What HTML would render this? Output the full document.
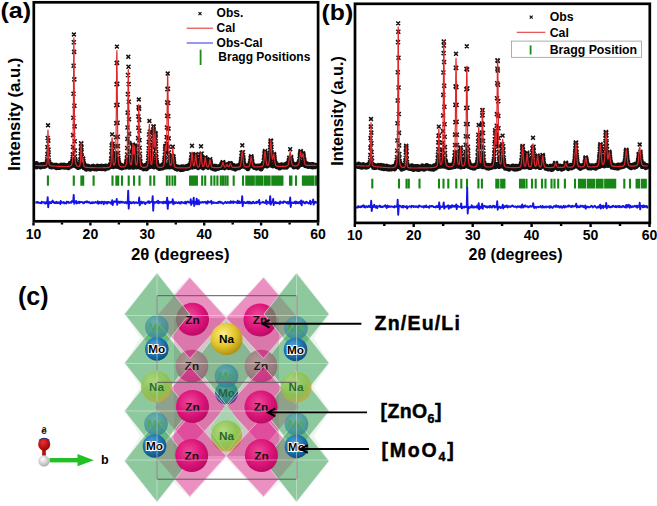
<!DOCTYPE html>
<html><head><meta charset="utf-8">
<style>
html,body{margin:0;padding:0;background:#fff;}
body{width:657px;height:506px;overflow:hidden;position:relative;}
svg{position:absolute;left:0;top:0;}
text{font-family:"Liberation Sans",sans-serif;font-weight:bold;}
.tl{font-size:14px;text-anchor:middle;fill:#000;}
.lg{font-size:12px;fill:#000;}
.lg2{font-size:12.3px;fill:#000;}
.ax{font-size:16px;fill:#000;}
.pl{font-size:22.5px;fill:#000;}
.sl{font-size:11.5px;fill:#111;text-anchor:middle;}
.rl{font-size:19.5px;fill:#000;}
</style></head>
<body>
<svg width="657" height="506" viewBox="0 0 657 506">
<defs>
 <radialGradient id="gZn" cx="0.42" cy="0.38" r="0.65">
  <stop offset="0" stop-color="#ec4a9a"/><stop offset="0.6" stop-color="#dc1479"/><stop offset="1" stop-color="#b80a62"/>
 </radialGradient>
 <radialGradient id="gZnG" cx="0.4" cy="0.35" r="0.7">
  <stop offset="0" stop-color="#b09898"/><stop offset="1" stop-color="#8a7272"/>
 </radialGradient>
 <radialGradient id="gNaY" cx="0.4" cy="0.35" r="0.7">
  <stop offset="0" stop-color="#fbf08a"/><stop offset="0.55" stop-color="#e2c42a"/><stop offset="1" stop-color="#a88a10"/>
 </radialGradient>
 <radialGradient id="gNaG" cx="0.4" cy="0.35" r="0.7">
  <stop offset="0" stop-color="#b9dc80"/><stop offset="0.6" stop-color="#8cc34e"/><stop offset="1" stop-color="#c6a53a"/>
 </radialGradient>
 <radialGradient id="gMo" cx="0.4" cy="0.35" r="0.7">
  <stop offset="0" stop-color="#4fa6d8"/><stop offset="0.6" stop-color="#1a6fa8"/><stop offset="1" stop-color="#0d4a7a"/>
 </radialGradient>
 <radialGradient id="gMoG" cx="0.4" cy="0.35" r="0.7">
  <stop offset="0" stop-color="#5aaab4"/><stop offset="1" stop-color="#2e8090"/>
 </radialGradient>
 <radialGradient id="gWh" cx="0.4" cy="0.35" r="0.7">
  <stop offset="0" stop-color="#ffffff"/><stop offset="1" stop-color="#a8a8a8"/>
 </radialGradient>
 <radialGradient id="gRd" cx="0.4" cy="0.35" r="0.7">
  <stop offset="0" stop-color="#e83030"/><stop offset="1" stop-color="#9a0000"/>
 </radialGradient>
</defs>

<!-- ================= PANEL A ================= -->
<text x="0" y="18.3" class="pl" transform="translate(0.4,0) scale(1.12,1)">(a)</text>
<polyline points="35.2,165.6 35.5,165 35.8,164.9 36.1,164.9 36.4,163.6 36.7,166.9 37,165.1 37.3,165.4 37.6,165.9 37.9,166.1 38.2,165.6 38.5,165.7 38.8,165 39.1,165.5 39.4,166.2 39.7,166.2 40,165.5 40.3,165.5 40.6,166.8 40.9,165.6 41.2,166.7 41.5,164.7 41.8,165.3 42.1,165.6 42.4,166 42.7,166.2 43,164.8 43.3,165.2 43.6,165.2 43.9,164.4 44.2,165.9 44.5,165 44.8,166.2 45.1,165.9 45.4,164.9 45.7,165.6 46,164.8 46.3,164.6 46.6,163.6 46.9,163.7 47.2,163.5 47.5,162.4 47.8,163.7 48.1,163.8 48.4,163.5 48.7,163.1 49,164.1 49.3,164.1 49.6,163.9 49.9,165.3 50.2,165 50.5,166.6 50.8,165.2 51.1,164.6 51.4,165.7 51.7,166.7 52,166.3 52.3,165 52.6,165.6 52.9,166.6 53.2,166.5 53.5,166.6 53.8,165.7 54.1,165.6 54.4,165.5 54.7,166.6 55,166.3 55.3,165.9 55.6,167 55.9,165.4 56.2,166.1 56.5,166.9 56.8,167.5 57.1,165.5 57.4,166.9 57.7,166.9 58,166.4 58.3,167.4 58.6,166.2 58.9,166.5 59.2,166.2 59.5,167.1 59.8,167.2 60.1,166.6 60.4,165.6 60.7,165.5 61,167 61.3,165.3 61.6,165.4 61.9,166.6 62.2,166.5 62.5,166.8 62.8,165.9 63.1,166.4 63.4,166.1 63.7,166.8 64,165.2 64.3,167.2 64.6,165.8 64.9,165.5 65.2,165.9 65.5,166.5 65.8,166.5 66.1,167 66.4,165.9 66.7,166.3 67,166.1 67.3,166.5 67.6,166.1 67.9,166.1 68.2,166.2 68.5,167.6 68.8,166 69.1,165.7 69.4,166.4 69.7,165.4 70,165.5 70.3,163.4 70.6,164.1 70.9,165.1 71.2,165.9 71.5,164.3 71.8,164.7 72.1,164.9 72.4,165.2 72.7,163.7 73,164.7 73.3,164.7 73.6,163.9 73.9,164.5 74.2,164.4 74.5,163.5 74.8,164.6 75.1,165.5 75.4,165.3 75.7,163.7 76,164 76.3,164.4 76.6,165.5 76.9,166 77.2,165 77.5,166.8 77.8,166.7 78.1,167.3 78.4,166.8 78.7,167.2 79,166.4 79.3,166.3 79.6,165.3 79.9,166.8 80.2,164 80.5,164.7 80.8,164.6 81.1,163.9 81.4,164.6 81.7,164.7 82,165 82.3,163.9 82.6,165.5 82.9,165.4 83.2,164.6 83.5,165 83.8,164.1 84.1,167.7 84.4,167.4 84.7,167.5 85,165.3 85.3,167.1 85.6,166.9 85.9,166.3 86.2,169 86.5,167.3 86.8,168.7 87.1,167 87.4,167.6 87.7,166.5 88,167.1 88.3,166.4 88.6,167.1 88.9,167.6 89.2,167.3 89.5,168.8 89.8,167.5 90.1,168.1 90.4,168.6 90.7,169 91,167.9 91.3,167.8 91.6,167.4 91.9,168.2 92.2,167.5 92.5,167.8 92.8,166.4 93.1,167.1 93.4,167.8 93.7,166.5 94,167 94.3,168.3 94.6,167.1 94.9,168.7 95.2,167.4 95.5,167.4 95.8,168.1 96.1,166.9 96.4,168 96.7,168.8 97,168 97.3,167.8 97.6,166.3 97.9,167.4 98.2,168.2 98.5,167.5 98.8,167.7 99.1,168.2 99.4,166.6 99.7,167.8 100,168.2 100.3,168.1 100.6,167.6 100.9,166.7 101.2,168 101.5,168 101.8,166.3 102.1,168.5 102.4,167.5 102.7,166.6 103,168 103.3,168.2 103.6,167.2 103.9,168.2 104.2,168.5 104.5,168.5 104.8,166.7 105.1,168.9 105.4,168.3 105.7,166.2 106,167.4 106.3,166.8 106.6,167.6 106.9,168 107.2,167.3 107.5,167 107.8,167.5 108.1,167.7 108.4,166.8 108.7,167.3 109,166.4 109.3,166.9 109.6,166.4 109.9,165.2 110.2,166.6 110.5,165.5 110.8,165.8 111.1,166.1 111.4,165.5 111.7,165.7 112,165.9 112.3,164.9 112.6,165.6 112.9,166.4 113.2,166.5 113.5,164.6 113.8,165.7 114.1,164.6 114.4,166 114.7,165.3 115,166.1 115.3,165 115.6,165.7 115.9,163.9 116.2,165 116.5,165.9 116.8,165.3 117.1,164.3 117.4,166.4 117.7,165.7 118,164.8 118.3,165 118.6,164.2 118.9,166.5 119.2,166.3 119.5,165.6 119.8,165 120.1,165.3 120.4,167.4 120.7,166.4 121,165.3 121.3,166.2 121.6,166.9 121.9,167.7 122.2,166.7 122.5,166.5 122.8,166.6 123.1,166.8 123.4,167.2 123.7,166.5 124,166.4 124.3,166.5 124.6,166.8 124.9,166.2 125.2,166 125.5,165.5 125.8,167 126.1,164.5 126.4,165.4 126.7,166.1 127,165.1 127.3,165.6 127.6,166.3 127.9,166 128.2,166 128.5,165.8 128.8,165.1 129.1,167 129.4,165 129.7,164.6 130,167 130.3,166.7 130.6,165.9 130.9,163.7 131.2,165.9 131.5,165.5 131.8,166.5 132.1,165 132.4,166 132.7,165.9 133,167.1 133.3,165.6 133.6,167.1 133.9,166.6 134.2,166 134.5,165.4 134.8,165.3 135.1,166.1 135.4,166.3 135.7,164.6 136,166.2 136.3,166 136.6,166.7 136.9,165.5 137.2,165.5 137.5,165.7 137.8,166 138.1,165.1 138.4,165.4 138.7,165.3 139,165.6 139.3,165.7 139.6,165.3 139.9,166.9 140.2,166.5 140.5,165.5 140.8,167.2 141.1,165.9 141.4,165.7 141.7,165.5 142,165.8 142.3,167 142.6,167.1 142.9,168 143.2,166.8 143.5,167.4 143.8,168.7 144.1,168 144.4,167.4 144.7,166.2 145,168.3 145.3,168.1 145.6,165.3 145.9,165.8 146.2,167.3 146.5,168.7 146.8,165.3 147.1,167.3 147.4,165.5 147.7,165.7 148,165.7 148.3,165.8 148.6,166.9 148.9,163.9 149.2,164.2 149.5,166.6 149.8,165.3 150.1,166.3 150.4,164.6 150.7,165.2 151,165.4 151.3,164.8 151.6,164.8 151.9,166 152.2,165.7 152.5,165.8 152.8,166 153.1,164.6 153.4,166.5 153.7,165 154,165.8 154.3,166.7 154.6,166.6 154.9,165.3 155.2,165.7 155.5,165.5 155.8,166.1 156.1,166.1 156.4,165.4 156.7,165.6 157,166.2 157.3,165.2 157.6,166.6 157.9,167.2 158.2,166.2 158.5,167.2 158.8,166.7 159.1,168.2 159.4,167.1 159.7,168.1 160,167.6 160.3,168.1 160.6,166.3 160.9,167.4 161.2,167.2 161.5,167.1 161.8,165.8 162.1,167.5 162.4,165.9 162.7,167.8 163,166.1 163.3,166.7 163.6,164.6 163.9,165.5 164.2,165.9 164.5,165.1 164.8,166.2 165.1,165.9 165.4,166.1 165.7,166.3 166,165.9 166.3,166.9 166.6,166.2 166.9,165.3 167.2,166 167.5,165.6 167.8,164.9 168.1,166.5 168.4,166.1 168.7,166.1 169,166 169.3,166.7 169.6,166.1 169.9,165.9 170.2,166 170.5,166 170.8,164.8 171.1,164.8 171.4,166.6 171.7,166.2 172,165.4 172.3,165.6 172.6,165.2 172.9,166.7 173.2,164.5 173.5,165.9 173.8,165.4 174.1,166.4 174.4,165.7 174.7,166.4 175,166.2 175.3,167.8 175.6,168.3 175.9,166.5 176.2,166.8 176.5,167.9 176.8,168.7 177.1,169 177.4,167 177.7,168.2 178,167.9 178.3,168.2 178.6,167.2 178.9,168.6 179.2,167.9 179.5,168.3 179.8,168.3 180.1,167.7 180.4,168.9 180.7,167.5 181,169.5 181.3,168.4 181.6,167.6 181.9,167 182.2,168.2 182.5,169.4 182.8,168.9 183.1,166.9 183.4,167.2 183.7,167.5 184,169 184.3,167.7 184.6,168.3 184.9,168.3 185.2,168.2 185.5,168.4 185.8,168.2 186.1,167.5 186.4,166.7 186.7,168.1 187,168.1 187.3,168.2 187.6,166.6 187.9,167.1 188.2,167.9 188.5,167.4 188.8,165.8 189.1,167.5 189.4,167 189.7,167.3 190,167.3 190.3,165.9 190.6,165 190.9,165.4 191.2,164.9 191.5,166.1 191.8,166.5 192.1,167 192.4,166.8 192.7,166 193,166.1 193.3,165.6 193.6,166.5 193.9,164.5 194.2,164.7 194.5,164.6 194.8,165.9 195.1,166.5 195.4,164.8 195.7,166.2 196,164.7 196.3,165.4 196.6,165.1 196.9,165.3 197.2,166.3 197.5,166.1 197.8,166.4 198.1,165.8 198.4,167.5 198.7,165.1 199,167 199.3,166 199.6,165.2 199.9,166.6 200.2,166.6 200.5,166.2 200.8,164.9 201.1,165.2 201.4,166 201.7,165.2 202,164.8 202.3,166.3 202.6,165.9 202.9,166.9 203.2,167.7 203.5,165.3 203.8,164.4 204.1,164.9 204.4,164.1 204.7,164.8 205,164.8 205.3,165.7 205.6,164.6 205.9,164.6 206.2,166 206.5,165.7 206.8,166.3 207.1,164.9 207.4,166.6 207.7,166.5 208,167.2 208.3,165.9 208.6,166.2 208.9,164.3 209.2,166.4 209.5,166 209.8,165.4 210.1,165.7 210.4,164.8 210.7,166.6 211,165.3 211.3,165.9 211.6,167.2 211.9,167.8 212.2,166.2 212.5,167.3 212.8,167.6 213.1,168.4 213.4,167.2 213.7,167.3 214,167.6 214.3,166.4 214.6,168 214.9,167.1 215.2,167.1 215.5,169.2 215.8,166.4 216.1,167.6 216.4,168.5 216.7,168.4 217,167.7 217.3,167.3 217.6,168.4 217.9,167.2 218.2,168.2 218.5,167.1 218.8,166.9 219.1,166.9 219.4,167 219.7,166.5 220,167.2 220.3,167.1 220.6,166.9 220.9,166.6 221.2,166.9 221.5,167.3 221.8,163.9 222.1,165.1 222.4,165.8 222.7,165.2 223,165.1 223.3,164.5 223.6,164.7 223.9,166.2 224.2,166.1 224.5,166.2 224.8,167.7 225.1,166.5 225.4,166.7 225.7,165.5 226,166.3 226.3,165.6 226.6,165.6 226.9,164.9 227.2,165.5 227.5,164.7 227.8,165.9 228.1,165.9 228.4,166 228.7,166.4 229,167.5 229.3,166.8 229.6,165.9 229.9,163.9 230.2,165.3 230.5,165.9 230.8,165.6 231.1,164.2 231.4,166 231.7,167.1 232,167.8 232.3,166.5 232.6,166.3 232.9,168 233.2,166.7 233.5,167.1 233.8,165.6 234.1,167.2 234.4,168.2 234.7,168.5 235,166.9 235.3,169 235.6,167.4 235.9,167.4 236.2,167.1 236.5,167.4 236.8,166.7 237.1,166.3 237.4,166 237.7,167.2 238,166.8 238.3,167.5 238.6,166.8 238.9,167 239.2,167.5 239.5,166.9 239.8,165.6 240.1,165.6 240.4,164.4 240.7,165 241,164.7 241.3,166.4 241.6,166.2 241.9,163.9 242.2,164.4 242.5,165.5 242.8,164.7 243.1,164.5 243.4,165.1 243.7,165 244,166.1 244.3,165.8 244.6,165.8 244.9,166.6 245.2,166.3 245.5,165.6 245.8,166.9 246.1,167.2 246.4,166.6 246.7,167 247,166.2 247.3,167.3 247.6,166.6 247.9,168.7 248.2,166.3 248.5,166.6 248.8,166.5 249.1,166.3 249.4,164.7 249.7,165.3 250,165.1 250.3,164.8 250.6,165.4 250.9,165.4 251.2,164.5 251.5,164.3 251.8,165.3 252.1,165.5 252.4,164.8 252.7,165.2 253,165.2 253.3,166.5 253.6,166.3 253.9,166.5 254.2,167.3 254.5,166.5 254.8,167 255.1,166.4 255.4,167.4 255.7,166.9 256,166.3 256.3,167.1 256.6,168 256.9,166.9 257.2,166.5 257.5,166.9 257.8,166.3 258.1,167.3 258.4,166.7 258.7,167.5 259,167.6 259.3,166.2 259.6,166.9 259.9,166.8 260.2,167.1 260.5,166.8 260.8,167 261.1,168.8 261.4,166.5 261.7,165.4 262,165.9 262.3,166.1 262.6,166.6 262.9,166.1 263.2,163.9 263.5,165.5 263.8,165.1 264.1,164.3 264.4,164 264.7,163.5 265,163.6 265.3,165.2 265.6,164.3 265.9,164.1 266.2,164.1 266.5,164.7 266.8,165.2 267.1,165.8 267.4,164.6 267.7,165.3 268,164.7 268.3,164.9 268.6,164.3 268.9,163.8 269.2,163.9 269.5,164.3 269.8,164.1 270.1,163.7 270.4,164.9 270.7,164.2 271,164.4 271.3,164.9 271.6,164.7 271.9,164.8 272.2,164.3 272.5,164.5 272.8,165.7 273.1,164.4 273.4,165.6 273.7,163.8 274,163.5 274.3,165.4 274.6,164.5 274.9,164.3 275.2,162.7 275.5,165.1 275.8,165.4 276.1,165.6 276.4,165.5 276.7,166.5 277,166.2 277.3,165.6 277.6,166.3 277.9,165 278.2,165.9 278.5,165.8 278.8,167 279.1,166.3 279.4,166.1 279.7,167.8 280,165.8 280.3,165.5 280.6,165.8 280.9,166 281.2,166.4 281.5,164.9 281.8,165.1 282.1,165.9 282.4,166.9 282.7,166.4 283,166.1 283.3,166.5 283.6,165.9 283.9,166.2 284.2,165.2 284.5,167 284.8,165.3 285.1,166.3 285.4,165.8 285.7,165.7 286,165.3 286.3,164.2 286.6,167 286.9,165.6 287.2,164.1 287.5,165.4 287.8,165.4 288.1,163.5 288.4,163.8 288.7,163.2 289,163.4 289.3,164.1 289.6,163.1 289.9,163.8 290.2,164.1 290.5,164.7 290.8,164.3 291.1,163 291.4,163.2 291.7,163.4 292,162.7 292.3,164.8 292.6,164.6 292.9,164.1 293.2,164.5 293.5,166 293.8,166.7 294.1,165.5 294.4,165.4 294.7,165.6 295,164.7 295.3,166.5 295.6,165.4 295.9,166.1 296.2,165.3 296.5,165.4 296.8,164.6 297.1,164.9 297.4,166.5 297.7,167 298,166.1 298.3,165.3 298.6,164.9 298.9,162.7 299.2,164.1 299.5,164.2 299.8,164.8 300.1,164.3 300.4,164 300.7,162.9 301,163.8 301.3,162.8 301.6,162.9 301.9,164.2 302.2,164.1 302.5,162.7 302.8,164 303.1,163 303.4,163.7 303.7,164.1 304,163.6 304.3,164.5 304.6,163.3 304.9,164.5 305.2,163.7 305.5,165.6 305.8,165.3 306.1,164.7 306.4,165.2 306.7,163.8 307,165.4 307.3,165.1 307.6,165.4 307.9,165.3 308.2,166.4 308.5,165.9 308.8,164.5 309.1,164.9 309.4,165.9 309.7,165.6 310,166 310.3,164.9 310.6,165.8 310.9,165.3 311.2,166.6 311.5,166.6 311.8,166 312.1,164.6 312.4,166.2 312.7,166.8 313,165.2 313.3,164.8 313.6,165.4 313.9,166.5 314.2,166.4 314.5,166 314.8,166 315.1,166.5 315.4,165.4 315.7,165.3 316,165.5" fill="none" stroke="#111" stroke-width="5.3" stroke-linejoin="round"/>
<path d="M45.1 159.4l4 4m0 -4l-4 4M45.2 157.3l4 4m0 -4l-4 4M45.4 152.1l4 4m0 -4l-4 4M45.5 145.1l4 4m0 -4l-4 4M45.7 136l4 4m0 -4l-4 4M46.3 138.6l4 4m0 -4l-4 4M46.5 147.6l4 4m0 -4l-4 4M46.7 152.8l4 4m0 -4l-4 4M46.8 158.2l4 4m0 -4l-4 4M47 160.2l4 4m0 -4l-4 4M70.2 161.4l4 4m0 -4l-4 4M70.3 159.7l4 4m0 -4l-4 4M70.5 158.9l4 4m0 -4l-4 4M70.7 157l4 4m0 -4l-4 4M70.8 152.4l4 4m0 -4l-4 4M71 145l4 4m0 -4l-4 4M71.1 133.1l4 4m0 -4l-4 4M71.3 115.7l4 4m0 -4l-4 4M71.5 91.7l4 4m0 -4l-4 4M71.6 63.7l4 4m0 -4l-4 4M71.8 40.3l4 4m0 -4l-4 4M72.1 49.9l4 4m0 -4l-4 4M72.3 77.4l4 4m0 -4l-4 4M72.4 103.8l4 4m0 -4l-4 4M72.6 124.4l4 4m0 -4l-4 4M72.7 139.2l4 4m0 -4l-4 4M72.9 148.5l4 4m0 -4l-4 4M73.1 154.5l4 4m0 -4l-4 4M73.2 157.8l4 4m0 -4l-4 4M73.4 159l4 4m0 -4l-4 4M73.5 160.4l4 4m0 -4l-4 4M73.7 161.7l4 4m0 -4l-4 4M78.3 159.9l4 4m0 -4l-4 4M78.5 157.9l4 4m0 -4l-4 4M78.7 154.1l4 4m0 -4l-4 4M78.8 149.2l4 4m0 -4l-4 4M79 144.8l4 4m0 -4l-4 4M79.1 141.4l4 4m0 -4l-4 4M79.3 141.5l4 4m0 -4l-4 4M79.5 145.4l4 4m0 -4l-4 4M79.6 150.3l4 4m0 -4l-4 4M79.8 154.6l4 4m0 -4l-4 4M79.9 157.7l4 4m0 -4l-4 4M80.1 159.7l4 4m0 -4l-4 4M80.3 159.9l4 4m0 -4l-4 4M80.4 160.4l4 4m0 -4l-4 4M80.6 158.8l4 4m0 -4l-4 4M80.7 157.4l4 4m0 -4l-4 4M80.9 156.8l4 4m0 -4l-4 4M81.1 156.6l4 4m0 -4l-4 4M81.2 156.7l4 4m0 -4l-4 4M81.4 159.2l4 4m0 -4l-4 4M81.5 161.2l4 4m0 -4l-4 4M108.9 162l4 4m0 -4l-4 4M109.1 159.3l4 4m0 -4l-4 4M109.2 157l4 4m0 -4l-4 4M109.4 153.3l4 4m0 -4l-4 4M109.5 149l4 4m0 -4l-4 4M109.7 143.4l4 4m0 -4l-4 4M110.5 141.7l4 4m0 -4l-4 4M110.7 148.4l4 4m0 -4l-4 4M110.8 153.2l4 4m0 -4l-4 4M111 156.8l4 4m0 -4l-4 4M111.1 159.2l4 4m0 -4l-4 4M111.3 160.9l4 4m0 -4l-4 4M111.5 162.2l4 4m0 -4l-4 4M111.6 162.2l4 4m0 -4l-4 4M112.6 162.6l4 4m0 -4l-4 4M112.7 161.9l4 4m0 -4l-4 4M112.9 161.5l4 4m0 -4l-4 4M113.1 159.7l4 4m0 -4l-4 4M113.2 159.2l4 4m0 -4l-4 4M113.4 158l4 4m0 -4l-4 4M113.5 155.2l4 4m0 -4l-4 4M113.7 151.6l4 4m0 -4l-4 4M113.9 144l4 4m0 -4l-4 4M114 135.2l4 4m0 -4l-4 4M114.2 121.2l4 4m0 -4l-4 4M114.3 103.3l4 4m0 -4l-4 4M114.5 82.2l4 4m0 -4l-4 4M114.7 61l4 4m0 -4l-4 4M115.1 60.7l4 4m0 -4l-4 4M115.3 81.8l4 4m0 -4l-4 4M115.5 102.7l4 4m0 -4l-4 4M115.6 120.7l4 4m0 -4l-4 4M115.8 134.7l4 4m0 -4l-4 4M115.9 144.1l4 4m0 -4l-4 4M116.1 151l4 4m0 -4l-4 4M116.3 156l4 4m0 -4l-4 4M116.4 157.9l4 4m0 -4l-4 4M116.6 160.3l4 4m0 -4l-4 4M116.7 161l4 4m0 -4l-4 4M116.9 161.2l4 4m0 -4l-4 4M117.1 162.5l4 4m0 -4l-4 4M124.1 162.5l4 4m0 -4l-4 4M124.3 161.6l4 4m0 -4l-4 4M124.4 160.3l4 4m0 -4l-4 4M124.6 160.3l4 4m0 -4l-4 4M124.7 158.8l4 4m0 -4l-4 4M124.9 156.5l4 4m0 -4l-4 4M125.1 152.5l4 4m0 -4l-4 4M125.2 146l4 4m0 -4l-4 4M125.4 136.9l4 4m0 -4l-4 4M125.5 125.5l4 4m0 -4l-4 4M125.7 110.6l4 4m0 -4l-4 4M125.9 92.1l4 4m0 -4l-4 4M126 73l4 4m0 -4l-4 4M126.5 64.7l4 4m0 -4l-4 4M126.7 82l4 4m0 -4l-4 4M126.8 99.7l4 4m0 -4l-4 4M127 117.3l4 4m0 -4l-4 4M127.1 131.9l4 4m0 -4l-4 4M127.3 141l4 4m0 -4l-4 4M127.5 149.8l4 4m0 -4l-4 4M127.6 154.5l4 4m0 -4l-4 4M127.8 157.5l4 4m0 -4l-4 4M127.9 159.3l4 4m0 -4l-4 4M128.1 160.5l4 4m0 -4l-4 4M128.3 161.4l4 4m0 -4l-4 4M128.4 162.3l4 4m0 -4l-4 4M128.6 161.6l4 4m0 -4l-4 4M128.7 161.6l4 4m0 -4l-4 4M128.9 161.7l4 4m0 -4l-4 4M129.1 162.6l4 4m0 -4l-4 4M129.2 162.9l4 4m0 -4l-4 4M129.4 162l4 4m0 -4l-4 4M129.5 162l4 4m0 -4l-4 4M129.7 161.1l4 4m0 -4l-4 4M129.9 160.2l4 4m0 -4l-4 4M130 158.2l4 4m0 -4l-4 4M130.2 155.5l4 4m0 -4l-4 4M130.3 152l4 4m0 -4l-4 4M130.5 148.4l4 4m0 -4l-4 4M130.7 145.4l4 4m0 -4l-4 4M130.8 142.6l4 4m0 -4l-4 4M131 142.8l4 4m0 -4l-4 4M131.1 143.9l4 4m0 -4l-4 4M131.3 147.4l4 4m0 -4l-4 4M131.5 149.7l4 4m0 -4l-4 4M131.6 151.7l4 4m0 -4l-4 4M131.8 151.5l4 4m0 -4l-4 4M131.9 151.8l4 4m0 -4l-4 4M132.1 149.5l4 4m0 -4l-4 4M132.3 147.9l4 4m0 -4l-4 4M132.4 145.5l4 4m0 -4l-4 4M132.6 143.8l4 4m0 -4l-4 4M132.7 145.7l4 4m0 -4l-4 4M132.9 148.4l4 4m0 -4l-4 4M133.1 151.9l4 4m0 -4l-4 4M133.2 154.8l4 4m0 -4l-4 4M133.4 156.9l4 4m0 -4l-4 4M133.5 159.7l4 4m0 -4l-4 4M133.7 160.2l4 4m0 -4l-4 4M133.9 161.6l4 4m0 -4l-4 4M134 162.5l4 4m0 -4l-4 4M134.2 162l4 4m0 -4l-4 4M134.7 163.1l4 4m0 -4l-4 4M134.8 162.6l4 4m0 -4l-4 4M135 161.9l4 4m0 -4l-4 4M135.1 160.3l4 4m0 -4l-4 4M135.3 159.7l4 4m0 -4l-4 4M135.5 158.3l4 4m0 -4l-4 4M135.6 155.2l4 4m0 -4l-4 4M135.8 150.2l4 4m0 -4l-4 4M135.9 143.8l4 4m0 -4l-4 4M136.1 136.1l4 4m0 -4l-4 4M136.3 125.7l4 4m0 -4l-4 4M136.4 114.4l4 4m0 -4l-4 4M136.6 105.2l4 4m0 -4l-4 4M137.1 106.6l4 4m0 -4l-4 4M137.2 117.9l4 4m0 -4l-4 4M137.4 128.8l4 4m0 -4l-4 4M137.5 138.1l4 4m0 -4l-4 4M137.7 145.8l4 4m0 -4l-4 4M137.9 151.7l4 4m0 -4l-4 4M138 156.4l4 4m0 -4l-4 4M138.2 159l4 4m0 -4l-4 4M138.3 160.3l4 4m0 -4l-4 4M138.5 162.5l4 4m0 -4l-4 4M138.7 162.7l4 4m0 -4l-4 4M145.9 162.2l4 4m0 -4l-4 4M146 161.2l4 4m0 -4l-4 4M146.2 158.7l4 4m0 -4l-4 4M146.3 155.9l4 4m0 -4l-4 4M146.5 151.4l4 4m0 -4l-4 4M146.7 146.3l4 4m0 -4l-4 4M146.8 139.9l4 4m0 -4l-4 4M147 132.5l4 4m0 -4l-4 4M147.8 129.8l4 4m0 -4l-4 4M147.9 137.5l4 4m0 -4l-4 4M148.1 143.8l4 4m0 -4l-4 4M148.3 150l4 4m0 -4l-4 4M148.4 154l4 4m0 -4l-4 4M148.6 156.9l4 4m0 -4l-4 4M148.7 159.5l4 4m0 -4l-4 4M148.9 160.4l4 4m0 -4l-4 4M149.1 162.8l4 4m0 -4l-4 4M149.2 161.8l4 4m0 -4l-4 4M149.4 162.3l4 4m0 -4l-4 4M149.5 162.9l4 4m0 -4l-4 4M149.7 161.9l4 4m0 -4l-4 4M149.9 161.3l4 4m0 -4l-4 4M150 160.4l4 4m0 -4l-4 4M150.2 160l4 4m0 -4l-4 4M150.3 157l4 4m0 -4l-4 4M150.5 155.3l4 4m0 -4l-4 4M150.7 151l4 4m0 -4l-4 4M150.8 145.7l4 4m0 -4l-4 4M151 140.4l4 4m0 -4l-4 4M151.1 133.7l4 4m0 -4l-4 4M151.3 128l4 4m0 -4l-4 4M151.5 124.4l4 4m0 -4l-4 4M151.6 124.9l4 4m0 -4l-4 4M151.8 129.5l4 4m0 -4l-4 4M151.9 133.7l4 4m0 -4l-4 4M152.1 138.8l4 4m0 -4l-4 4M152.3 142.4l4 4m0 -4l-4 4M152.4 144.9l4 4m0 -4l-4 4M152.6 144.4l4 4m0 -4l-4 4M152.7 143.2l4 4m0 -4l-4 4M152.9 141.2l4 4m0 -4l-4 4M153.1 136.2l4 4m0 -4l-4 4M153.2 133.3l4 4m0 -4l-4 4M153.4 131.1l4 4m0 -4l-4 4M153.5 132.1l4 4m0 -4l-4 4M153.7 136.4l4 4m0 -4l-4 4M153.9 141.6l4 4m0 -4l-4 4M154 147.2l4 4m0 -4l-4 4M154.2 151.8l4 4m0 -4l-4 4M154.3 155.4l4 4m0 -4l-4 4M154.5 158l4 4m0 -4l-4 4M154.7 160l4 4m0 -4l-4 4M154.8 161.6l4 4m0 -4l-4 4M155 162.4l4 4m0 -4l-4 4M162 162.1l4 4m0 -4l-4 4M162.2 162.3l4 4m0 -4l-4 4M162.3 160.3l4 4m0 -4l-4 4M162.5 157.6l4 4m0 -4l-4 4M162.7 155.7l4 4m0 -4l-4 4M162.8 153l4 4m0 -4l-4 4M163 149.8l4 4m0 -4l-4 4M163.1 146.6l4 4m0 -4l-4 4M163.3 144.8l4 4m0 -4l-4 4M163.5 144l4 4m0 -4l-4 4M163.6 145l4 4m0 -4l-4 4M163.8 146.9l4 4m0 -4l-4 4M163.9 147.8l4 4m0 -4l-4 4M164.1 148.9l4 4m0 -4l-4 4M164.3 148.2l4 4m0 -4l-4 4M164.4 145.8l4 4m0 -4l-4 4M164.6 141.6l4 4m0 -4l-4 4M164.7 135.1l4 4m0 -4l-4 4M164.9 125.5l4 4m0 -4l-4 4M165.1 113.7l4 4m0 -4l-4 4M165.2 100.4l4 4m0 -4l-4 4M165.4 87.1l4 4m0 -4l-4 4M166 86.8l4 4m0 -4l-4 4M166.2 101l4 4m0 -4l-4 4M166.3 114.3l4 4m0 -4l-4 4M166.5 126.6l4 4m0 -4l-4 4M166.7 136.4l4 4m0 -4l-4 4M166.8 144.8l4 4m0 -4l-4 4M167 150.5l4 4m0 -4l-4 4M167.1 154.4l4 4m0 -4l-4 4M167.3 157.7l4 4m0 -4l-4 4M167.5 159.8l4 4m0 -4l-4 4M167.6 160.8l4 4m0 -4l-4 4M167.8 161l4 4m0 -4l-4 4M167.9 162.2l4 4m0 -4l-4 4M168.1 162.8l4 4m0 -4l-4 4M169.2 163.2l4 4m0 -4l-4 4M169.4 162.7l4 4m0 -4l-4 4M169.5 161.7l4 4m0 -4l-4 4M169.7 160l4 4m0 -4l-4 4M169.9 158.6l4 4m0 -4l-4 4M170 156.5l4 4m0 -4l-4 4M170.2 153.6l4 4m0 -4l-4 4M171.5 154.6l4 4m0 -4l-4 4M171.6 156.9l4 4m0 -4l-4 4M171.8 158.7l4 4m0 -4l-4 4M171.9 160.6l4 4m0 -4l-4 4M172.1 162.2l4 4m0 -4l-4 4M188.7 161.4l4 4m0 -4l-4 4M188.9 159.2l4 4m0 -4l-4 4M189.1 157.7l4 4m0 -4l-4 4M189.2 155.5l4 4m0 -4l-4 4M189.4 152.4l4 4m0 -4l-4 4M190.7 153.1l4 4m0 -4l-4 4M190.8 156.2l4 4m0 -4l-4 4M191 158.9l4 4m0 -4l-4 4M191.1 160.3l4 4m0 -4l-4 4M191.3 161.5l4 4m0 -4l-4 4M191.5 162.9l4 4m0 -4l-4 4M192.4 162.3l4 4m0 -4l-4 4M192.6 162.1l4 4m0 -4l-4 4M192.7 160.7l4 4m0 -4l-4 4M192.9 159.4l4 4m0 -4l-4 4M193.1 157.4l4 4m0 -4l-4 4M193.2 156l4 4m0 -4l-4 4M193.4 154.3l4 4m0 -4l-4 4M193.5 152.8l4 4m0 -4l-4 4M193.7 152.4l4 4m0 -4l-4 4M193.9 152.3l4 4m0 -4l-4 4M194 154.5l4 4m0 -4l-4 4M194.2 155.8l4 4m0 -4l-4 4M194.3 157.8l4 4m0 -4l-4 4M194.5 159.1l4 4m0 -4l-4 4M194.7 160.6l4 4m0 -4l-4 4M194.8 161.7l4 4m0 -4l-4 4M197.5 162.9l4 4m0 -4l-4 4M197.7 161.1l4 4m0 -4l-4 4M197.9 159.7l4 4m0 -4l-4 4M198 158.1l4 4m0 -4l-4 4M198.2 155.4l4 4m0 -4l-4 4M198.3 152.9l4 4m0 -4l-4 4M199.6 151.6l4 4m0 -4l-4 4M199.8 155.2l4 4m0 -4l-4 4M199.9 157.8l4 4m0 -4l-4 4M200.1 159.9l4 4m0 -4l-4 4M200.3 161.5l4 4m0 -4l-4 4M200.4 162.5l4 4m0 -4l-4 4M202.3 162.4l4 4m0 -4l-4 4M202.5 159.9l4 4m0 -4l-4 4M202.7 159.3l4 4m0 -4l-4 4M202.8 158.2l4 4m0 -4l-4 4M203 156l4 4m0 -4l-4 4M203.1 155.6l4 4m0 -4l-4 4M203.3 156l4 4m0 -4l-4 4M203.5 155.6l4 4m0 -4l-4 4M203.6 157.2l4 4m0 -4l-4 4M203.8 158.4l4 4m0 -4l-4 4M203.9 159.9l4 4m0 -4l-4 4M204.1 161l4 4m0 -4l-4 4M204.3 162l4 4m0 -4l-4 4M207.1 162.3l4 4m0 -4l-4 4M207.3 160.7l4 4m0 -4l-4 4M207.5 160.7l4 4m0 -4l-4 4M207.6 158.9l4 4m0 -4l-4 4M207.8 157.8l4 4m0 -4l-4 4M207.9 157.8l4 4m0 -4l-4 4M208.1 157.2l4 4m0 -4l-4 4M208.3 159.2l4 4m0 -4l-4 4M208.4 160.2l4 4m0 -4l-4 4M208.6 160.8l4 4m0 -4l-4 4M208.7 161l4 4m0 -4l-4 4M208.9 162.5l4 4m0 -4l-4 4M220.4 161.7l4 4m0 -4l-4 4M220.6 160.8l4 4m0 -4l-4 4M220.7 160.4l4 4m0 -4l-4 4M220.9 160.5l4 4m0 -4l-4 4M221.1 160.3l4 4m0 -4l-4 4M221.2 160.9l4 4m0 -4l-4 4M221.4 161.6l4 4m0 -4l-4 4M228.1 161.4l4 4m0 -4l-4 4M228.3 161.5l4 4m0 -4l-4 4M228.4 161.4l4 4m0 -4l-4 4M228.6 162.3l4 4m0 -4l-4 4M228.7 162.1l4 4m0 -4l-4 4M238.8 161.4l4 4m0 -4l-4 4M239 160.1l4 4m0 -4l-4 4M239.1 158.5l4 4m0 -4l-4 4M239.3 156.6l4 4m0 -4l-4 4M239.5 154.2l4 4m0 -4l-4 4M239.6 150.9l4 4m0 -4l-4 4M240.9 150.3l4 4m0 -4l-4 4M241.1 153l4 4m0 -4l-4 4M241.2 155.3l4 4m0 -4l-4 4M241.4 157.4l4 4m0 -4l-4 4M241.5 158.9l4 4m0 -4l-4 4M241.7 160.5l4 4m0 -4l-4 4M241.9 161.9l4 4m0 -4l-4 4M248.1 161.3l4 4m0 -4l-4 4M248.3 160.6l4 4m0 -4l-4 4M248.4 159.3l4 4m0 -4l-4 4M248.6 158.5l4 4m0 -4l-4 4M248.7 156.4l4 4m0 -4l-4 4M248.9 155.8l4 4m0 -4l-4 4M249.1 155.2l4 4m0 -4l-4 4M249.2 154.3l4 4m0 -4l-4 4M249.4 155.1l4 4m0 -4l-4 4M249.5 156l4 4m0 -4l-4 4M249.7 157l4 4m0 -4l-4 4M249.9 158.7l4 4m0 -4l-4 4M250 159.7l4 4m0 -4l-4 4M250.2 160.5l4 4m0 -4l-4 4M250.3 161.9l4 4m0 -4l-4 4M261.5 161.6l4 4m0 -4l-4 4M261.7 161.6l4 4m0 -4l-4 4M261.9 158.7l4 4m0 -4l-4 4M262 158l4 4m0 -4l-4 4M262.2 156.3l4 4m0 -4l-4 4M262.3 154.6l4 4m0 -4l-4 4M262.5 152l4 4m0 -4l-4 4M262.7 151.1l4 4m0 -4l-4 4M262.8 149.6l4 4m0 -4l-4 4M263 149.5l4 4m0 -4l-4 4M263.1 149.1l4 4m0 -4l-4 4M263.3 151.3l4 4m0 -4l-4 4M263.5 152.1l4 4m0 -4l-4 4M263.6 153.7l4 4m0 -4l-4 4M263.8 155.7l4 4m0 -4l-4 4M263.9 156.6l4 4m0 -4l-4 4M264.1 158.2l4 4m0 -4l-4 4M264.3 160l4 4m0 -4l-4 4M264.4 160.7l4 4m0 -4l-4 4M267 161.1l4 4m0 -4l-4 4M267.1 159.3l4 4m0 -4l-4 4M267.3 158.4l4 4m0 -4l-4 4M267.5 156.8l4 4m0 -4l-4 4M267.6 156.2l4 4m0 -4l-4 4M267.8 153.2l4 4m0 -4l-4 4M267.9 151.3l4 4m0 -4l-4 4M268.1 147.8l4 4m0 -4l-4 4M268.3 145.4l4 4m0 -4l-4 4M268.4 142l4 4m0 -4l-4 4M268.6 139.7l4 4m0 -4l-4 4M268.7 138.6l4 4m0 -4l-4 4M268.9 138.7l4 4m0 -4l-4 4M269.1 139.3l4 4m0 -4l-4 4M269.2 142.5l4 4m0 -4l-4 4M269.4 144.8l4 4m0 -4l-4 4M269.5 147.7l4 4m0 -4l-4 4M269.7 150.5l4 4m0 -4l-4 4M269.9 152.6l4 4m0 -4l-4 4M270 154.5l4 4m0 -4l-4 4M270.2 156.3l4 4m0 -4l-4 4M270.3 157.2l4 4m0 -4l-4 4M270.5 157.9l4 4m0 -4l-4 4M270.7 156.9l4 4m0 -4l-4 4M270.8 156.7l4 4m0 -4l-4 4M271 156l4 4m0 -4l-4 4M271.1 155l4 4m0 -4l-4 4M271.3 154.3l4 4m0 -4l-4 4M271.5 153.3l4 4m0 -4l-4 4M271.6 152.2l4 4m0 -4l-4 4M271.8 152l4 4m0 -4l-4 4M271.9 152.8l4 4m0 -4l-4 4M272.1 153.1l4 4m0 -4l-4 4M272.3 154.9l4 4m0 -4l-4 4M272.4 155.8l4 4m0 -4l-4 4M272.6 157.4l4 4m0 -4l-4 4M272.7 159.2l4 4m0 -4l-4 4M272.9 159.4l4 4m0 -4l-4 4M273.1 160.7l4 4m0 -4l-4 4M286.7 161l4 4m0 -4l-4 4M286.8 159.6l4 4m0 -4l-4 4M287 158.9l4 4m0 -4l-4 4M287.1 157.9l4 4m0 -4l-4 4M287.3 155.9l4 4m0 -4l-4 4M289.1 155l4 4m0 -4l-4 4M289.2 156.5l4 4m0 -4l-4 4M289.4 158.2l4 4m0 -4l-4 4M289.5 159.1l4 4m0 -4l-4 4M289.7 160.4l4 4m0 -4l-4 4M297.1 160.9l4 4m0 -4l-4 4M297.2 159.8l4 4m0 -4l-4 4M297.4 159.2l4 4m0 -4l-4 4M297.5 156.9l4 4m0 -4l-4 4M297.7 156.8l4 4m0 -4l-4 4M297.9 154.4l4 4m0 -4l-4 4M298 153.3l4 4m0 -4l-4 4M298.2 152.1l4 4m0 -4l-4 4M298.3 150.8l4 4m0 -4l-4 4M298.5 149.4l4 4m0 -4l-4 4M298.7 149.7l4 4m0 -4l-4 4M298.8 149.2l4 4m0 -4l-4 4M299 150.8l4 4m0 -4l-4 4M299.1 151.8l4 4m0 -4l-4 4M299.3 153.6l4 4m0 -4l-4 4M299.5 153.8l4 4m0 -4l-4 4M299.6 154.3l4 4m0 -4l-4 4M299.8 154.8l4 4m0 -4l-4 4M299.9 154.9l4 4m0 -4l-4 4M300.1 155l4 4m0 -4l-4 4M300.3 154.7l4 4m0 -4l-4 4M300.4 154.7l4 4m0 -4l-4 4M300.6 152.8l4 4m0 -4l-4 4M300.7 152.7l4 4m0 -4l-4 4M300.9 151.4l4 4m0 -4l-4 4M301.1 151.6l4 4m0 -4l-4 4M301.2 152.4l4 4m0 -4l-4 4M301.4 153.2l4 4m0 -4l-4 4M301.5 154.1l4 4m0 -4l-4 4M301.7 154.7l4 4m0 -4l-4 4M301.9 156.6l4 4m0 -4l-4 4M302 158l4 4m0 -4l-4 4M302.2 157.9l4 4m0 -4l-4 4M302.3 159.2l4 4m0 -4l-4 4M302.5 160.3l4 4m0 -4l-4 4M46.1 123.4l3.8 3.8m0 -3.8l-3.8 3.8M72 32.6l3.8 3.8m0 -3.8l-3.8 3.8M110.2 132.5l3.8 3.8m0 -3.8l-3.8 3.8M115 44.7l3.8 3.8m0 -3.8l-3.8 3.8M126.4 54.9l3.8 3.8m0 -3.8l-3.8 3.8M136.9 97.6l3.8 3.8m0 -3.8l-3.8 3.8M147.5 119.1l3.8 3.8m0 -3.8l-3.8 3.8M165.8 71.6l3.8 3.8m0 -3.8l-3.8 3.8M170.9 144.9l3.8 3.8m0 -3.8l-3.8 3.8M190.1 143.9l3.8 3.8m0 -3.8l-3.8 3.8M199.1 144.4l3.8 3.8m0 -3.8l-3.8 3.8M240.4 143.4l3.8 3.8m0 -3.8l-3.8 3.8M288.3 147.3l3.8 3.8m0 -3.8l-3.8 3.8" stroke="#1a1010" stroke-width="1.5" fill="none"/>
<polyline points="35.2,165.4 35.2,165.4 35.3,165.4 35.3,165.4 35.4,165.4 35.4,165.4 35.5,165.4 35.5,165.4 35.6,165.4 35.6,165.4 35.7,165.4 35.7,165.4 35.8,165.4 35.8,165.4 35.9,165.4 35.9,165.4 36,165.4 36,165.4 36.1,165.4 36.1,165.4 36.2,165.4 36.2,165.4 36.3,165.5 36.3,165.5 36.4,165.5 36.4,165.5 36.5,165.5 36.5,165.5 36.6,165.5 36.6,165.5 36.7,165.5 36.7,165.5 36.8,165.5 36.8,165.5 36.9,165.5 36.9,165.5 37,165.5 37,165.5 37.1,165.5 37.1,165.5 37.2,165.5 37.2,165.5 37.3,165.5 37.3,165.5 37.4,165.5 37.4,165.5 37.5,165.5 37.5,165.5 37.6,165.5 37.6,165.5 37.7,165.5 37.7,165.5 37.8,165.5 37.8,165.5 37.9,165.5 37.9,165.5 38,165.5 38,165.5 38.1,165.5 38.1,165.5 38.2,165.5 38.2,165.5 38.3,165.5 38.3,165.5 38.4,165.5 38.4,165.5 38.5,165.5 38.5,165.5 38.6,165.5 38.6,165.5 38.7,165.5 38.7,165.5 38.8,165.5 38.8,165.5 38.9,165.5 38.9,165.5 39,165.6 39,165.6 39.1,165.6 39.1,165.6 39.2,165.6 39.2,165.6 39.3,165.6 39.3,165.6 39.4,165.6 39.4,165.6 39.5,165.6 39.5,165.6 39.6,165.6 39.6,165.6 39.7,165.6 39.7,165.6 39.8,165.6 39.8,165.6 39.9,165.6 39.9,165.6 40,165.6 40,165.6 40.1,165.6 40.1,165.6 40.2,165.6 40.2,165.6 40.3,165.6 40.3,165.6 40.4,165.6 40.4,165.6 40.5,165.6 40.5,165.6 40.6,165.6 40.6,165.6 40.7,165.6 40.7,165.6 40.8,165.6 40.8,165.6 40.9,165.6 40.9,165.6 41,165.6 41,165.6 41.1,165.6 41.1,165.6 41.2,165.6 41.2,165.6 41.3,165.6 41.3,165.6 41.4,165.6 41.4,165.6 41.5,165.6 41.5,165.6 41.6,165.6 41.6,165.6 41.7,165.6 41.7,165.6 41.8,165.6 41.8,165.6 41.9,165.6 41.9,165.6 42,165.6 42,165.6 42.1,165.6 42.1,165.6 42.2,165.6 42.2,165.6 42.3,165.6 42.3,165.6 42.4,165.6 42.4,165.6 42.5,165.6 42.5,165.6 42.6,165.6 42.6,165.6 42.7,165.6 42.7,165.6 42.8,165.6 42.8,165.6 42.9,165.6 42.9,165.6 43,165.6 43,165.6 43.1,165.6 43.1,165.6 43.2,165.6 43.2,165.6 43.3,165.6 43.3,165.6 43.4,165.6 43.4,165.6 43.5,165.6 43.5,165.6 43.6,165.6 43.6,165.6 43.7,165.6 43.7,165.6 43.8,165.6 43.8,165.6 43.9,165.6 43.9,165.6 44,165.6 44,165.6 44.1,165.6 44.1,165.6 44.2,165.6 44.2,165.6 44.3,165.6 44.3,165.6 44.4,165.6 44.4,165.6 44.5,165.6 44.5,165.6 44.6,165.6 44.6,165.6 44.7,165.6 44.7,165.6 44.8,165.6 44.8,165.6 44.9,165.6 44.9,165.5 45,165.5 45,165.5 45.1,165.5 45.1,165.5 45.2,165.5 45.2,165.5 45.3,165.5 45.3,165.5 45.4,165.5 45.4,165.4 45.5,165.4 45.5,165.4 45.6,165.4 45.6,165.4 45.7,165.4 45.7,165.3 45.8,165.3 45.8,165.3 45.9,165.3 45.9,165.2 46,165.2 46,165.2 46.1,165.2 46.1,165.1 46.2,165.1 46.2,165 46.3,165 46.3,164.9 46.4,164.9 46.4,164.8 46.5,164.8 46.5,164.7 46.6,164.6 46.6,164.5 46.7,164.3 46.7,164.2 46.8,164 46.8,163.8 46.9,163.5 46.9,163.2 47,162.8 47,162.3 47.1,161.7 47.1,161 47.2,160.2 47.2,159.1 47.3,157.9 47.3,156.5 47.4,154.9 47.4,153.1 47.5,151.1 47.5,148.9 47.6,146.4 47.6,143.9 47.7,141.2 47.7,138.5 47.8,135.9 47.8,133.6 47.9,131.7 47.9,130.4 48,130 48,130.4 48.1,131.7 48.1,133.6 48.2,135.9 48.2,138.5 48.3,141.2 48.3,143.9 48.4,146.5 48.4,148.9 48.5,151.1 48.5,153.2 48.6,155 48.6,156.6 48.7,158 48.7,159.2 48.8,160.2 48.8,161.1 48.9,161.8 48.9,162.4 49,162.9 49,163.3 49.1,163.6 49.1,163.9 49.2,164.1 49.2,164.3 49.3,164.5 49.3,164.6 49.4,164.7 49.4,164.8 49.5,164.9 49.5,164.9 49.6,165 49.6,165.1 49.7,165.1 49.7,165.2 49.8,165.2 49.8,165.3 49.9,165.3 49.9,165.3 50,165.4 50,165.4 50.1,165.4 50.1,165.5 50.2,165.5 50.2,165.5 50.3,165.5 50.3,165.6 50.4,165.6 50.4,165.6 50.5,165.6 50.5,165.6 50.6,165.7 50.6,165.7 50.7,165.7 50.7,165.7 50.8,165.7 50.8,165.7 50.9,165.8 50.9,165.8 51,165.8 51,165.8 51.1,165.8 51.1,165.8 51.2,165.8 51.2,165.8 51.3,165.8 51.3,165.9 51.4,165.9 51.4,165.9 51.5,165.9 51.5,165.9 51.6,165.9 51.6,165.9 51.7,165.9 51.7,165.9 51.8,165.9 51.8,165.9 51.9,165.9 51.9,165.9 52,165.9 52,166 52.1,166 52.1,166 52.2,166 52.2,166 52.3,166 52.3,166 52.4,166 52.4,166 52.5,166 52.5,166 52.6,166 52.6,166 52.7,166 52.7,166 52.8,166 52.8,166 52.9,166 52.9,166 53,166 53,166.1 53.1,166.1 53.1,166.1 53.2,166.1 53.2,166.1 53.3,166.1 53.3,166.1 53.4,166.1 53.4,166.1 53.5,166.1 53.5,166.1 53.6,166.1 53.6,166.1 53.7,166.1 53.7,166.1 53.8,166.1 53.8,166.1 53.9,166.1 53.9,166.1 54,166.1 54,166.1 54.1,166.1 54.1,166.1 54.2,166.1 54.2,166.1 54.3,166.1 54.3,166.1 54.4,166.1 54.4,166.1 54.5,166.1 54.5,166.2 54.6,166.2 54.6,166.2 54.7,166.2 54.7,166.2 54.8,166.2 54.8,166.2 54.9,166.2 54.9,166.2 55,166.2 55,166.2 55.1,166.2 55.1,166.2 55.2,166.2 55.2,166.2 55.3,166.2 55.3,166.2 55.4,166.2 55.4,166.2 55.5,166.2 55.5,166.2 55.6,166.2 55.6,166.2 55.7,166.2 55.7,166.2 55.8,166.2 55.8,166.2 55.9,166.2 55.9,166.2 56,166.2 56,166.2 56.1,166.2 56.1,166.2 56.2,166.2 56.2,166.2 56.3,166.2 56.3,166.2 56.4,166.2 56.4,166.2 56.5,166.2 56.5,166.3 56.6,166.3 56.6,166.3 56.7,166.3 56.7,166.3 56.8,166.3 56.8,166.3 56.9,166.3 56.9,166.3 57,166.3 57,166.3 57.1,166.3 57.1,166.3 57.2,166.3 57.2,166.3 57.3,166.3 57.3,166.3 57.4,166.3 57.4,166.3 57.5,166.3 57.5,166.3 57.6,166.3 57.6,166.3 57.7,166.3 57.7,166.3 57.8,166.3 57.8,166.3 57.9,166.3 57.9,166.3 58,166.3 58,166.3 58.1,166.3 58.1,166.3 58.2,166.3 58.2,166.3 58.3,166.3 58.3,166.3 58.4,166.3 58.4,166.3 58.5,166.3 58.5,166.3 58.6,166.3 58.6,166.3 58.7,166.3 58.7,166.3 58.8,166.3 58.8,166.3 58.9,166.4 58.9,166.4 59,166.4 59,166.4 59.1,166.4 59.1,166.4 59.2,166.4 59.2,166.4 59.3,166.4 59.3,166.4 59.4,166.4 59.4,166.4 59.5,166.4 59.5,166.4 59.6,166.4 59.6,166.4 59.7,166.4 59.7,166.4 59.8,166.4 59.8,166.4 59.9,166.4 59.9,166.4 60,166.4 60,166.4 60.1,166.4 60.1,166.4 60.2,166.4 60.2,166.4 60.3,166.4 60.3,166.4 60.4,166.4 60.4,166.4 60.5,166.4 60.5,166.4 60.6,166.4 60.6,166.4 60.7,166.4 60.7,166.4 60.8,166.4 60.8,166.4 60.9,166.4 60.9,166.4 61,166.4 61,166.4 61.1,166.4 61.1,166.4 61.2,166.4 61.2,166.4 61.3,166.4 61.3,166.4 61.4,166.4 61.4,166.4 61.5,166.4 61.5,166.4 61.6,166.4 61.6,166.4 61.7,166.4 61.7,166.4 61.8,166.4 61.8,166.4 61.9,166.4 61.9,166.5 62,166.5 62,166.5 62.1,166.5 62.1,166.5 62.2,166.5 62.2,166.5 62.3,166.5 62.3,166.5 62.4,166.5 62.4,166.5 62.5,166.5 62.5,166.5 62.6,166.5 62.6,166.5 62.7,166.5 62.7,166.5 62.8,166.5 62.8,166.5 62.9,166.5 62.9,166.5 63,166.5 63,166.5 63.1,166.5 63.1,166.5 63.2,166.5 63.2,166.5 63.3,166.5 63.3,166.5 63.4,166.5 63.4,166.5 63.5,166.5 63.5,166.5 63.6,166.5 63.6,166.5 63.7,166.5 63.7,166.5 63.8,166.5 63.8,166.5 63.9,166.5 63.9,166.5 64,166.5 64,166.5 64.1,166.5 64.1,166.5 64.2,166.5 64.2,166.5 64.3,166.5 64.3,166.5 64.4,166.5 64.4,166.5 64.5,166.5 64.5,166.5 64.6,166.5 64.6,166.5 64.7,166.5 64.7,166.5 64.8,166.5 64.8,166.5 64.9,166.5 64.9,166.5 65,166.5 65,166.5 65.1,166.5 65.1,166.5 65.2,166.5 65.2,166.5 65.3,166.5 65.3,166.5 65.4,166.5 65.4,166.5 65.5,166.5 65.5,166.5 65.6,166.5 65.6,166.5 65.7,166.5 65.7,166.5 65.8,166.5 65.8,166.5 65.9,166.5 65.9,166.5 66,166.5 66,166.5 66.1,166.5 66.1,166.5 66.2,166.5 66.2,166.5 66.3,166.5 66.3,166.5 66.4,166.5 66.4,166.5 66.5,166.5 66.5,166.5 66.6,166.5 66.6,166.5 66.7,166.5 66.7,166.5 66.8,166.5 66.8,166.5 66.9,166.5 66.9,166.5 67,166.5 67,166.5 67.1,166.5 67.1,166.5 67.2,166.5 67.2,166.5 67.3,166.5 67.3,166.5 67.4,166.5 67.4,166.5 67.5,166.5 67.5,166.5 67.6,166.5 67.6,166.5 67.7,166.4 67.7,166.4 67.8,166.4 67.8,166.4 67.9,166.4 67.9,166.4 68,166.4 68,166.4 68.1,166.4 68.1,166.4 68.2,166.4 68.2,166.4 68.3,166.4 68.3,166.4 68.4,166.4 68.4,166.4 68.5,166.4 68.5,166.4 68.6,166.4 68.6,166.4 68.7,166.4 68.7,166.3 68.8,166.3 68.8,166.3 68.9,166.3 68.9,166.3 69,166.3 69,166.3 69.1,166.3 69.1,166.3 69.2,166.3 69.2,166.3 69.3,166.2 69.3,166.2 69.4,166.2 69.4,166.2 69.5,166.2 69.5,166.2 69.6,166.2 69.6,166.2 69.7,166.1 69.7,166.1 69.8,166.1 69.8,166.1 69.9,166.1 69.9,166.1 70,166 70,166 70.1,166 70.1,166 70.2,166 70.2,165.9 70.3,165.9 70.3,165.9 70.4,165.9 70.4,165.8 70.5,165.8 70.5,165.8 70.6,165.8 70.6,165.7 70.7,165.7 70.7,165.7 70.8,165.6 70.8,165.6 70.9,165.5 70.9,165.5 71,165.4 71,165.4 71.1,165.4 71.1,165.3 71.2,165.2 71.2,165.2 71.3,165.1 71.3,165.1 71.4,165 71.4,164.9 71.5,164.8 71.5,164.7 71.6,164.6 71.6,164.6 71.7,164.5 71.7,164.3 71.8,164.2 71.8,164.1 71.9,164 71.9,163.8 72,163.7 72,163.5 72.1,163.3 72.1,163.1 72.2,162.9 72.2,162.6 72.3,162.3 72.3,162 72.4,161.6 72.4,161.2 72.5,160.7 72.5,160.1 72.6,159.4 72.6,158.6 72.7,157.6 72.7,156.4 72.8,155 72.8,153.3 72.9,151.3 72.9,148.9 73,146.1 73,142.8 73.1,139.1 73.1,134.8 73.2,129.9 73.2,124.4 73.3,118.3 73.3,111.6 73.4,104.4 73.4,96.7 73.5,88.5 73.5,80 73.6,71.5 73.6,63 73.7,55.1 73.7,48.1 73.8,42.6 73.8,39 73.9,37.8 73.9,39 74,42.6 74,48.1 74.1,55.1 74.1,63 74.2,71.5 74.2,80.1 74.3,88.5 74.3,96.7 74.4,104.4 74.4,111.7 74.5,118.3 74.5,124.4 74.6,129.9 74.6,134.8 74.7,139.1 74.7,142.9 74.8,146.2 74.8,149 74.9,151.3 74.9,153.4 75,155.1 75,156.5 75.1,157.7 75.1,158.7 75.2,159.5 75.2,160.2 75.3,160.8 75.3,161.3 75.4,161.7 75.4,162.1 75.5,162.4 75.5,162.7 75.6,162.9 75.6,163.2 75.7,163.4 75.7,163.6 75.8,163.7 75.8,163.9 75.9,164.1 75.9,164.2 76,164.3 76,164.4 76.1,164.5 76.1,164.7 76.2,164.8 76.2,164.8 76.3,164.9 76.3,165 76.4,165.1 76.4,165.2 76.5,165.2 76.5,165.3 76.6,165.4 76.6,165.4 76.7,165.5 76.7,165.5 76.8,165.6 76.8,165.6 76.9,165.7 76.9,165.7 77,165.7 77,165.8 77.1,165.8 77.1,165.8 77.2,165.9 77.2,165.9 77.3,165.9 77.3,166 77.4,166 77.4,166 77.5,166 77.5,166.1 77.6,166.1 77.6,166.1 77.7,166.1 77.7,166.1 77.8,166.1 77.8,166.2 77.9,166.2 77.9,166.2 78,166.2 78,166.2 78.1,166.2 78.1,166.2 78.2,166.2 78.2,166.2 78.3,166.3 78.3,166.3 78.4,166.3 78.4,166.3 78.5,166.3 78.5,166.3 78.6,166.3 78.6,166.3 78.7,166.3 78.7,166.3 78.8,166.3 78.8,166.3 78.9,166.2 78.9,166.2 79,166.2 79,166.2 79.1,166.2 79.1,166.2 79.2,166.2 79.2,166.1 79.3,166.1 79.3,166.1 79.4,166.1 79.4,166 79.5,166 79.5,165.9 79.6,165.9 79.6,165.8 79.7,165.8 79.7,165.7 79.8,165.6 79.8,165.5 79.9,165.3 79.9,165.1 80,164.9 80,164.7 80.1,164.4 80.1,164.1 80.2,163.7 80.2,163.2 80.3,162.6 80.3,162 80.4,161.3 80.4,160.4 80.5,159.5 80.5,158.5 80.6,157.3 80.6,156.1 80.7,154.7 80.7,153.3 80.8,151.8 80.8,150.3 80.9,148.7 80.9,147.2 81,145.8 81,144.5 81.1,143.6 81.1,142.9 81.2,142.7 81.2,142.9 81.3,143.5 81.3,144.5 81.4,145.7 81.4,147.1 81.5,148.6 81.5,150.1 81.6,151.6 81.6,153.1 81.7,154.5 81.7,155.7 81.8,156.9 81.8,158 81.9,158.9 81.9,159.7 82,160.4 82,161 82.1,161.4 82.1,161.8 82.2,162 82.2,162.1 82.3,162.1 82.3,162 82.4,161.9 82.4,161.7 82.5,161.4 82.5,161 82.6,160.6 82.6,160.2 82.7,159.7 82.7,159.3 82.8,158.9 82.8,158.5 82.9,158.2 82.9,158 83,158 83,158.1 83.1,158.4 83.1,158.7 83.2,159.2 83.2,159.7 83.3,160.3 83.3,160.9 83.4,161.4 83.4,162 83.5,162.5 83.5,163 83.6,163.5 83.6,163.9 83.7,164.3 83.7,164.6 83.8,164.9 83.8,165.2 83.9,165.5 83.9,165.7 84,165.9 84,166 84.1,166.2 84.1,166.3 84.2,166.4 84.2,166.5 84.3,166.5 84.3,166.6 84.4,166.7 84.4,166.7 84.5,166.7 84.5,166.8 84.6,166.8 84.6,166.8 84.7,166.9 84.7,166.9 84.8,166.9 84.8,166.9 84.9,167 84.9,167 85,167 85,167 85.1,167 85.1,167 85.2,167.1 85.2,167.1 85.3,167.1 85.3,167.1 85.4,167.1 85.4,167.1 85.5,167.1 85.5,167.1 85.6,167.2 85.6,167.2 85.7,167.2 85.7,167.2 85.8,167.2 85.8,167.2 85.9,167.2 85.9,167.2 86,167.2 86,167.2 86.1,167.2 86.1,167.3 86.2,167.3 86.2,167.3 86.3,167.3 86.3,167.3 86.4,167.3 86.4,167.3 86.5,167.3 86.5,167.3 86.6,167.3 86.6,167.3 86.7,167.3 86.7,167.3 86.8,167.3 86.8,167.3 86.9,167.3 86.9,167.4 87,167.4 87,167.4 87.1,167.4 87.1,167.4 87.2,167.4 87.2,167.4 87.3,167.4 87.3,167.4 87.4,167.4 87.4,167.4 87.5,167.4 87.5,167.4 87.6,167.4 87.6,167.4 87.7,167.4 87.7,167.4 87.8,167.4 87.8,167.4 87.9,167.4 87.9,167.4 88,167.4 88,167.4 88.1,167.5 88.1,167.5 88.2,167.5 88.2,167.5 88.3,167.5 88.3,167.5 88.4,167.5 88.4,167.5 88.5,167.5 88.5,167.5 88.6,167.5 88.6,167.5 88.7,167.5 88.7,167.5 88.8,167.5 88.8,167.5 88.9,167.5 88.9,167.5 89,167.5 89,167.5 89.1,167.5 89.1,167.5 89.2,167.5 89.2,167.5 89.3,167.5 89.3,167.5 89.4,167.5 89.4,167.5 89.5,167.5 89.5,167.5 89.6,167.5 89.6,167.6 89.7,167.6 89.7,167.6 89.8,167.6 89.8,167.6 89.9,167.6 89.9,167.6 90,167.6 90,167.6 90.1,167.6 90.1,167.6 90.2,167.6 90.2,167.6 90.3,167.6 90.3,167.6 90.4,167.6 90.4,167.6 90.5,167.6 90.5,167.6 90.6,167.6 90.6,167.6 90.7,167.6 90.7,167.6 90.8,167.6 90.8,167.6 90.9,167.6 90.9,167.6 91,167.6 91,167.6 91.1,167.6 91.1,167.6 91.2,167.6 91.2,167.6 91.3,167.6 91.3,167.6 91.4,167.6 91.4,167.6 91.5,167.6 91.5,167.6 91.6,167.6 91.6,167.6 91.7,167.6 91.7,167.6 91.8,167.6 91.8,167.6 91.9,167.6 91.9,167.6 92,167.6 92,167.6 92.1,167.6 92.1,167.6 92.2,167.6 92.2,167.6 92.3,167.6 92.3,167.6 92.4,167.6 92.4,167.6 92.5,167.6 92.5,167.6 92.6,167.6 92.6,167.6 92.7,167.6 92.7,167.6 92.8,167.6 92.8,167.6 92.9,167.6 92.9,167.6 93,167.6 93,167.6 93.1,167.6 93.1,167.6 93.2,167.6 93.2,167.6 93.3,167.6 93.3,167.6 93.4,167.6 93.4,167.6 93.5,167.6 93.5,167.6 93.6,167.6 93.6,167.6 93.7,167.6 93.7,167.6 93.8,167.6 93.8,167.6 93.9,167.6 93.9,167.6 94,167.6 94,167.6 94.1,167.6 94.1,167.6 94.2,167.6 94.2,167.6 94.3,167.6 94.3,167.6 94.4,167.6 94.4,167.6 94.5,167.6 94.5,167.6 94.6,167.6 94.6,167.6 94.7,167.6 94.7,167.6 94.8,167.6 94.8,167.6 94.9,167.6 94.9,167.6 95,167.6 95,167.6 95.1,167.6 95.1,167.6 95.2,167.7 95.2,167.7 95.3,167.7 95.3,167.7 95.4,167.7 95.4,167.7 95.5,167.7 95.5,167.7 95.6,167.7 95.6,167.7 95.7,167.7 95.7,167.7 95.8,167.7 95.8,167.7 95.9,167.7 95.9,167.7 96,167.7 96,167.7 96.1,167.7 96.1,167.7 96.2,167.7 96.2,167.7 96.3,167.7 96.3,167.7 96.4,167.7 96.4,167.7 96.5,167.7 96.5,167.7 96.6,167.7 96.6,167.7 96.7,167.7 96.7,167.7 96.8,167.7 96.8,167.7 96.9,167.7 96.9,167.7 97,167.7 97,167.7 97.1,167.7 97.1,167.7 97.2,167.7 97.2,167.7 97.3,167.7 97.3,167.7 97.4,167.7 97.4,167.7 97.5,167.7 97.5,167.7 97.6,167.7 97.6,167.7 97.7,167.7 97.7,167.7 97.8,167.7 97.8,167.7 97.9,167.7 97.9,167.7 98,167.7 98,167.7 98.1,167.7 98.1,167.7 98.2,167.7 98.2,167.7 98.3,167.7 98.3,167.7 98.4,167.7 98.4,167.7 98.5,167.7 98.5,167.7 98.6,167.7 98.6,167.7 98.7,167.7 98.7,167.7 98.8,167.7 98.8,167.7 98.9,167.7 98.9,167.7 99,167.7 99,167.7 99.1,167.7 99.1,167.7 99.2,167.7 99.2,167.7 99.3,167.7 99.3,167.7 99.4,167.7 99.4,167.7 99.5,167.7 99.5,167.7 99.6,167.7 99.6,167.7 99.7,167.7 99.7,167.7 99.8,167.7 99.8,167.7 99.9,167.7 99.9,167.7 100,167.7 100,167.7 100.1,167.7 100.1,167.7 100.2,167.7 100.2,167.7 100.3,167.7 100.3,167.7 100.4,167.7 100.4,167.7 100.5,167.7 100.5,167.7 100.6,167.7 100.6,167.7 100.7,167.7 100.7,167.7 100.8,167.7 100.8,167.7 100.9,167.7 100.9,167.7 101,167.7 101,167.7 101.1,167.7 101.1,167.7 101.2,167.7 101.2,167.7 101.3,167.7 101.3,167.7 101.4,167.7 101.4,167.7 101.5,167.7 101.5,167.7 101.6,167.7 101.6,167.7 101.7,167.7 101.7,167.7 101.8,167.7 101.8,167.7 101.9,167.7 101.9,167.7 102,167.7 102,167.7 102.1,167.7 102.1,167.7 102.2,167.7 102.2,167.7 102.3,167.7 102.3,167.7 102.4,167.7 102.4,167.7 102.5,167.7 102.5,167.7 102.6,167.7 102.6,167.7 102.7,167.7 102.7,167.7 102.8,167.7 102.8,167.7 102.9,167.7 102.9,167.7 103,167.6 103,167.6 103.1,167.6 103.1,167.6 103.2,167.6 103.2,167.6 103.3,167.6 103.3,167.6 103.4,167.6 103.4,167.6 103.5,167.6 103.5,167.6 103.6,167.6 103.6,167.6 103.7,167.6 103.7,167.6 103.8,167.6 103.8,167.6 103.9,167.6 103.9,167.6 104,167.6 104,167.6 104.1,167.6 104.1,167.6 104.2,167.6 104.2,167.6 104.3,167.6 104.3,167.6 104.4,167.6 104.4,167.6 104.5,167.6 104.5,167.6 104.6,167.6 104.6,167.6 104.7,167.6 104.7,167.6 104.8,167.6 104.8,167.6 104.9,167.6 104.9,167.6 105,167.6 105,167.6 105.1,167.6 105.1,167.6 105.2,167.6 105.2,167.6 105.3,167.6 105.3,167.6 105.4,167.6 105.4,167.6 105.5,167.6 105.5,167.6 105.6,167.6 105.6,167.6 105.7,167.6 105.7,167.6 105.8,167.6 105.8,167.6 105.9,167.6 105.9,167.6 106,167.6 106,167.6 106.1,167.6 106.1,167.6 106.2,167.6 106.2,167.6 106.3,167.5 106.3,167.5 106.4,167.5 106.4,167.5 106.5,167.5 106.5,167.5 106.6,167.5 106.6,167.5 106.7,167.5 106.7,167.5 106.8,167.5 106.8,167.5 106.9,167.5 106.9,167.5 107,167.5 107,167.5 107.1,167.5 107.1,167.5 107.2,167.5 107.2,167.5 107.3,167.5 107.3,167.5 107.4,167.5 107.4,167.5 107.5,167.4 107.5,167.4 107.6,167.4 107.6,167.4 107.7,167.4 107.7,167.4 107.8,167.4 107.8,167.4 107.9,167.4 107.9,167.4 108,167.4 108,167.4 108.1,167.4 108.1,167.4 108.2,167.4 108.2,167.3 108.3,167.3 108.3,167.3 108.4,167.3 108.4,167.3 108.5,167.3 108.5,167.3 108.6,167.3 108.6,167.3 108.7,167.3 108.7,167.2 108.8,167.2 108.8,167.2 108.9,167.2 108.9,167.2 109,167.2 109,167.2 109.1,167.1 109.1,167.1 109.2,167.1 109.2,167.1 109.3,167.1 109.3,167 109.4,167 109.4,167 109.5,167 109.5,167 109.6,166.9 109.6,166.9 109.7,166.9 109.7,166.8 109.8,166.8 109.8,166.8 109.9,166.7 109.9,166.7 110,166.7 110,166.6 110.1,166.6 110.1,166.5 110.2,166.5 110.2,166.4 110.3,166.3 110.3,166.2 110.4,166.2 110.4,166.1 110.5,165.9 110.5,165.8 110.6,165.7 110.6,165.5 110.7,165.3 110.7,165 110.8,164.8 110.8,164.5 110.9,164.1 110.9,163.7 111,163.2 111,162.6 111.1,162 111.1,161.2 111.2,160.4 111.2,159.5 111.3,158.5 111.3,157.4 111.4,156.2 111.4,154.9 111.5,153.5 111.5,152 111.6,150.5 111.6,148.9 111.7,147.2 111.7,145.5 111.8,143.9 111.8,142.3 111.9,140.8 111.9,139.6 112,138.6 112,138 112.1,137.8 112.1,138 112.2,138.6 112.2,139.5 112.3,140.7 112.3,142.1 112.4,143.7 112.4,145.3 112.5,147 112.5,148.6 112.6,150.2 112.6,151.7 112.7,153.2 112.7,154.5 112.8,155.8 112.8,157 112.9,158.1 112.9,159 113,159.9 113,160.7 113.1,161.4 113.1,162 113.2,162.5 113.2,162.9 113.3,163.3 113.3,163.6 113.4,163.9 113.4,164.2 113.5,164.3 113.5,164.5 113.6,164.6 113.6,164.7 113.7,164.8 113.7,164.9 113.8,164.9 113.8,164.9 113.9,165 113.9,165 114,165 114,165 114.1,164.9 114.1,164.9 114.2,164.9 114.2,164.8 114.3,164.8 114.3,164.7 114.4,164.7 114.4,164.6 114.5,164.5 114.5,164.5 114.6,164.4 114.6,164.3 114.7,164.1 114.7,164 114.8,163.9 114.8,163.7 114.9,163.6 114.9,163.4 115,163.2 115,162.9 115.1,162.7 115.1,162.4 115.2,162 115.2,161.7 115.3,161.2 115.3,160.7 115.4,160.1 115.4,159.4 115.5,158.5 115.5,157.6 115.6,156.5 115.6,155.2 115.7,153.7 115.7,151.9 115.8,149.9 115.8,147.7 115.9,145.1 115.9,142.2 116,138.9 116,135.3 116.1,131.3 116.1,126.9 116.2,122.1 116.2,117 116.3,111.4 116.3,105.6 116.4,99.5 116.4,93.1 116.5,86.6 116.5,80.1 116.6,73.7 116.6,67.6 116.7,62 116.7,57.3 116.8,53.6 116.8,51.3 116.9,50.5 116.9,51.3 117,53.6 117,57.3 117.1,62 117.1,67.6 117.2,73.7 117.2,80.1 117.3,86.7 117.3,93.2 117.4,99.5 117.4,105.7 117.5,111.5 117.5,117 117.6,122.2 117.6,127 117.7,131.4 117.7,135.4 117.8,139 117.8,142.3 117.9,145.2 117.9,147.8 118,150.1 118,152.1 118.1,153.8 118.1,155.3 118.2,156.6 118.2,157.7 118.3,158.7 118.3,159.6 118.4,160.3 118.4,160.9 118.5,161.4 118.5,161.9 118.6,162.3 118.6,162.6 118.7,162.9 118.7,163.2 118.8,163.5 118.8,163.7 118.9,163.9 118.9,164.1 119,164.2 119,164.4 119.1,164.5 119.1,164.7 119.2,164.8 119.2,164.9 119.3,165 119.3,165.1 119.4,165.2 119.4,165.3 119.5,165.4 119.5,165.5 119.6,165.5 119.6,165.6 119.7,165.7 119.7,165.8 119.8,165.8 119.8,165.9 119.9,165.9 119.9,166 120,166 120,166.1 120.1,166.1 120.1,166.2 120.2,166.2 120.2,166.2 120.3,166.3 120.3,166.3 120.4,166.4 120.4,166.4 120.5,166.4 120.5,166.4 120.6,166.5 120.6,166.5 120.7,166.5 120.7,166.6 120.8,166.6 120.8,166.6 120.9,166.6 120.9,166.6 121,166.7 121,166.7 121.1,166.7 121.1,166.7 121.2,166.7 121.2,166.7 121.3,166.8 121.3,166.8 121.4,166.8 121.4,166.8 121.5,166.8 121.5,166.8 121.6,166.8 121.6,166.8 121.7,166.9 121.7,166.9 121.8,166.9 121.8,166.9 121.9,166.9 121.9,166.9 122,166.9 122,166.9 122.1,166.9 122.1,166.9 122.2,166.9 122.2,166.9 122.3,166.9 122.3,166.9 122.4,166.9 122.4,166.9 122.5,166.9 122.5,166.9 122.6,166.9 122.6,166.9 122.7,166.9 122.7,166.9 122.8,166.9 122.8,166.9 122.9,166.9 122.9,166.9 123,166.9 123,166.9 123.1,166.9 123.1,166.9 123.2,166.9 123.2,166.9 123.3,166.9 123.3,166.9 123.4,166.9 123.4,166.9 123.5,166.9 123.5,166.9 123.6,166.9 123.6,166.9 123.7,166.9 123.7,166.8 123.8,166.8 123.8,166.8 123.9,166.8 123.9,166.8 124,166.8 124,166.8 124.1,166.8 124.1,166.7 124.2,166.7 124.2,166.7 124.3,166.7 124.3,166.7 124.4,166.6 124.4,166.6 124.5,166.6 124.5,166.6 124.6,166.6 124.6,166.5 124.7,166.5 124.7,166.5 124.8,166.4 124.8,166.4 124.9,166.4 124.9,166.4 125,166.3 125,166.3 125.1,166.2 125.1,166.2 125.2,166.2 125.2,166.1 125.3,166.1 125.3,166 125.4,166 125.4,165.9 125.5,165.8 125.5,165.8 125.6,165.7 125.6,165.7 125.7,165.6 125.7,165.5 125.8,165.4 125.8,165.3 125.9,165.2 125.9,165.1 126,165 126,164.9 126.1,164.8 126.1,164.7 126.2,164.5 126.2,164.4 126.3,164.2 126.3,164 126.4,163.8 126.4,163.6 126.5,163.3 126.5,163 126.6,162.7 126.6,162.3 126.7,161.8 126.7,161.3 126.8,160.7 126.8,160 126.9,159.2 126.9,158.3 127,157.2 127,156 127.1,154.6 127.1,153 127.2,151.2 127.2,149.1 127.3,146.9 127.3,144.3 127.4,141.4 127.4,138.3 127.5,134.9 127.5,131.1 127.6,127.1 127.6,122.8 127.7,118.3 127.7,113.4 127.8,108.4 127.8,103.3 127.9,98 127.9,92.8 128,87.7 128,82.8 128.1,78.5 128.1,74.8 128.2,71.9 128.2,70.1 128.3,69.5 128.3,70.1 128.4,71.9 128.4,74.7 128.5,78.4 128.5,82.8 128.6,87.6 128.6,92.7 128.7,98 128.7,103.2 128.8,108.4 128.8,113.4 128.9,118.2 128.9,122.7 129,127 129,131 129.1,134.7 129.1,138.2 129.2,141.3 129.2,144.1 129.3,146.7 129.3,149 129.4,151 129.4,152.8 129.5,154.4 129.5,155.8 129.6,157 129.6,158 129.7,158.9 129.7,159.7 129.8,160.4 129.8,161 129.9,161.5 129.9,161.9 130,162.3 130,162.6 130.1,162.9 130.1,163.2 130.2,163.4 130.2,163.6 130.3,163.7 130.3,163.9 130.4,164 130.4,164.1 130.5,164.2 130.5,164.3 130.6,164.4 130.6,164.5 130.7,164.6 130.7,164.6 130.8,164.7 130.8,164.7 130.9,164.7 130.9,164.8 131,164.8 131,164.8 131.1,164.8 131.1,164.7 131.2,164.7 131.2,164.7 131.3,164.6 131.3,164.5 131.4,164.4 131.4,164.3 131.5,164.1 131.5,163.9 131.6,163.7 131.6,163.5 131.7,163.2 131.7,162.8 131.8,162.4 131.8,161.9 131.9,161.4 131.9,160.9 132,160.2 132,159.5 132.1,158.8 132.1,157.9 132.2,157 132.2,156.1 132.3,155.1 132.3,154 132.4,152.9 132.4,151.7 132.5,150.5 132.5,149.4 132.6,148.2 132.6,147.1 132.7,146.1 132.7,145.3 132.8,144.6 132.8,144.2 132.9,144 132.9,144.1 133,144.4 133,144.9 133.1,145.6 133.1,146.4 133.2,147.3 133.2,148.2 133.3,149.1 133.3,150 133.4,150.9 133.4,151.6 133.5,152.3 133.5,152.9 133.6,153.4 133.6,153.8 133.7,154 133.7,154.1 133.8,154.2 133.8,154 133.9,153.8 133.9,153.5 134,153 134,152.5 134.1,151.8 134.1,151.1 134.2,150.4 134.2,149.6 134.3,148.8 134.3,148 134.4,147.3 134.4,146.7 134.5,146.3 134.5,146 134.6,146 134.6,146.2 134.7,146.6 134.7,147.2 134.8,148 134.8,148.9 134.9,149.9 134.9,150.9 135,152 135,153 135.1,154.1 135.1,155.1 135.2,156.1 135.2,157 135.3,157.9 135.3,158.7 135.4,159.5 135.4,160.2 135.5,160.8 135.5,161.4 135.6,161.9 135.6,162.4 135.7,162.8 135.7,163.2 135.8,163.5 135.8,163.8 135.9,164 135.9,164.2 136,164.4 136,164.5 136.1,164.6 136.1,164.7 136.2,164.8 136.2,164.9 136.3,164.9 136.3,164.9 136.4,164.9 136.4,164.9 136.5,164.9 136.5,164.9 136.6,164.9 136.6,164.8 136.7,164.8 136.7,164.7 136.8,164.6 136.8,164.5 136.9,164.4 136.9,164.2 137,164.1 137,163.9 137.1,163.6 137.1,163.4 137.2,163.1 137.2,162.7 137.3,162.3 137.3,161.8 137.4,161.3 137.4,160.6 137.5,159.9 137.5,159.1 137.6,158.1 137.6,157 137.7,155.8 137.7,154.4 137.8,152.9 137.8,151.2 137.9,149.3 137.9,147.3 138,145 138,142.6 138.1,140.1 138.1,137.3 138.2,134.4 138.2,131.4 138.3,128.3 138.3,125.1 138.4,121.8 138.4,118.6 138.5,115.4 138.5,112.5 138.6,109.9 138.6,107.6 138.7,105.9 138.7,104.9 138.8,104.5 138.8,104.9 138.9,106 138.9,107.7 139,109.9 139,112.6 139.1,115.5 139.1,118.7 139.2,121.9 139.2,125.2 139.3,128.4 139.3,131.6 139.4,134.6 139.4,137.5 139.5,140.3 139.5,142.8 139.6,145.3 139.6,147.5 139.7,149.6 139.7,151.4 139.8,153.2 139.8,154.7 139.9,156.1 139.9,157.3 140,158.5 140,159.4 140.1,160.3 140.1,161 140.2,161.7 140.2,162.3 140.3,162.8 140.3,163.2 140.4,163.6 140.4,163.9 140.5,164.2 140.5,164.5 140.6,164.7 140.6,164.9 140.7,165.1 140.7,165.2 140.8,165.4 140.8,165.5 140.9,165.6 140.9,165.7 141,165.8 141,165.9 141.1,166 141.1,166 141.2,166.1 141.2,166.2 141.3,166.2 141.3,166.3 141.4,166.3 141.4,166.4 141.5,166.4 141.5,166.5 141.6,166.5 141.6,166.6 141.7,166.6 141.7,166.7 141.8,166.7 141.8,166.7 141.9,166.8 141.9,166.8 142,166.8 142,166.8 142.1,166.9 142.1,166.9 142.2,166.9 142.2,166.9 142.3,167 142.3,167 142.4,167 142.4,167 142.5,167 142.5,167.1 142.6,167.1 142.6,167.1 142.7,167.1 142.7,167.1 142.8,167.1 142.8,167.1 142.9,167.2 142.9,167.2 143,167.2 143,167.2 143.1,167.2 143.1,167.2 143.2,167.2 143.2,167.2 143.3,167.2 143.3,167.2 143.4,167.3 143.4,167.3 143.5,167.3 143.5,167.3 143.6,167.3 143.6,167.3 143.7,167.3 143.7,167.3 143.8,167.3 143.8,167.3 143.9,167.3 143.9,167.3 144,167.3 144,167.3 144.1,167.3 144.1,167.3 144.2,167.3 144.2,167.3 144.3,167.3 144.3,167.3 144.4,167.3 144.4,167.3 144.5,167.3 144.5,167.3 144.6,167.3 144.6,167.3 144.7,167.3 144.7,167.3 144.8,167.3 144.8,167.3 144.9,167.3 144.9,167.3 145,167.3 145,167.3 145.1,167.3 145.1,167.3 145.2,167.3 145.2,167.3 145.3,167.3 145.3,167.2 145.4,167.2 145.4,167.2 145.5,167.2 145.5,167.2 145.6,167.2 145.6,167.2 145.7,167.2 145.7,167.2 145.8,167.2 145.8,167.1 145.9,167.1 145.9,167.1 146,167.1 146,167.1 146.1,167.1 146.1,167 146.2,167 146.2,167 146.3,167 146.3,167 146.4,166.9 146.4,166.9 146.5,166.9 146.5,166.9 146.6,166.8 146.6,166.8 146.7,166.8 146.7,166.7 146.8,166.7 146.8,166.6 146.9,166.6 146.9,166.6 147,166.5 147,166.5 147.1,166.4 147.1,166.3 147.2,166.3 147.2,166.2 147.3,166.1 147.3,166 147.4,165.9 147.4,165.8 147.5,165.7 147.5,165.6 147.6,165.4 147.6,165.2 147.7,165.1 147.7,164.8 147.8,164.6 147.8,164.3 147.9,163.9 147.9,163.6 148,163.1 148,162.6 148.1,162.1 148.1,161.4 148.2,160.7 148.2,159.9 148.3,159 148.3,158 148.4,156.9 148.4,155.7 148.5,154.4 148.5,152.9 148.6,151.4 148.6,149.7 148.7,148 148.7,146.1 148.8,144.1 148.8,142.1 148.9,140 148.9,137.9 149,135.7 149,133.6 149.1,131.5 149.1,129.6 149.2,127.9 149.2,126.4 149.3,125.3 149.3,124.6 149.4,124.4 149.4,124.6 149.5,125.3 149.5,126.4 149.6,127.8 149.6,129.5 149.7,131.4 149.7,133.4 149.8,135.5 149.8,137.7 149.9,139.8 149.9,141.9 150,143.9 150,145.8 150.1,147.6 150.1,149.4 150.2,151 150.2,152.5 150.3,153.9 150.3,155.2 150.4,156.4 150.4,157.5 150.5,158.4 150.5,159.3 150.6,160.1 150.6,160.8 150.7,161.4 150.7,161.9 150.8,162.4 150.8,162.7 150.9,163.1 150.9,163.4 151,163.6 151,163.8 151.1,164 151.1,164.1 151.2,164.2 151.2,164.3 151.3,164.4 151.3,164.4 151.4,164.5 151.4,164.5 151.5,164.5 151.5,164.4 151.6,164.4 151.6,164.3 151.7,164.2 151.7,164.1 151.8,163.9 151.8,163.8 151.9,163.5 151.9,163.3 152,163 152,162.7 152.1,162.3 152.1,161.8 152.2,161.3 152.2,160.7 152.3,160.1 152.3,159.3 152.4,158.5 152.4,157.6 152.5,156.6 152.5,155.5 152.6,154.2 152.6,152.9 152.7,151.5 152.7,150 152.8,148.4 152.8,146.6 152.9,144.9 152.9,143 153,141.1 153,139.1 153.1,137.1 153.1,135.2 153.2,133.3 153.2,131.5 153.3,130 153.3,128.6 153.4,127.6 153.4,126.9 153.5,126.6 153.5,126.7 153.6,127.2 153.6,128 153.7,129.2 153.7,130.5 153.8,132.1 153.8,133.7 153.9,135.3 153.9,137 154,138.6 154,140.1 154.1,141.5 154.1,142.7 154.2,143.9 154.2,144.9 154.3,145.7 154.3,146.3 154.4,146.8 154.4,147.1 154.5,147.2 154.5,147.1 154.6,146.8 154.6,146.4 154.7,145.8 154.7,145.1 154.8,144.2 154.8,143.2 154.9,142.1 154.9,140.9 155,139.7 155,138.4 155.1,137.1 155.1,136 155.2,134.9 155.2,134 155.3,133.4 155.3,133 155.4,133 155.4,133.3 155.5,133.9 155.5,134.8 155.6,135.9 155.6,137.3 155.7,138.8 155.7,140.4 155.8,142 155.8,143.7 155.9,145.3 155.9,147 156,148.5 156,150.1 156.1,151.5 156.1,152.9 156.2,154.2 156.2,155.4 156.3,156.6 156.3,157.6 156.4,158.6 156.4,159.5 156.5,160.3 156.5,161 156.6,161.6 156.6,162.2 156.7,162.8 156.7,163.2 156.8,163.6 156.8,164 156.9,164.3 156.9,164.6 157,164.9 157,165.1 157.1,165.3 157.1,165.5 157.2,165.6 157.2,165.8 157.3,165.9 157.3,166 157.4,166.1 157.4,166.2 157.5,166.2 157.5,166.3 157.6,166.4 157.6,166.4 157.7,166.5 157.7,166.6 157.8,166.6 157.8,166.7 157.9,166.7 157.9,166.7 158,166.8 158,166.8 158.1,166.8 158.1,166.9 158.2,166.9 158.2,166.9 158.3,167 158.3,167 158.4,167 158.4,167 158.5,167.1 158.5,167.1 158.6,167.1 158.6,167.1 158.7,167.1 158.7,167.2 158.8,167.2 158.8,167.2 158.9,167.2 158.9,167.2 159,167.2 159,167.2 159.1,167.3 159.1,167.3 159.2,167.3 159.2,167.3 159.3,167.3 159.3,167.3 159.4,167.3 159.4,167.3 159.5,167.3 159.5,167.3 159.6,167.3 159.6,167.4 159.7,167.4 159.7,167.4 159.8,167.4 159.8,167.4 159.9,167.4 159.9,167.4 160,167.4 160,167.4 160.1,167.4 160.1,167.4 160.2,167.4 160.2,167.4 160.3,167.4 160.3,167.4 160.4,167.4 160.4,167.4 160.5,167.4 160.5,167.4 160.6,167.4 160.6,167.4 160.7,167.4 160.7,167.4 160.8,167.4 160.8,167.4 160.9,167.4 160.9,167.4 161,167.4 161,167.4 161.1,167.4 161.1,167.3 161.2,167.3 161.2,167.3 161.3,167.3 161.3,167.3 161.4,167.3 161.4,167.3 161.5,167.3 161.5,167.3 161.6,167.3 161.6,167.3 161.7,167.2 161.7,167.2 161.8,167.2 161.8,167.2 161.9,167.2 161.9,167.2 162,167.2 162,167.2 162.1,167.1 162.1,167.1 162.2,167.1 162.2,167.1 162.3,167.1 162.3,167 162.4,167 162.4,167 162.5,167 162.5,167 162.6,166.9 162.6,166.9 162.7,166.9 162.7,166.8 162.8,166.8 162.8,166.8 162.9,166.7 162.9,166.7 163,166.7 163,166.6 163.1,166.6 163.1,166.5 163.2,166.5 163.2,166.4 163.3,166.4 163.3,166.3 163.4,166.2 163.4,166.2 163.5,166.1 163.5,166 163.6,165.9 163.6,165.8 163.7,165.7 163.7,165.5 163.8,165.4 163.8,165.2 163.9,165 163.9,164.8 164,164.5 164,164.2 164.1,163.9 164.1,163.6 164.2,163.2 164.2,162.8 164.3,162.3 164.3,161.8 164.4,161.3 164.4,160.7 164.5,160 164.5,159.3 164.6,158.6 164.6,157.8 164.7,157 164.7,156.1 164.8,155.2 164.8,154.3 164.9,153.4 164.9,152.4 165,151.4 165,150.5 165.1,149.5 165.1,148.7 165.2,147.9 165.2,147.2 165.3,146.6 165.3,146.2 165.4,146 165.4,145.9 165.5,146 165.5,146.3 165.6,146.7 165.6,147.1 165.7,147.7 165.7,148.2 165.8,148.8 165.8,149.3 165.9,149.8 165.9,150.3 166,150.6 166,150.9 166.1,151 166.1,151 166.2,150.9 166.2,150.6 166.3,150.2 166.3,149.6 166.4,148.7 166.4,147.7 166.5,146.5 166.5,145 166.6,143.3 166.6,141.4 166.7,139.2 166.7,136.8 166.8,134.2 166.8,131.3 166.9,128.1 166.9,124.8 167,121.2 167,117.4 167.1,113.5 167.1,109.4 167.2,105.2 167.2,100.9 167.3,96.7 167.3,92.5 167.4,88.5 167.4,84.8 167.5,81.5 167.5,78.8 167.6,76.7 167.6,75.4 167.7,75 167.7,75.5 167.8,76.8 167.8,78.9 167.9,81.7 167.9,85.1 168,88.8 168,92.9 168.1,97.1 168.1,101.5 168.2,105.8 168.2,110.1 168.3,114.3 168.3,118.4 168.4,122.3 168.4,126.1 168.5,129.6 168.5,132.9 168.6,136 168.6,139 168.7,141.6 168.7,144.1 168.8,146.4 168.8,148.5 168.9,150.3 168.9,152 169,153.5 169,154.9 169.1,156.1 169.1,157.2 169.2,158.2 169.2,159 169.3,159.8 169.3,160.4 169.4,161 169.4,161.5 169.5,161.9 169.5,162.3 169.6,162.7 169.6,163 169.7,163.2 169.7,163.5 169.8,163.7 169.8,163.9 169.9,164.1 169.9,164.2 170,164.3 170,164.5 170.1,164.6 170.1,164.7 170.2,164.8 170.2,164.9 170.3,164.9 170.3,165 170.4,165.1 170.4,165.1 170.5,165.2 170.5,165.2 170.6,165.3 170.6,165.3 170.7,165.3 170.7,165.3 170.8,165.3 170.8,165.3 170.9,165.3 170.9,165.3 171,165.2 171,165.2 171.1,165.1 171.1,165 171.2,164.9 171.2,164.8 171.3,164.6 171.3,164.5 171.4,164.3 171.4,164 171.5,163.8 171.5,163.5 171.6,163.2 171.6,162.8 171.7,162.4 171.7,161.9 171.8,161.4 171.8,160.9 171.9,160.3 171.9,159.6 172,159 172,158.2 172.1,157.5 172.1,156.7 172.2,155.9 172.2,155 172.3,154.1 172.3,153.3 172.4,152.4 172.4,151.5 172.5,150.7 172.5,150 172.6,149.3 172.6,148.7 172.7,148.3 172.7,148.1 172.8,148 172.8,148.1 172.9,148.4 172.9,148.8 173,149.4 173,150.1 173.1,150.9 173.1,151.7 173.2,152.6 173.2,153.5 173.3,154.4 173.3,155.3 173.4,156.2 173.4,157.1 173.5,157.9 173.5,158.7 173.6,159.4 173.6,160.1 173.7,160.8 173.7,161.4 173.8,162 173.8,162.5 173.9,163 173.9,163.5 174,163.9 174,164.2 174.1,164.6 174.1,164.9 174.2,165.2 174.2,165.4 174.3,165.6 174.3,165.8 174.4,166 174.4,166.1 174.5,166.3 174.5,166.4 174.6,166.5 174.6,166.6 174.7,166.7 174.7,166.7 174.8,166.8 174.8,166.9 174.9,166.9 174.9,167 175,167 175,167 175.1,167.1 175.1,167.1 175.2,167.2 175.2,167.2 175.3,167.2 175.3,167.2 175.4,167.3 175.4,167.3 175.5,167.3 175.5,167.3 175.6,167.3 175.6,167.4 175.7,167.4 175.7,167.4 175.8,167.4 175.8,167.4 175.9,167.4 175.9,167.5 176,167.5 176,167.5 176.1,167.5 176.1,167.5 176.2,167.5 176.2,167.5 176.3,167.6 176.3,167.6 176.4,167.6 176.4,167.6 176.5,167.6 176.5,167.6 176.6,167.6 176.6,167.6 176.7,167.6 176.7,167.6 176.8,167.6 176.8,167.7 176.9,167.7 176.9,167.7 177,167.7 177,167.7 177.1,167.7 177.1,167.7 177.2,167.7 177.2,167.7 177.3,167.7 177.3,167.7 177.4,167.7 177.4,167.7 177.5,167.7 177.5,167.7 177.6,167.7 177.6,167.7 177.7,167.8 177.7,167.8 177.8,167.8 177.8,167.8 177.9,167.8 177.9,167.8 178,167.8 178,167.8 178.1,167.8 178.1,167.8 178.2,167.8 178.2,167.8 178.3,167.8 178.3,167.8 178.4,167.8 178.4,167.8 178.5,167.8 178.5,167.8 178.6,167.8 178.6,167.8 178.7,167.8 178.7,167.8 178.8,167.8 178.8,167.8 178.9,167.8 178.9,167.8 179,167.8 179,167.8 179.1,167.8 179.1,167.8 179.2,167.8 179.2,167.8 179.3,167.8 179.3,167.8 179.4,167.9 179.4,167.9 179.5,167.9 179.5,167.9 179.6,167.9 179.6,167.9 179.7,167.9 179.7,167.9 179.8,167.9 179.8,167.9 179.9,167.9 179.9,167.9 180,167.9 180,167.9 180.1,167.9 180.1,167.9 180.2,167.9 180.2,167.9 180.3,167.9 180.3,167.9 180.4,167.9 180.4,167.9 180.5,167.9 180.5,167.9 180.6,167.9 180.6,167.9 180.7,167.9 180.7,167.9 180.8,167.9 180.8,167.9 180.9,167.9 180.9,167.9 181,167.9 181,167.9 181.1,167.9 181.1,167.9 181.2,167.9 181.2,167.9 181.3,167.9 181.3,167.9 181.4,167.9 181.4,167.9 181.5,167.9 181.5,167.9 181.6,167.9 181.6,167.9 181.7,167.9 181.7,167.9 181.8,167.9 181.8,167.9 181.9,167.9 181.9,167.9 182,167.9 182,167.9 182.1,167.9 182.1,167.9 182.2,167.9 182.2,167.9 182.3,167.9 182.3,167.9 182.4,167.9 182.4,167.9 182.5,167.9 182.5,167.9 182.6,167.9 182.6,167.9 182.7,167.9 182.7,167.9 182.8,167.9 182.8,167.9 182.9,167.9 182.9,167.9 183,167.9 183,167.9 183.1,167.9 183.1,167.9 183.2,167.9 183.2,167.9 183.3,167.9 183.3,167.9 183.4,167.9 183.4,167.9 183.5,167.9 183.5,167.9 183.6,167.9 183.6,167.9 183.7,167.9 183.7,167.9 183.8,167.9 183.8,167.9 183.9,167.9 183.9,167.9 184,167.9 184,167.9 184.1,167.9 184.1,167.9 184.2,167.9 184.2,167.9 184.3,167.9 184.3,167.9 184.4,167.9 184.4,167.9 184.5,167.9 184.5,167.9 184.6,167.9 184.6,167.9 184.7,167.9 184.7,167.9 184.8,167.9 184.8,167.9 184.9,167.9 184.9,167.9 185,167.9 185,167.9 185.1,167.9 185.1,167.9 185.2,167.9 185.2,167.9 185.3,167.9 185.3,167.9 185.4,167.9 185.4,167.9 185.5,167.9 185.5,167.9 185.6,167.9 185.6,167.9 185.7,167.8 185.7,167.8 185.8,167.8 185.8,167.8 185.9,167.8 185.9,167.8 186,167.8 186,167.8 186.1,167.8 186.1,167.8 186.2,167.8 186.2,167.8 186.3,167.8 186.3,167.8 186.4,167.8 186.4,167.8 186.5,167.8 186.5,167.8 186.6,167.8 186.6,167.8 186.7,167.8 186.7,167.8 186.8,167.8 186.8,167.8 186.9,167.8 186.9,167.8 187,167.8 187,167.8 187.1,167.8 187.1,167.8 187.2,167.8 187.2,167.8 187.3,167.8 187.3,167.8 187.4,167.8 187.4,167.8 187.5,167.7 187.5,167.7 187.6,167.7 187.6,167.7 187.7,167.7 187.7,167.7 187.8,167.7 187.8,167.7 187.9,167.7 187.9,167.7 188,167.7 188,167.7 188.1,167.7 188.1,167.7 188.2,167.7 188.2,167.7 188.3,167.7 188.3,167.6 188.4,167.6 188.4,167.6 188.5,167.6 188.5,167.6 188.6,167.6 188.6,167.6 188.7,167.6 188.7,167.6 188.8,167.6 188.8,167.6 188.9,167.5 188.9,167.5 189,167.5 189,167.5 189.1,167.5 189.1,167.5 189.2,167.5 189.2,167.4 189.3,167.4 189.3,167.4 189.4,167.4 189.4,167.4 189.5,167.3 189.5,167.3 189.6,167.3 189.6,167.3 189.7,167.2 189.7,167.2 189.8,167.2 189.8,167.1 189.9,167.1 189.9,167 190,167 190,166.9 190.1,166.8 190.1,166.8 190.2,166.7 190.2,166.6 190.3,166.5 190.3,166.3 190.4,166.2 190.4,166 190.5,165.9 190.5,165.7 190.6,165.5 190.6,165.2 190.7,165 190.7,164.7 190.8,164.3 190.8,164 190.9,163.6 190.9,163.2 191,162.8 191,162.3 191.1,161.8 191.1,161.3 191.2,160.7 191.2,160.1 191.3,159.5 191.3,158.9 191.4,158.2 191.4,157.6 191.5,156.9 191.5,156.2 191.6,155.5 191.6,154.9 191.7,154.3 191.7,153.7 191.8,153.2 191.8,152.8 191.9,152.5 191.9,152.3 192,152.2 192,152.3 192.1,152.4 192.1,152.7 192.2,153.1 192.2,153.6 192.3,154.2 192.3,154.8 192.4,155.4 192.4,156.1 192.5,156.8 192.5,157.4 192.6,158.1 192.6,158.7 192.7,159.3 192.7,159.9 192.8,160.5 192.8,161 192.9,161.6 192.9,162 193,162.5 193,162.9 193.1,163.3 193.1,163.6 193.2,164 193.2,164.3 193.3,164.5 193.3,164.8 193.4,165 193.4,165.2 193.5,165.3 193.5,165.4 193.6,165.6 193.6,165.7 193.7,165.7 193.7,165.8 193.8,165.8 193.8,165.8 193.9,165.8 193.9,165.8 194,165.8 194,165.7 194.1,165.6 194.1,165.6 194.2,165.4 194.2,165.3 194.3,165.2 194.3,165 194.4,164.8 194.4,164.5 194.5,164.3 194.5,164 194.6,163.7 194.6,163.4 194.7,163 194.7,162.6 194.8,162.2 194.8,161.8 194.9,161.3 194.9,160.8 195,160.3 195,159.8 195.1,159.3 195.1,158.7 195.2,158.1 195.2,157.6 195.3,157 195.3,156.5 195.4,156 195.4,155.5 195.5,155.1 195.5,154.8 195.6,154.5 195.6,154.4 195.7,154.3 195.7,154.4 195.8,154.5 195.8,154.8 195.9,155.1 195.9,155.5 196,156 196,156.5 196.1,157.1 196.1,157.6 196.2,158.2 196.2,158.8 196.3,159.4 196.3,159.9 196.4,160.4 196.4,161 196.5,161.5 196.5,161.9 196.6,162.4 196.6,162.8 196.7,163.2 196.7,163.6 196.8,163.9 196.8,164.2 196.9,164.5 196.9,164.8 197,165 197,165.3 197.1,165.5 197.1,165.6 197.2,165.8 197.2,165.9 197.3,166.1 197.3,166.2 197.4,166.3 197.4,166.4 197.5,166.5 197.5,166.5 197.6,166.6 197.6,166.6 197.7,166.7 197.7,166.7 197.8,166.8 197.8,166.8 197.9,166.8 197.9,166.8 198,166.9 198,166.9 198.1,166.9 198.1,166.9 198.2,166.9 198.2,166.9 198.3,166.9 198.3,166.9 198.4,166.9 198.4,166.9 198.5,166.9 198.5,166.9 198.6,166.9 198.6,166.8 198.7,166.8 198.7,166.8 198.8,166.8 198.8,166.7 198.9,166.7 198.9,166.7 199,166.6 199,166.5 199.1,166.5 199.1,166.4 199.2,166.3 199.2,166.2 199.3,166.1 199.3,166 199.4,165.9 199.4,165.7 199.5,165.5 199.5,165.4 199.6,165.1 199.6,164.9 199.7,164.6 199.7,164.4 199.8,164.1 199.8,163.7 199.9,163.4 199.9,163 200,162.6 200,162.1 200.1,161.6 200.1,161.1 200.2,160.6 200.2,160 200.3,159.5 200.3,158.9 200.4,158.2 200.4,157.6 200.5,157 200.5,156.4 200.6,155.7 200.6,155.1 200.7,154.6 200.7,154 200.8,153.6 200.8,153.2 200.9,152.9 200.9,152.8 201,152.7 201,152.8 201.1,152.9 201.1,153.2 201.2,153.6 201.2,154 201.3,154.6 201.3,155.1 201.4,155.7 201.4,156.3 201.5,157 201.5,157.6 201.6,158.2 201.6,158.8 201.7,159.4 201.7,160 201.8,160.6 201.8,161.1 201.9,161.6 201.9,162.1 202,162.5 202,162.9 202.1,163.3 202.1,163.7 202.2,164 202.2,164.3 202.3,164.6 202.3,164.8 202.4,165.1 202.4,165.3 202.5,165.4 202.5,165.6 202.6,165.8 202.6,165.9 202.7,166 202.7,166.1 202.8,166.2 202.8,166.3 202.9,166.3 202.9,166.4 203,166.4 203,166.4 203.1,166.5 203.1,166.5 203.2,166.5 203.2,166.5 203.3,166.5 203.3,166.5 203.4,166.4 203.4,166.4 203.5,166.4 203.5,166.3 203.6,166.3 203.6,166.2 203.7,166.1 203.7,166 203.8,165.9 203.8,165.8 203.9,165.7 203.9,165.5 204,165.3 204,165.2 204.1,165 204.1,164.7 204.2,164.5 204.2,164.2 204.3,164 204.3,163.7 204.4,163.4 204.4,163 204.5,162.7 204.5,162.3 204.6,161.9 204.6,161.5 204.7,161.1 204.7,160.7 204.8,160.3 204.8,159.9 204.9,159.5 204.9,159.1 205,158.7 205,158.4 205.1,158.1 205.1,157.8 205.2,157.6 205.2,157.5 205.3,157.5 205.3,157.5 205.4,157.7 205.4,157.8 205.5,158.1 205.5,158.4 205.6,158.7 205.6,159.1 205.7,159.5 205.7,159.9 205.8,160.3 205.8,160.8 205.9,161.2 205.9,161.6 206,162 206,162.4 206.1,162.8 206.1,163.1 206.2,163.5 206.2,163.8 206.3,164.1 206.3,164.4 206.4,164.6 206.4,164.9 206.5,165.1 206.5,165.3 206.6,165.5 206.6,165.7 206.7,165.8 206.7,166 206.8,166.1 206.8,166.2 206.9,166.3 206.9,166.4 207,166.5 207,166.6 207.1,166.6 207.1,166.7 207.2,166.7 207.2,166.8 207.3,166.8 207.3,166.9 207.4,166.9 207.4,166.9 207.5,166.9 207.5,166.9 207.6,166.9 207.6,166.9 207.7,166.9 207.7,166.9 207.8,166.9 207.8,166.9 207.9,166.9 207.9,166.9 208,166.9 208,166.9 208.1,166.8 208.1,166.8 208.2,166.8 208.2,166.7 208.3,166.6 208.3,166.6 208.4,166.5 208.4,166.4 208.5,166.3 208.5,166.2 208.6,166.1 208.6,166 208.7,165.9 208.7,165.7 208.8,165.5 208.8,165.4 208.9,165.2 208.9,165 209,164.7 209,164.5 209.1,164.2 209.1,164 209.2,163.7 209.2,163.4 209.3,163.1 209.3,162.8 209.4,162.5 209.4,162.1 209.5,161.8 209.5,161.5 209.6,161.1 209.6,160.8 209.7,160.5 209.7,160.3 209.8,160 209.8,159.9 209.9,159.7 209.9,159.6 210,159.6 210,159.6 210.1,159.7 210.1,159.9 210.2,160.1 210.2,160.3 210.3,160.6 210.3,160.9 210.4,161.2 210.4,161.5 210.5,161.8 210.5,162.2 210.6,162.5 210.6,162.8 210.7,163.2 210.7,163.5 210.8,163.8 210.8,164 210.9,164.3 210.9,164.6 211,164.8 211,165.1 211.1,165.3 211.1,165.5 211.2,165.7 211.2,165.8 211.3,166 211.3,166.1 211.4,166.3 211.4,166.4 211.5,166.5 211.5,166.6 211.6,166.7 211.6,166.8 211.7,166.8 211.7,166.9 211.8,167 211.8,167 211.9,167.1 211.9,167.1 212,167.1 212,167.2 212.1,167.2 212.1,167.2 212.2,167.3 212.2,167.3 212.3,167.3 212.3,167.3 212.4,167.3 212.4,167.4 212.5,167.4 212.5,167.4 212.6,167.4 212.6,167.4 212.7,167.4 212.7,167.4 212.8,167.4 212.8,167.4 212.9,167.5 212.9,167.5 213,167.5 213,167.5 213.1,167.5 213.1,167.5 213.2,167.5 213.2,167.5 213.3,167.5 213.3,167.5 213.4,167.5 213.4,167.5 213.5,167.5 213.5,167.5 213.6,167.5 213.6,167.5 213.7,167.5 213.7,167.5 213.8,167.5 213.8,167.5 213.9,167.5 213.9,167.6 214,167.6 214,167.6 214.1,167.6 214.1,167.6 214.2,167.6 214.2,167.6 214.3,167.6 214.3,167.6 214.4,167.6 214.4,167.6 214.5,167.6 214.5,167.6 214.6,167.6 214.6,167.6 214.7,167.6 214.7,167.6 214.8,167.6 214.8,167.6 214.9,167.6 214.9,167.6 215,167.6 215,167.6 215.1,167.6 215.1,167.6 215.2,167.6 215.2,167.6 215.3,167.6 215.3,167.6 215.4,167.6 215.4,167.6 215.5,167.6 215.5,167.6 215.6,167.6 215.6,167.6 215.7,167.6 215.7,167.6 215.8,167.6 215.8,167.6 215.9,167.6 215.9,167.6 216,167.6 216,167.6 216.1,167.6 216.1,167.6 216.2,167.6 216.2,167.6 216.3,167.6 216.3,167.6 216.4,167.6 216.4,167.6 216.5,167.6 216.5,167.6 216.6,167.6 216.6,167.6 216.7,167.6 216.7,167.6 216.8,167.6 216.8,167.6 216.9,167.6 216.9,167.6 217,167.6 217,167.6 217.1,167.6 217.1,167.6 217.2,167.6 217.2,167.6 217.3,167.6 217.3,167.6 217.4,167.6 217.4,167.6 217.5,167.6 217.5,167.6 217.6,167.6 217.6,167.6 217.7,167.6 217.7,167.6 217.8,167.6 217.8,167.6 217.9,167.6 217.9,167.6 218,167.6 218,167.6 218.1,167.6 218.1,167.6 218.2,167.6 218.2,167.6 218.3,167.6 218.3,167.6 218.4,167.6 218.4,167.6 218.5,167.6 218.5,167.6 218.6,167.6 218.6,167.6 218.7,167.6 218.7,167.6 218.8,167.6 218.8,167.6 218.9,167.5 218.9,167.5 219,167.5 219,167.5 219.1,167.5 219.1,167.5 219.2,167.5 219.2,167.5 219.3,167.5 219.3,167.5 219.4,167.5 219.4,167.5 219.5,167.5 219.5,167.5 219.6,167.5 219.6,167.5 219.7,167.5 219.7,167.5 219.8,167.5 219.8,167.5 219.9,167.5 219.9,167.5 220,167.5 220,167.5 220.1,167.5 220.1,167.4 220.2,167.4 220.2,167.4 220.3,167.4 220.3,167.4 220.4,167.4 220.4,167.4 220.5,167.4 220.5,167.4 220.6,167.4 220.6,167.3 220.7,167.3 220.7,167.3 220.8,167.3 220.8,167.3 220.9,167.2 220.9,167.2 221,167.2 221,167.1 221.1,167.1 221.1,167.1 221.2,167 221.2,167 221.3,166.9 221.3,166.8 221.4,166.8 221.4,166.7 221.5,166.6 221.5,166.5 221.6,166.4 221.6,166.3 221.7,166.2 221.7,166.1 221.8,165.9 221.8,165.8 221.9,165.6 221.9,165.5 222,165.3 222,165.1 222.1,164.9 222.1,164.7 222.2,164.5 222.2,164.3 222.3,164.1 222.3,163.9 222.4,163.7 222.4,163.5 222.5,163.3 222.5,163.1 222.6,162.9 222.6,162.7 222.7,162.6 222.7,162.5 222.8,162.4 222.8,162.3 222.9,162.3 222.9,162.3 223,162.4 223,162.5 223.1,162.6 223.1,162.7 223.2,162.9 223.2,163.1 223.3,163.3 223.3,163.5 223.4,163.7 223.4,163.9 223.5,164.1 223.5,164.3 223.6,164.5 223.6,164.7 223.7,164.9 223.7,165.1 223.8,165.2 223.8,165.4 223.9,165.5 223.9,165.7 224,165.8 224,166 224.1,166.1 224.1,166.2 224.2,166.3 224.2,166.4 224.3,166.5 224.3,166.6 224.4,166.6 224.4,166.7 224.5,166.8 224.5,166.8 224.6,166.8 224.6,166.9 224.7,166.9 224.7,166.9 224.8,167 224.8,167 224.9,167 224.9,167 225,167 225,167 225.1,167 225.1,167 225.2,167 225.2,167 225.3,167 225.3,167 225.4,166.9 225.4,166.9 225.5,166.9 225.5,166.8 225.6,166.8 225.6,166.7 225.7,166.7 225.7,166.6 225.8,166.6 225.8,166.5 225.9,166.4 225.9,166.3 226,166.3 226,166.2 226.1,166.1 226.1,166 226.2,165.9 226.2,165.8 226.3,165.7 226.3,165.5 226.4,165.4 226.4,165.3 226.5,165.2 226.5,165.1 226.6,165 226.6,164.8 226.7,164.7 226.7,164.6 226.8,164.6 226.8,164.5 226.9,164.4 226.9,164.4 227,164.4 227,164.4 227.1,164.4 227.1,164.5 227.2,164.6 227.2,164.6 227.3,164.7 227.3,164.8 227.4,164.9 227.4,165 227.5,165.2 227.5,165.3 227.6,165.4 227.6,165.5 227.7,165.6 227.7,165.7 227.8,165.8 227.8,165.9 227.9,166 227.9,166.1 228,166.2 228,166.3 228.1,166.3 228.1,166.4 228.2,166.5 228.2,166.5 228.3,166.6 228.3,166.6 228.4,166.6 228.4,166.7 228.5,166.7 228.5,166.7 228.6,166.7 228.6,166.7 228.7,166.7 228.7,166.7 228.8,166.7 228.8,166.6 228.9,166.6 228.9,166.6 229,166.5 229,166.5 229.1,166.4 229.1,166.3 229.2,166.3 229.2,166.2 229.3,166.1 229.3,166 229.4,165.9 229.4,165.8 229.5,165.6 229.5,165.5 229.6,165.4 229.6,165.2 229.7,165.1 229.7,164.9 229.8,164.8 229.8,164.6 229.9,164.5 229.9,164.3 230,164.2 230,164.1 230.1,163.9 230.1,163.8 230.2,163.7 230.2,163.6 230.3,163.6 230.3,163.5 230.4,163.5 230.4,163.5 230.5,163.6 230.5,163.6 230.6,163.7 230.6,163.8 230.7,163.9 230.7,164.1 230.8,164.2 230.8,164.4 230.9,164.5 230.9,164.7 231,164.8 231,165 231.1,165.1 231.1,165.3 231.2,165.4 231.2,165.6 231.3,165.7 231.3,165.8 231.4,165.9 231.4,166 231.5,166.2 231.5,166.3 231.6,166.4 231.6,166.4 231.7,166.5 231.7,166.6 231.8,166.7 231.8,166.7 231.9,166.8 231.9,166.8 232,166.9 232,166.9 232.1,167 232.1,167 232.2,167 232.2,167.1 232.3,167.1 232.3,167.1 232.4,167.1 232.4,167.2 232.5,167.2 232.5,167.2 232.6,167.2 232.6,167.2 232.7,167.2 232.7,167.2 232.8,167.3 232.8,167.3 232.9,167.3 232.9,167.3 233,167.3 233,167.3 233.1,167.3 233.1,167.3 233.2,167.3 233.2,167.3 233.3,167.3 233.3,167.3 233.4,167.3 233.4,167.3 233.5,167.3 233.5,167.3 233.6,167.3 233.6,167.3 233.7,167.3 233.7,167.3 233.8,167.3 233.8,167.3 233.9,167.3 233.9,167.3 234,167.3 234,167.3 234.1,167.3 234.1,167.3 234.2,167.3 234.2,167.3 234.3,167.3 234.3,167.3 234.4,167.3 234.4,167.3 234.5,167.3 234.5,167.3 234.6,167.3 234.6,167.3 234.7,167.3 234.7,167.3 234.8,167.3 234.8,167.3 234.9,167.3 234.9,167.3 235,167.3 235,167.3 235.1,167.3 235.1,167.3 235.2,167.3 235.2,167.3 235.3,167.3 235.3,167.3 235.4,167.3 235.4,167.3 235.5,167.3 235.5,167.3 235.6,167.3 235.6,167.3 235.7,167.3 235.7,167.3 235.8,167.3 235.8,167.3 235.9,167.3 235.9,167.3 236,167.3 236,167.3 236.1,167.3 236.1,167.3 236.2,167.3 236.2,167.3 236.3,167.3 236.3,167.3 236.4,167.3 236.4,167.3 236.5,167.3 236.5,167.3 236.6,167.3 236.6,167.3 236.7,167.3 236.7,167.3 236.8,167.3 236.8,167.3 236.9,167.3 236.9,167.3 237,167.2 237,167.2 237.1,167.2 237.1,167.2 237.2,167.2 237.2,167.2 237.3,167.2 237.3,167.2 237.4,167.2 237.4,167.2 237.5,167.2 237.5,167.2 237.6,167.2 237.6,167.2 237.7,167.2 237.7,167.2 237.8,167.2 237.8,167.2 237.9,167.2 237.9,167.2 238,167.2 238,167.1 238.1,167.1 238.1,167.1 238.2,167.1 238.2,167.1 238.3,167.1 238.3,167.1 238.4,167.1 238.4,167.1 238.5,167.1 238.5,167.1 238.6,167.1 238.6,167.1 238.7,167 238.7,167 238.8,167 238.8,167 238.9,167 238.9,167 239,167 239,167 239.1,166.9 239.1,166.9 239.2,166.9 239.2,166.9 239.3,166.9 239.3,166.9 239.4,166.9 239.4,166.8 239.5,166.8 239.5,166.8 239.6,166.8 239.6,166.7 239.7,166.7 239.7,166.7 239.8,166.6 239.8,166.6 239.9,166.6 239.9,166.5 240,166.5 240,166.4 240.1,166.4 240.1,166.3 240.2,166.2 240.2,166.1 240.3,166 240.3,165.9 240.4,165.8 240.4,165.7 240.5,165.6 240.5,165.4 240.6,165.3 240.6,165.1 240.7,164.9 240.7,164.7 240.8,164.4 240.8,164.2 240.9,163.9 240.9,163.6 241,163.3 241,162.9 241.1,162.6 241.1,162.2 241.2,161.8 241.2,161.3 241.3,160.8 241.3,160.4 241.4,159.8 241.4,159.3 241.5,158.7 241.5,158.2 241.6,157.6 241.6,157 241.7,156.4 241.7,155.7 241.8,155.1 241.8,154.5 241.9,153.9 241.9,153.4 242,152.9 242,152.4 242.1,152 242.1,151.7 242.2,151.4 242.2,151.3 242.3,151.2 242.3,151.2 242.4,151.4 242.4,151.6 242.5,152 242.5,152.4 242.6,152.8 242.6,153.4 242.7,153.9 242.7,154.5 242.8,155.1 242.8,155.7 242.9,156.3 242.9,156.9 243,157.5 243,158.1 243.1,158.7 243.1,159.3 243.2,159.8 243.2,160.3 243.3,160.8 243.3,161.3 243.4,161.7 243.4,162.1 243.5,162.5 243.5,162.9 243.6,163.2 243.6,163.5 243.7,163.8 243.7,164.1 243.8,164.4 243.8,164.6 243.9,164.8 243.9,165 244,165.2 244,165.3 244.1,165.5 244.1,165.6 244.2,165.7 244.2,165.8 244.3,165.9 244.3,166 244.4,166.1 244.4,166.2 244.5,166.2 244.5,166.3 244.6,166.3 244.6,166.4 244.7,166.4 244.7,166.5 244.8,166.5 244.8,166.5 244.9,166.6 244.9,166.6 245,166.6 245,166.6 245.1,166.7 245.1,166.7 245.2,166.7 245.2,166.7 245.3,166.7 245.3,166.7 245.4,166.8 245.4,166.8 245.5,166.8 245.5,166.8 245.6,166.8 245.6,166.8 245.7,166.8 245.7,166.8 245.8,166.8 245.8,166.8 245.9,166.8 245.9,166.8 246,166.9 246,166.9 246.1,166.9 246.1,166.9 246.2,166.9 246.2,166.9 246.3,166.9 246.3,166.9 246.4,166.9 246.4,166.9 246.5,166.9 246.5,166.9 246.6,166.9 246.6,166.9 246.7,166.9 246.7,166.9 246.8,166.9 246.8,166.9 246.9,166.9 246.9,166.9 247,166.9 247,166.9 247.1,166.9 247.1,166.9 247.2,166.9 247.2,166.9 247.3,166.9 247.3,166.9 247.4,166.9 247.4,166.9 247.5,166.9 247.5,166.9 247.6,166.9 247.6,166.9 247.7,166.9 247.7,166.9 247.8,166.8 247.8,166.8 247.9,166.8 247.9,166.8 248,166.8 248,166.8 248.1,166.8 248.1,166.8 248.2,166.8 248.2,166.8 248.3,166.8 248.3,166.7 248.4,166.7 248.4,166.7 248.5,166.7 248.5,166.7 248.6,166.7 248.6,166.6 248.7,166.6 248.7,166.6 248.8,166.6 248.8,166.5 248.9,166.5 248.9,166.5 249,166.4 249,166.4 249.1,166.3 249.1,166.3 249.2,166.2 249.2,166.1 249.3,166.1 249.3,166 249.4,165.9 249.4,165.8 249.5,165.7 249.5,165.6 249.6,165.4 249.6,165.3 249.7,165.1 249.7,165 249.8,164.8 249.8,164.6 249.9,164.4 249.9,164.1 250,163.9 250,163.6 250.1,163.3 250.1,163.1 250.2,162.8 250.2,162.4 250.3,162.1 250.3,161.8 250.4,161.4 250.4,161 250.5,160.6 250.5,160.3 250.6,159.9 250.6,159.5 250.7,159.1 250.7,158.7 250.8,158.3 250.8,158 250.9,157.6 250.9,157.3 251,157.1 251,156.9 251.1,156.7 251.1,156.6 251.2,156.6 251.2,156.6 251.3,156.7 251.3,156.9 251.4,157.1 251.4,157.3 251.5,157.6 251.5,158 251.6,158.3 251.6,158.7 251.7,159.1 251.7,159.5 251.8,159.9 251.8,160.2 251.9,160.6 251.9,161 252,161.4 252,161.7 252.1,162.1 252.1,162.4 252.2,162.7 252.2,163 252.3,163.3 252.3,163.6 252.4,163.9 252.4,164.1 252.5,164.3 252.5,164.5 252.6,164.7 252.6,164.9 252.7,165.1 252.7,165.3 252.8,165.4 252.8,165.5 252.9,165.7 252.9,165.8 253,165.9 253,166 253.1,166 253.1,166.1 253.2,166.2 253.2,166.2 253.3,166.3 253.3,166.3 253.4,166.4 253.4,166.4 253.5,166.5 253.5,166.5 253.6,166.5 253.6,166.6 253.7,166.6 253.7,166.6 253.8,166.6 253.8,166.6 253.9,166.7 253.9,166.7 254,166.7 254,166.7 254.1,166.7 254.1,166.7 254.2,166.7 254.2,166.8 254.3,166.8 254.3,166.8 254.4,166.8 254.4,166.8 254.5,166.8 254.5,166.8 254.6,166.8 254.6,166.8 254.7,166.8 254.7,166.8 254.8,166.8 254.8,166.8 254.9,166.8 254.9,166.8 255,166.8 255,166.9 255.1,166.9 255.1,166.9 255.2,166.9 255.2,166.9 255.3,166.9 255.3,166.9 255.4,166.9 255.4,166.9 255.5,166.9 255.5,166.9 255.6,166.9 255.6,166.9 255.7,166.9 255.7,166.9 255.8,166.9 255.8,166.9 255.9,166.9 255.9,166.9 256,166.9 256,166.9 256.1,166.9 256.1,166.9 256.2,166.9 256.2,166.9 256.3,166.9 256.3,166.9 256.4,166.9 256.4,166.9 256.5,166.9 256.5,166.9 256.6,166.9 256.6,166.9 256.7,166.9 256.7,166.9 256.8,166.9 256.8,166.9 256.9,166.9 256.9,166.9 257,166.9 257,166.9 257.1,166.9 257.1,166.9 257.2,166.9 257.2,166.9 257.3,166.9 257.3,166.9 257.4,166.9 257.4,166.9 257.5,166.9 257.5,166.9 257.6,166.9 257.6,166.9 257.7,166.9 257.7,166.9 257.8,166.9 257.8,166.9 257.9,166.9 257.9,166.9 258,166.9 258,166.9 258.1,166.9 258.1,166.9 258.2,166.9 258.2,166.9 258.3,166.9 258.3,166.9 258.4,166.9 258.4,166.9 258.5,166.9 258.5,166.9 258.6,166.9 258.6,166.9 258.7,166.8 258.7,166.8 258.8,166.8 258.8,166.8 258.9,166.8 258.9,166.8 259,166.8 259,166.8 259.1,166.8 259.1,166.8 259.2,166.8 259.2,166.8 259.3,166.8 259.3,166.8 259.4,166.8 259.4,166.8 259.5,166.8 259.5,166.8 259.6,166.8 259.6,166.8 259.7,166.8 259.7,166.8 259.8,166.8 259.8,166.8 259.9,166.8 259.9,166.8 260,166.8 260,166.7 260.1,166.7 260.1,166.7 260.2,166.7 260.2,166.7 260.3,166.7 260.3,166.7 260.4,166.7 260.4,166.7 260.5,166.7 260.5,166.7 260.6,166.7 260.6,166.7 260.7,166.7 260.7,166.7 260.8,166.7 260.8,166.6 260.9,166.6 260.9,166.6 261,166.6 261,166.6 261.1,166.6 261.1,166.6 261.2,166.6 261.2,166.6 261.3,166.6 261.3,166.6 261.4,166.5 261.4,166.5 261.5,166.5 261.5,166.5 261.6,166.5 261.6,166.5 261.7,166.5 261.7,166.4 261.8,166.4 261.8,166.4 261.9,166.4 261.9,166.4 262,166.4 262,166.3 262.1,166.3 262.1,166.3 262.2,166.3 262.2,166.2 262.3,166.2 262.3,166.2 262.4,166.1 262.4,166.1 262.5,166.1 262.5,166 262.6,166 262.6,165.9 262.7,165.9 262.7,165.8 262.8,165.7 262.8,165.6 262.9,165.6 262.9,165.5 263,165.4 263,165.2 263.1,165.1 263.1,165 263.2,164.8 263.2,164.7 263.3,164.5 263.3,164.3 263.4,164.1 263.4,163.8 263.5,163.6 263.5,163.3 263.6,163 263.6,162.7 263.7,162.4 263.7,162.1 263.8,161.7 263.8,161.3 263.9,160.9 263.9,160.5 264,160 264,159.5 264.1,159.1 264.1,158.5 264.2,158 264.2,157.5 264.3,156.9 264.3,156.4 264.4,155.8 264.4,155.3 264.5,154.7 264.5,154.2 264.6,153.6 264.6,153.1 264.7,152.7 264.7,152.3 264.8,151.9 264.8,151.6 264.9,151.4 264.9,151.2 265,151.2 265,151.2 265.1,151.4 265.1,151.6 265.2,151.8 265.2,152.2 265.3,152.6 265.3,153.1 265.4,153.5 265.4,154.1 265.5,154.6 265.5,155.1 265.6,155.7 265.6,156.2 265.7,156.8 265.7,157.3 265.8,157.8 265.8,158.4 265.9,158.8 265.9,159.3 266,159.8 266,160.2 266.1,160.6 266.1,161 266.2,161.4 266.2,161.8 266.3,162.1 266.3,162.4 266.4,162.7 266.4,163 266.5,163.2 266.5,163.5 266.6,163.7 266.6,163.9 266.7,164 266.7,164.2 266.8,164.4 266.8,164.5 266.9,164.6 266.9,164.7 267,164.8 267,164.9 267.1,165 267.1,165 267.2,165.1 267.2,165.1 267.3,165.2 267.3,165.2 267.4,165.2 267.4,165.3 267.5,165.3 267.5,165.3 267.6,165.3 267.6,165.3 267.7,165.3 267.7,165.3 267.8,165.3 267.8,165.3 267.9,165.3 267.9,165.3 268,165.2 268,165.2 268.1,165.2 268.1,165.1 268.2,165.1 268.2,165 268.3,165 268.3,164.9 268.4,164.8 268.4,164.8 268.5,164.7 268.5,164.6 268.6,164.4 268.6,164.3 268.7,164.2 268.7,164 268.8,163.9 268.8,163.7 268.9,163.5 268.9,163.2 269,163 269,162.7 269.1,162.4 269.1,162.1 269.2,161.7 269.2,161.3 269.3,160.9 269.3,160.5 269.4,160 269.4,159.5 269.5,159 269.5,158.4 269.6,157.8 269.6,157.1 269.7,156.4 269.7,155.7 269.8,155 269.8,154.2 269.9,153.4 269.9,152.6 270,151.7 270,150.8 270.1,149.9 270.1,149 270.2,148.1 270.2,147.1 270.3,146.2 270.3,145.3 270.4,144.5 270.4,143.7 270.5,142.9 270.5,142.2 270.6,141.6 270.6,141.2 270.7,140.8 270.7,140.6 270.8,140.5 270.8,140.6 270.9,140.8 270.9,141.1 271,141.5 271,142.1 271.1,142.7 271.1,143.5 271.2,144.2 271.2,145.1 271.3,145.9 271.3,146.8 271.4,147.7 271.4,148.5 271.5,149.4 271.5,150.3 271.6,151.1 271.6,151.9 271.7,152.7 271.7,153.4 271.8,154.1 271.8,154.7 271.9,155.4 271.9,155.9 272,156.5 272,156.9 272.1,157.4 272.1,157.8 272.2,158.1 272.2,158.4 272.3,158.7 272.3,158.9 272.4,159 272.4,159.2 272.5,159.2 272.5,159.3 272.6,159.3 272.6,159.2 272.7,159.1 272.7,159 272.8,158.9 272.8,158.7 272.9,158.5 272.9,158.2 273,158 273,157.7 273.1,157.4 273.1,157.1 273.2,156.8 273.2,156.4 273.3,156.1 273.3,155.7 273.4,155.4 273.4,155.1 273.5,154.8 273.5,154.6 273.6,154.3 273.6,154.2 273.7,154.1 273.7,154 273.8,154 273.8,154.1 273.9,154.2 273.9,154.4 274,154.6 274,154.9 274.1,155.2 274.1,155.6 274.2,156 274.2,156.4 274.3,156.8 274.3,157.2 274.4,157.7 274.4,158.1 274.5,158.5 274.5,159 274.6,159.4 274.6,159.8 274.7,160.2 274.7,160.6 274.8,160.9 274.8,161.3 274.9,161.6 274.9,161.9 275,162.3 275,162.5 275.1,162.8 275.1,163.1 275.2,163.3 275.2,163.6 275.3,163.8 275.3,164 275.4,164.2 275.4,164.3 275.5,164.5 275.5,164.6 275.6,164.8 275.6,164.9 275.7,165 275.7,165.1 275.8,165.2 275.8,165.3 275.9,165.4 275.9,165.4 276,165.5 276,165.6 276.1,165.6 276.1,165.7 276.2,165.7 276.2,165.8 276.3,165.8 276.3,165.8 276.4,165.9 276.4,165.9 276.5,165.9 276.5,166 276.6,166 276.6,166 276.7,166 276.7,166 276.8,166.1 276.8,166.1 276.9,166.1 276.9,166.1 277,166.1 277,166.1 277.1,166.1 277.1,166.2 277.2,166.2 277.2,166.2 277.3,166.2 277.3,166.2 277.4,166.2 277.4,166.2 277.5,166.2 277.5,166.2 277.6,166.2 277.6,166.3 277.7,166.3 277.7,166.3 277.8,166.3 277.8,166.3 277.9,166.3 277.9,166.3 278,166.3 278,166.3 278.1,166.3 278.1,166.3 278.2,166.3 278.2,166.3 278.3,166.3 278.3,166.3 278.4,166.3 278.4,166.3 278.5,166.3 278.5,166.4 278.6,166.4 278.6,166.4 278.7,166.4 278.7,166.4 278.8,166.4 278.8,166.4 278.9,166.4 278.9,166.4 279,166.4 279,166.4 279.1,166.4 279.1,166.4 279.2,166.4 279.2,166.4 279.3,166.4 279.3,166.4 279.4,166.4 279.4,166.4 279.5,166.4 279.5,166.4 279.6,166.4 279.6,166.4 279.7,166.4 279.7,166.4 279.8,166.4 279.8,166.4 279.9,166.4 279.9,166.4 280,166.4 280,166.4 280.1,166.4 280.1,166.4 280.2,166.4 280.2,166.4 280.3,166.4 280.3,166.4 280.4,166.4 280.4,166.4 280.5,166.4 280.5,166.4 280.6,166.4 280.6,166.4 280.7,166.4 280.7,166.4 280.8,166.4 280.8,166.4 280.9,166.4 280.9,166.4 281,166.4 281,166.4 281.1,166.4 281.1,166.4 281.2,166.4 281.2,166.4 281.3,166.4 281.3,166.4 281.4,166.4 281.4,166.4 281.5,166.4 281.5,166.4 281.6,166.4 281.6,166.4 281.7,166.4 281.7,166.4 281.8,166.4 281.8,166.4 281.9,166.4 281.9,166.4 282,166.4 282,166.4 282.1,166.4 282.1,166.4 282.2,166.4 282.2,166.4 282.3,166.4 282.3,166.4 282.4,166.4 282.4,166.4 282.5,166.4 282.5,166.4 282.6,166.4 282.6,166.4 282.7,166.4 282.7,166.4 282.8,166.4 282.8,166.4 282.9,166.4 282.9,166.4 283,166.4 283,166.4 283.1,166.4 283.1,166.4 283.2,166.4 283.2,166.4 283.3,166.4 283.3,166.4 283.4,166.4 283.4,166.4 283.5,166.3 283.5,166.3 283.6,166.3 283.6,166.3 283.7,166.3 283.7,166.3 283.8,166.3 283.8,166.3 283.9,166.3 283.9,166.3 284,166.3 284,166.3 284.1,166.3 284.1,166.3 284.2,166.3 284.2,166.3 284.3,166.3 284.3,166.3 284.4,166.3 284.4,166.3 284.5,166.3 284.5,166.3 284.6,166.3 284.6,166.3 284.7,166.3 284.7,166.3 284.8,166.3 284.8,166.3 284.9,166.3 284.9,166.3 285,166.2 285,166.2 285.1,166.2 285.1,166.2 285.2,166.2 285.2,166.2 285.3,166.2 285.3,166.2 285.4,166.2 285.4,166.2 285.5,166.2 285.5,166.2 285.6,166.2 285.6,166.2 285.7,166.2 285.7,166.2 285.8,166.2 285.8,166.1 285.9,166.1 285.9,166.1 286,166.1 286,166.1 286.1,166.1 286.1,166.1 286.2,166.1 286.2,166.1 286.3,166.1 286.3,166.1 286.4,166.1 286.4,166 286.5,166 286.5,166 286.6,166 286.6,166 286.7,166 286.7,166 286.8,166 286.8,165.9 286.9,165.9 286.9,165.9 287,165.9 287,165.9 287.1,165.9 287.1,165.8 287.2,165.8 287.2,165.8 287.3,165.8 287.3,165.7 287.4,165.7 287.4,165.7 287.5,165.6 287.5,165.6 287.6,165.6 287.6,165.5 287.7,165.5 287.7,165.4 287.8,165.4 287.8,165.3 287.9,165.2 287.9,165.2 288,165.1 288,165 288.1,164.9 288.1,164.8 288.2,164.7 288.2,164.6 288.3,164.4 288.3,164.3 288.4,164.1 288.4,164 288.5,163.8 288.5,163.6 288.6,163.4 288.6,163.1 288.7,162.9 288.7,162.6 288.8,162.3 288.8,162 288.9,161.7 288.9,161.4 289,161 289,160.7 289.1,160.3 289.1,159.9 289.2,159.5 289.2,159 289.3,158.6 289.3,158.1 289.4,157.6 289.4,157.1 289.5,156.7 289.5,156.2 289.6,155.7 289.6,155.2 289.7,154.7 289.7,154.2 289.8,153.7 289.8,153.3 289.9,152.9 289.9,152.6 290,152.3 290,152 290.1,151.8 290.1,151.7 290.2,151.7 290.2,151.7 290.3,151.8 290.3,152 290.4,152.3 290.4,152.6 290.5,152.9 290.5,153.3 290.6,153.7 290.6,154.2 290.7,154.6 290.7,155.1 290.8,155.6 290.8,156.1 290.9,156.6 290.9,157.1 291,157.6 291,158 291.1,158.5 291.1,158.9 291.2,159.4 291.2,159.8 291.3,160.2 291.3,160.6 291.4,160.9 291.4,161.3 291.5,161.6 291.5,161.9 291.6,162.2 291.6,162.5 291.7,162.8 291.7,163 291.8,163.2 291.8,163.4 291.9,163.6 291.9,163.8 292,164 292,164.1 292.1,164.3 292.1,164.4 292.2,164.5 292.2,164.6 292.3,164.7 292.3,164.8 292.4,164.9 292.4,165 292.5,165.1 292.5,165.1 292.6,165.2 292.6,165.2 292.7,165.3 292.7,165.3 292.8,165.4 292.8,165.4 292.9,165.4 292.9,165.5 293,165.5 293,165.5 293.1,165.5 293.1,165.6 293.2,165.6 293.2,165.6 293.3,165.6 293.3,165.6 293.4,165.6 293.4,165.6 293.5,165.7 293.5,165.7 293.6,165.7 293.6,165.7 293.7,165.7 293.7,165.7 293.8,165.7 293.8,165.7 293.9,165.7 293.9,165.7 294,165.7 294,165.7 294.1,165.7 294.1,165.7 294.2,165.8 294.2,165.8 294.3,165.8 294.3,165.8 294.4,165.8 294.4,165.8 294.5,165.8 294.5,165.8 294.6,165.8 294.6,165.8 294.7,165.8 294.7,165.8 294.8,165.8 294.8,165.8 294.9,165.8 294.9,165.8 295,165.8 295,165.8 295.1,165.8 295.1,165.8 295.2,165.8 295.2,165.8 295.3,165.8 295.3,165.8 295.4,165.8 295.4,165.8 295.5,165.8 295.5,165.8 295.6,165.8 295.6,165.8 295.7,165.8 295.7,165.7 295.8,165.7 295.8,165.7 295.9,165.7 295.9,165.7 296,165.7 296,165.7 296.1,165.7 296.1,165.7 296.2,165.7 296.2,165.7 296.3,165.7 296.3,165.7 296.4,165.7 296.4,165.7 296.5,165.7 296.5,165.7 296.6,165.6 296.6,165.6 296.7,165.6 296.7,165.6 296.8,165.6 296.8,165.6 296.9,165.6 296.9,165.6 297,165.6 297,165.6 297.1,165.5 297.1,165.5 297.2,165.5 297.2,165.5 297.3,165.5 297.3,165.5 297.4,165.4 297.4,165.4 297.5,165.4 297.5,165.4 297.6,165.4 297.6,165.3 297.7,165.3 297.7,165.3 297.8,165.3 297.8,165.2 297.9,165.2 297.9,165.1 298,165.1 298,165.1 298.1,165 298.1,165 298.2,164.9 298.2,164.8 298.3,164.8 298.3,164.7 298.4,164.6 298.4,164.5 298.5,164.4 298.5,164.3 298.6,164.2 298.6,164.1 298.7,163.9 298.7,163.8 298.8,163.6 298.8,163.5 298.9,163.3 298.9,163.1 299,162.9 299,162.6 299.1,162.4 299.1,162.1 299.2,161.9 299.2,161.6 299.3,161.3 299.3,161 299.4,160.6 299.4,160.3 299.5,159.9 299.5,159.5 299.6,159.1 299.6,158.7 299.7,158.3 299.7,157.9 299.8,157.4 299.8,157 299.9,156.5 299.9,156 300,155.6 300,155.1 300.1,154.6 300.1,154.2 300.2,153.8 300.2,153.4 300.3,153 300.3,152.6 300.4,152.3 300.4,152.1 300.5,151.9 300.5,151.8 300.6,151.7 300.6,151.7 300.7,151.7 300.7,151.8 300.8,152 300.8,152.2 300.9,152.5 300.9,152.7 301,153 301,153.3 301.1,153.7 301.1,154 301.2,154.3 301.2,154.7 301.3,155 301.3,155.3 301.4,155.6 301.4,155.9 301.5,156.1 301.5,156.3 301.6,156.5 301.6,156.7 301.7,156.9 301.7,157 301.8,157.1 301.8,157.1 301.9,157.2 301.9,157.2 302,157.2 302,157.1 302.1,157 302.1,156.9 302.2,156.8 302.2,156.7 302.3,156.5 302.3,156.3 302.4,156.1 302.4,155.9 302.5,155.6 302.5,155.4 302.6,155.1 302.6,154.9 302.7,154.7 302.7,154.4 302.8,154.2 302.8,154 302.9,153.9 302.9,153.8 303,153.7 303,153.7 303.1,153.7 303.1,153.8 303.2,153.9 303.2,154.1 303.3,154.3 303.3,154.5 303.4,154.8 303.4,155.1 303.5,155.5 303.5,155.8 303.6,156.2 303.6,156.6 303.7,157 303.7,157.3 303.8,157.7 303.8,158.1 303.9,158.5 303.9,158.9 304,159.2 304,159.6 304.1,159.9 304.1,160.3 304.2,160.6 304.2,160.9 304.3,161.2 304.3,161.5 304.4,161.7 304.4,162 304.5,162.2 304.5,162.5 304.6,162.7 304.6,162.9 304.7,163.1 304.7,163.2 304.8,163.4 304.8,163.6 304.9,163.7 304.9,163.8 305,164 305,164.1 305.1,164.2 305.1,164.3 305.2,164.4 305.2,164.4 305.3,164.5 305.3,164.6 305.4,164.6 305.4,164.7 305.5,164.8 305.5,164.8 305.6,164.8 305.6,164.9 305.7,164.9 305.7,165 305.8,165 305.8,165 305.9,165 305.9,165.1 306,165.1 306,165.1 306.1,165.1 306.1,165.2 306.2,165.2 306.2,165.2 306.3,165.2 306.3,165.2 306.4,165.2 306.4,165.2 306.5,165.2 306.5,165.3 306.6,165.3 306.6,165.3 306.7,165.3 306.7,165.3 306.8,165.3 306.8,165.3 306.9,165.3 306.9,165.3 307,165.3 307,165.3 307.1,165.3 307.1,165.3 307.2,165.4 307.2,165.4 307.3,165.4 307.3,165.4 307.4,165.4 307.4,165.4 307.5,165.4 307.5,165.4 307.6,165.4 307.6,165.4 307.7,165.4 307.7,165.4 307.8,165.4 307.8,165.4 307.9,165.4 307.9,165.4 308,165.4 308,165.4 308.1,165.4 308.1,165.4 308.2,165.4 308.2,165.4 308.3,165.4 308.3,165.4 308.4,165.4 308.4,165.4 308.5,165.4 308.5,165.4 308.6,165.4 308.6,165.4 308.7,165.4 308.7,165.4 308.8,165.4 308.8,165.4 308.9,165.4 308.9,165.4 309,165.4 309,165.4 309.1,165.4 309.1,165.4 309.2,165.4 309.2,165.4 309.3,165.4 309.3,165.4 309.4,165.4 309.4,165.4 309.5,165.4 309.5,165.4 309.6,165.4 309.6,165.4 309.7,165.4 309.7,165.4 309.8,165.4 309.8,165.4 309.9,165.4 309.9,165.4 310,165.4 310,165.4 310.1,165.4 310.1,165.4 310.2,165.4 310.2,165.4 310.3,165.4 310.3,165.4 310.4,165.4 310.4,165.4 310.5,165.4 310.5,165.4 310.6,165.4 310.6,165.4 310.7,165.4 310.7,165.4 310.8,165.4 310.8,165.4 310.9,165.4 310.9,165.4 311,165.4 311,165.4 311.1,165.4 311.1,165.4 311.2,165.4 311.2,165.4 311.3,165.4 311.3,165.4 311.4,165.4 311.4,165.4 311.5,165.4 311.5,165.4 311.6,165.4 311.6,165.4 311.7,165.4 311.7,165.4 311.8,165.4 311.8,165.4 311.9,165.4 311.9,165.4 312,165.4 312,165.4 312.1,165.4 312.1,165.4 312.2,165.4 312.2,165.4 312.3,165.4 312.3,165.4 312.4,165.4 312.4,165.4 312.5,165.4 312.5,165.4 312.6,165.4 312.6,165.4 312.7,165.4 312.7,165.4 312.8,165.4 312.8,165.4 312.9,165.4 312.9,165.4 313,165.4 313,165.4 313.1,165.4 313.1,165.4 313.2,165.4 313.2,165.4 313.3,165.4 313.3,165.4 313.4,165.4 313.4,165.3 313.5,165.3 313.5,165.3 313.6,165.3 313.6,165.3 313.7,165.3 313.7,165.3 313.8,165.3 313.8,165.3 313.9,165.3 313.9,165.3 314,165.3 314,165.3 314.1,165.3 314.1,165.3 314.2,165.3 314.2,165.3 314.3,165.3 314.3,165.3 314.4,165.3 314.4,165.3 314.5,165.3 314.5,165.3 314.6,165.3 314.6,165.3 314.7,165.3 314.7,165.3 314.8,165.3 314.8,165.3 314.9,165.3 314.9,165.3 315,165.3 315,165.3 315.1,165.3 315.1,165.3 315.2,165.3 315.2,165.3 315.3,165.3 315.3,165.3 315.4,165.3 315.4,165.3 315.5,165.3 315.5,165.3 315.6,165.3 315.6,165.3 315.7,165.3 315.7,165.3 315.8,165.3 315.8,165.3 315.9,165.3 315.9,165.3 316,165.2 316,165.2 316.1,165.2 316.1,165.2 316.2,165.2 316.2,165.2" fill="none" stroke="#e0262a" stroke-width="1.15" stroke-linejoin="round"/>
<path d="M47.9 175.6V185.7M73.8 175.6V185.7M81.4 175.6V185.7M83.2 175.6V185.7M93.6 175.6V185.7M112.5 175.6V185.7M116.4 175.6V185.7M118.2 175.6V185.7M122 175.6V185.7M128.7 175.6V185.7M134 175.6V185.7M139.5 175.6V185.7M150.4 175.6V185.7M154.2 175.6V185.7M166.9 175.6V185.7M169.5 175.6V185.7M172.5 175.6V185.7M175.1 175.6V185.7M190.1 175.6V185.7M191.2 175.6V185.7M192.4 175.6V185.7M193.5 175.6V185.7M194.6 175.6V185.7M195.8 175.6V185.7M196.9 175.6V185.7M202.2 175.6V185.7M205.2 175.6V185.7M211.3 175.6V185.7M214.4 175.6V185.7M217.4 175.6V185.7M220.8 175.6V185.7M223 175.6V185.7M225.3 175.6V185.7M227.6 175.6V185.7M233.7 175.6V185.7M243 175.6V185.7M246.3 175.6V185.7M247.4 175.6V185.7M248.4 175.6V185.7M249.5 175.6V185.7M250.6 175.6V185.7M251.7 175.6V185.7M252.7 175.6V185.7M253.8 175.6V185.7M256.3 175.6V185.7M257.3 175.6V185.7M258.3 175.6V185.7M259.3 175.6V185.7M260.3 175.6V185.7M261.3 175.6V185.7M262.3 175.6V185.7M264.8 175.6V185.7M265.8 175.6V185.7M266.7 175.6V185.7M267.7 175.6V185.7M268.6 175.6V185.7M269.6 175.6V185.7M272.3 175.6V185.7M273.4 175.6V185.7M274.5 175.6V185.7M275.7 175.6V185.7M276.8 175.6V185.7M277.9 175.6V185.7M279 175.6V185.7M280.2 175.6V185.7M281.3 175.6V185.7M282.4 175.6V185.7M290 175.6V185.7M291.4 175.6V185.7M296 175.6V185.7M302.9 175.6V185.7M304.1 175.6V185.7M305.3 175.6V185.7M306.4 175.6V185.7M307.6 175.6V185.7M308.8 175.6V185.7M310 175.6V185.7M311.1 175.6V185.7M312.3 175.6V185.7M313.5 175.6V185.7M316 175.6V185.7" stroke="#178617" stroke-width="2.1"/>
<polyline points="35.2,202.6 35.7,202.6 36.2,202.3 36.7,202 37.2,202.7 37.7,202 38.2,202.3 38.7,202.7 39.2,202.7 39.7,202.9 40.2,203 40.7,202.8 41.2,203.3 41.7,201.6 42.2,202.6 42.7,202.6 43.2,202.3 43.7,202.4 44.2,202.7 44.7,202.2 45.2,203.6 45.7,203.6 46.2,202.2 46.7,203.1 47.2,202.9 47.7,197.1 48.2,207.3 48.7,202.8 49.2,202.5 49.7,202.1 50.2,203 50.7,202.5 51.2,203.1 51.7,201.7 52.2,202 52.7,200.6 53.2,202.2 53.7,201.8 54.2,202.8 54.7,203 55.2,202.5 55.7,203 56.2,202 56.7,201.7 57.2,203.2 57.7,203 58.2,202.9 58.7,202.2 59.2,203 59.7,202.8 60.2,204 60.7,200.9 61.2,201.7 61.7,202.9 62.2,202.9 62.7,202.6 63.2,202.3 63.7,202 64.2,203.4 64.7,203.1 65.2,202.6 65.7,202.7 66.2,203.4 66.7,201.8 67.2,201.7 67.7,202.4 68.2,201.8 68.7,202.9 69.2,202.8 69.7,202.9 70.2,202.3 70.7,202.1 71.2,202.7 71.7,201.2 72.2,201.5 72.7,201.8 73.2,201.6 73.7,194.9 74.2,203.7 74.7,202.8 75.2,202.4 75.7,201.4 76.2,200.9 76.7,203.5 77.2,202.6 77.7,202.7 78.2,202.1 78.7,201.8 79.2,203.2 79.7,201.7 80.2,202.2 80.7,202.4 81.2,201.9 81.7,202.1 82.2,202.1 82.7,202.1 83.2,203.3 83.7,202.4 84.2,203 84.7,201.9 85.2,202.1 85.7,202 86.2,201.5 86.7,202.4 87.2,201.5 87.7,201.7 88.2,202.4 88.7,202.6 89.2,201.9 89.7,202.5 90.2,203.1 90.7,203.3 91.2,202.9 91.7,202.2 92.2,203.2 92.7,202.2 93.2,202.2 93.7,203 94.2,202.6 94.7,202.7 95.2,201.9 95.7,202.2 96.2,202.6 96.7,202.7 97.2,202.7 97.7,201.3 98.2,203.7 98.7,202.9 99.2,201.9 99.7,203.1 100.2,202.3 100.7,202.2 101.2,203.4 101.7,201.7 102.2,201.8 102.7,201.9 103.2,202.1 103.7,204.3 104.2,202.1 104.7,201.8 105.2,202.5 105.7,202.9 106.2,203.2 106.7,201.9 107.2,203.6 107.7,202.5 108.2,201.9 108.7,202 109.2,202.7 109.7,202.4 110.2,202.2 110.7,202.5 111.2,203.8 111.7,203.3 112.2,200.1 112.7,205 113.2,203 113.7,201.8 114.2,201.3 114.7,201.8 115.2,201.6 115.7,201.5 116.2,202.3 116.7,198.9 117.2,204.7 117.7,202.6 118.2,202.1 118.7,201.5 119.2,201.8 119.7,202.9 120.2,201.7 120.7,201.7 121.2,202.6 121.7,201.8 122.2,201.8 122.7,202.5 123.2,202.3 123.7,202.1 124.2,202.1 124.7,203 125.2,202.6 125.7,202 126.2,202.1 126.7,203.4 127.2,202.3 127.7,202.6 128.2,190.6 128.7,208.6 129.2,202.5 129.7,201.8 130.2,202.2 130.7,203.1 131.2,202.3 131.7,203.3 132.2,202.5 132.7,202.7 133.2,202.5 133.7,201.9 134.2,203.1 134.7,203.3 135.2,202.6 135.7,202.4 136.2,202.3 136.7,202.7 137.2,203.1 137.7,203 138.2,202.6 138.7,202.4 139.2,197.5 139.7,205.3 140.2,201.8 140.7,203.6 141.2,201.9 141.7,201.8 142.2,203.3 142.7,202.7 143.2,202.7 143.7,202.1 144.2,202.4 144.7,202.9 145.2,204.1 145.7,202.7 146.2,202.5 146.7,202.8 147.2,202.4 147.7,201.9 148.2,201.3 148.7,202.7 149.2,201.5 149.7,203.1 150.2,202.1 150.7,202.1 151.2,201.7 151.7,201.7 152.2,202 152.7,196.1 153.2,210.6 153.7,202.3 154.2,202 154.7,202.7 155.2,202.6 155.7,202.7 156.2,201.8 156.7,201.9 157.2,201.6 157.7,202.8 158.2,200.8 158.7,203.3 159.2,202.2 159.7,202 160.2,202.5 160.7,202.2 161.2,202.1 161.7,202.6 162.2,202.7 162.7,202.1 163.2,203.3 163.7,201.6 164.2,202.9 164.7,202.5 165.2,201.8 165.7,202.9 166.2,203.2 166.7,201.4 167.2,197.7 167.7,208.8 168.2,202.5 168.7,201.4 169.2,202.7 169.7,203.1 170.2,202.5 170.7,202 171.2,202.2 171.7,202.6 172.2,202.3 172.7,199.1 173.2,204.2 173.7,201.5 174.2,202.4 174.7,203.5 175.2,203.2 175.7,202.2 176.2,202.2 176.7,202.9 177.2,202.8 177.7,203.1 178.2,202.6 178.7,202.1 179.2,202.7 179.7,203.4 180.2,202.5 180.7,203.6 181.2,201.9 181.7,202.2 182.2,202.5 182.7,202.3 183.2,202.9 183.7,202.6 184.2,202.8 184.7,203.3 185.2,201.7 185.7,202.2 186.2,203.6 186.7,202.2 187.2,201.7 187.7,201.9 188.2,201.7 188.7,202.3 189.2,202.5 189.7,202.6 190.2,202.8 190.7,199.3 191.2,204.9 191.7,203 192.2,201.5 192.7,201.8 193.2,202.7 193.7,197.7 194.2,206 194.7,202 195.2,202 195.7,202.5 196.2,203.8 196.7,198.7 197.2,204.4 197.7,201.9 198.2,202.7 198.7,200.3 199.2,204.3 199.7,202.7 200.2,202.2 200.7,202.4 201.2,202.7 201.7,202.4 202.2,202.2 202.7,201.9 203.2,202.6 203.7,202.5 204.2,202.3 204.7,202 205.2,202.1 205.7,201.8 206.2,203.4 206.7,202.8 207.2,203.6 207.7,201.3 208.2,201.4 208.7,202.6 209.2,202.3 209.7,202.1 210.2,202 210.7,202.2 211.2,200.8 211.7,203.8 212.2,202.2 212.7,202.3 213.2,202.9 213.7,202.3 214.2,202.6 214.7,202.8 215.2,202.9 215.7,202.7 216.2,203.1 216.7,203.1 217.2,202.5 217.7,202.7 218.2,202.1 218.7,202.9 219.2,201.7 219.7,201.6 220.2,202 220.7,202.7 221.2,202.1 221.7,202.2 222.2,203.2 222.7,203.4 223.2,203.7 223.7,203.1 224.2,202.9 224.7,202.8 225.2,201.8 225.7,202.6 226.2,202.4 226.7,203.1 227.2,202.8 227.7,201.9 228.2,202.3 228.7,202.8 229.2,202.6 229.7,202.1 230.2,203 230.7,201.3 231.2,202.8 231.7,201.9 232.2,201.6 232.7,202.2 233.2,203.1 233.7,201.5 234.2,202.3 234.7,202.4 235.2,202.1 235.7,202.2 236.2,202.3 236.7,202.5 237.2,203.3 237.7,200.8 238.2,202.6 238.7,202.9 239.2,201.4 239.7,202.8 240.2,203 240.7,202.2 241.2,202.6 241.7,202.1 242.2,196.2 242.7,206.1 243.2,202 243.7,203 244.2,202 244.7,202.8 245.2,202.9 245.7,203.1 246.2,202.4 246.7,202.7 247.2,201.9 247.7,201.8 248.2,203.4 248.7,203 249.2,201.8 249.7,201.9 250.2,203.4 250.7,202.6 251.2,203.1 251.7,203.3 252.2,202.3 252.7,203 253.2,201.7 253.7,202.4 254.2,202.9 254.7,203.2 255.2,202.4 255.7,202.7 256.2,201.9 256.7,203 257.2,201.6 257.7,202.2 258.2,202.3 258.7,201.9 259.2,200 259.7,204.2 260.2,203 260.7,202.8 261.2,202.6 261.7,202.6 262.2,202.6 262.7,201.8 263.2,202.2 263.7,202.3 264.2,202.9 264.7,202.6 265.2,202.7 265.7,201.7 266.2,200.3 266.7,204 267.2,201.8 267.7,202.4 268.2,202.6 268.7,202.3 269.2,203.3 269.7,202.1 270.2,196.1 270.7,204.6 271.2,203.2 271.7,202.2 272.2,202.2 272.7,201.3 273.2,198.9 273.7,205.1 274.2,202.6 274.7,202.9 275.2,203.1 275.7,201.9 276.2,202.5 276.7,203.3 277.2,202.8 277.7,202.9 278.2,203.2 278.7,202.7 279.2,202.5 279.7,203.9 280.2,201.5 280.7,202.6 281.2,202.8 281.7,202.5 282.2,202.4 282.7,202.2 283.2,203.1 283.7,201.4 284.2,201.8 284.7,201.6 285.2,202 285.7,202.1 286.2,202.6 286.7,203 287.2,201.9 287.7,202.4 288.2,203.7 288.7,202.9 289.2,201.5 289.7,202.9 290.2,197.5 290.7,207 291.2,202.6 291.7,202.9 292.2,202.6 292.7,203 293.2,202.6 293.7,203 294.2,202.8 294.7,201.9 295.2,201.5 295.7,203.6 296.2,201.9 296.7,201.8 297.2,203.1 297.7,203.1 298.2,202.3 298.7,203.2 299.2,202.1 299.7,202.2 300.2,201.6 300.7,203.7 301.2,200.5 301.7,205.4 302.2,201.5 302.7,202.7 303.2,201.4 303.7,202 304.2,202.8 304.7,203.3 305.2,203.4 305.7,202.4 306.2,201.7 306.7,202.7 307.2,202.2 307.7,202.9 308.2,202.7 308.7,203.5 309.2,202.8 309.7,202.4 310.2,200.7 310.7,204.3 311.2,202.2 311.7,202.1 312.2,202.3 312.7,202.1 313.2,199.5 313.7,204.6 314.2,202.2 314.7,202.8 315.2,202 315.7,201.8 316.2,203.5" fill="none" stroke="#1414e6" stroke-width="1.9" stroke-linejoin="round"/>
<rect x="33.8" y="2.3" width="284.3" height="219" fill="none" stroke="#000" stroke-width="2.7"/>
<path d="M33.5 222.4v3.2M62 222.4v2.2M90.4 222.4v3.2M118.9 222.4v2.2M147.3 222.4v3.2M175.8 222.4v2.2M204.2 222.4v3.2M232.7 222.4v2.2M261.1 222.4v3.2M289.6 222.4v2.2M318 222.4v3.2" stroke="#000" stroke-width="2.4"/>
<text x="33.5" y="238.9" class="tl">10</text>
<text x="90.4" y="238.9" class="tl">20</text>
<text x="147.3" y="238.9" class="tl">30</text>
<text x="204.2" y="238.9" class="tl">40</text>
<text x="261.1" y="238.9" class="tl">50</text>
<text x="318" y="238.9" class="tl">60</text>
<text x="180.2" y="259.8" class="ax" text-anchor="middle" style="font-size:16.8px">2θ (degrees)</text>
<text transform="translate(20.4,114.2) rotate(-90)" class="ax" text-anchor="middle" style="font-size:16.7px">Intensity (a.u.)</text>
<!-- legend A -->
<path d="M198.5 12.1l3 3m0 -3l-3 3" stroke="#111" stroke-width="1.2"/>
<text x="216.6" y="17.3" class="lg">Obs.</text>
<line x1="186.7" y1="28.2" x2="213" y2="28.2" stroke="#e03c3c" stroke-width="1.1"/>
<text x="216.6" y="32.4" class="lg">Cal</text>
<line x1="186.7" y1="43" x2="213" y2="43" stroke="#4040ee" stroke-width="1.1"/>
<text x="216.6" y="46.7" class="lg">Obs-Cal</text>
<line x1="200.6" y1="49.7" x2="200.6" y2="65" stroke="#1a8a1a" stroke-width="1.8"/>
<text x="218.3" y="60.6" class="lg">Bragg Positions</text>

<!-- ================= PANEL B ================= -->
<text x="0" y="19.6" class="pl" transform="translate(321.6,0) scale(1.1,1)">(b)</text>
<polyline points="356.2,165.6 356.5,165.3 356.8,165.3 357.1,165.7 357.4,164.9 357.7,166.2 358,165.5 358.3,165.1 358.6,164.3 358.9,165.7 359.2,166.1 359.5,164.6 359.8,165.2 360.1,166 360.4,165.2 360.7,166.8 361,165.5 361.3,166.1 361.6,167.1 361.9,166.5 362.2,165.3 362.5,165.5 362.8,166.8 363.1,166.3 363.4,164.8 363.7,165 364,166.1 364.3,165.8 364.6,166.4 364.9,166.7 365.2,166.6 365.5,166.5 365.8,165.9 366.1,167 366.4,166.9 366.7,166.1 367,165.3 367.3,165.6 367.6,166.7 367.9,165.6 368.2,164.7 368.5,164.9 368.8,164.8 369.1,164.9 369.4,164.8 369.7,163.8 370,164.5 370.3,164.5 370.6,163.3 370.9,164.1 371.2,165.1 371.5,163.7 371.8,164.4 372.1,164.4 372.4,164.9 372.7,165.1 373,165 373.3,165.2 373.6,167.3 373.9,167.3 374.2,166.4 374.5,165.5 374.8,166.8 375.1,166.9 375.4,166 375.7,167.4 376,166 376.3,166.9 376.6,166.7 376.9,166.8 377.2,166.9 377.5,166.8 377.8,166.7 378.1,166.1 378.4,165.5 378.7,166.8 379,166 379.3,167.1 379.6,166.7 379.9,167.6 380.2,167.1 380.5,166.8 380.8,166.2 381.1,165.4 381.4,168.1 381.7,166.8 382,166.4 382.3,167.4 382.6,166.8 382.9,167.4 383.2,167.8 383.5,165.9 383.8,168.6 384.1,166.8 384.4,167.3 384.7,168.5 385,167.5 385.3,167.3 385.6,168.3 385.9,167.3 386.2,167.9 386.5,167.3 386.8,166.3 387.1,167.7 387.4,168.8 387.7,167.2 388,166.8 388.3,168.1 388.6,167.6 388.9,167.3 389.2,167.2 389.5,169 389.8,168.2 390.1,167.9 390.4,168.6 390.7,168.1 391,167.5 391.3,168.8 391.6,167.2 391.9,168.2 392.2,167.9 392.5,167.6 392.8,167.2 393.1,166.9 393.4,167.4 393.7,167.2 394,167.1 394.3,168.2 394.6,168.7 394.9,167.3 395.2,167.2 395.5,166 395.8,165 396.1,164.8 396.4,165.9 396.7,166.3 397,165.6 397.3,166 397.6,165.2 397.9,165.5 398.2,165.1 398.5,165.7 398.8,166.5 399.1,165.2 399.4,166.6 399.7,165.2 400,166 400.3,167 400.6,164.8 400.9,166.4 401.2,165.9 401.5,167.9 401.8,169 402.1,167 402.4,167 402.7,167.6 403,165.3 403.3,165.8 403.6,168.2 403.9,166.2 404.2,168.2 404.5,167.7 404.8,167 405.1,165.7 405.4,165.6 405.7,165.3 406,165.1 406.3,165.4 406.6,167.2 406.9,165.7 407.2,165.4 407.5,166.5 407.8,166.4 408.1,167.9 408.4,167.3 408.7,168 409,167.6 409.3,167.1 409.6,167.9 409.9,168.2 410.2,167.7 410.5,168 410.8,167.8 411.1,167.7 411.4,167.6 411.7,168.4 412,165.9 412.3,166.6 412.6,167.5 412.9,167.4 413.2,167.5 413.5,169.4 413.8,168.5 414.1,168.1 414.4,167.6 414.7,168.6 415,167.5 415.3,166.8 415.6,168 415.9,166.6 416.2,167 416.5,168.4 416.8,168.9 417.1,168.1 417.4,167.8 417.7,168.6 418,166.6 418.3,168.3 418.6,167.8 418.9,169.3 419.2,167.9 419.5,168.8 419.8,167.8 420.1,168.4 420.4,168.7 420.7,167.3 421,168.4 421.3,167.8 421.6,168 421.9,167.1 422.2,167.7 422.5,166 422.8,166.8 423.1,168.5 423.4,167.1 423.7,166.9 424,169.2 424.3,168.2 424.6,168.4 424.9,167.4 425.2,168.7 425.5,167.9 425.8,167.7 426.1,167.1 426.4,166.8 426.7,165.6 427,167.6 427.3,166.1 427.6,167.6 427.9,166.1 428.2,166.7 428.5,168 428.8,167.9 429.1,168.4 429.4,167.6 429.7,168 430,167.2 430.3,166.9 430.6,168.1 430.9,167.5 431.2,168.1 431.5,168.7 431.8,168.2 432.1,167.5 432.4,168.3 432.7,167.7 433,167.6 433.3,169.1 433.6,168.2 433.9,167.1 434.2,165.9 434.5,167.5 434.8,166.4 435.1,166.3 435.4,168.1 435.7,166.7 436,166.8 436.3,166.1 436.6,166.1 436.9,164.8 437.2,165.7 437.5,164.6 437.8,166.7 438.1,164.8 438.4,164.5 438.7,164.7 439,165.4 439.3,165.7 439.6,165.1 439.9,165.7 440.2,163.9 440.5,165.4 440.8,166 441.1,165.9 441.4,165.4 441.7,164.9 442,164.7 442.3,165.2 442.6,164.9 442.9,165.9 443.2,164.6 443.5,164 443.8,164.4 444.1,165.4 444.4,166.1 444.7,165.5 445,165.1 445.3,164.3 445.6,165.5 445.9,165.4 446.2,164.9 446.5,165.2 446.8,164.7 447.1,165.9 447.4,167 447.7,166.8 448,165.8 448.3,165.2 448.6,166.5 448.9,166.8 449.2,167.4 449.5,166.1 449.8,167.4 450.1,166.1 450.4,166.5 450.7,166.1 451,167 451.3,167.1 451.6,165.3 451.9,166.4 452.2,166.3 452.5,166.8 452.8,166.4 453.1,165.4 453.4,165.2 453.7,166.2 454,165.7 454.3,165.7 454.6,165.7 454.9,166.3 455.2,165.5 455.5,166 455.8,165.4 456.1,165.7 456.4,164.9 456.7,165.9 457,164.8 457.3,165 457.6,165.3 457.9,164.7 458.2,166.1 458.5,165.2 458.8,165.2 459.1,165.7 459.4,163.7 459.7,164.7 460,166 460.3,164.2 460.6,166.6 460.9,166.8 461.2,164.3 461.5,164.1 461.8,165.1 462.1,165.5 462.4,164.6 462.7,165.8 463,166.3 463.3,165.9 463.6,165.3 463.9,165.1 464.2,166.4 464.5,165.1 464.8,165.6 465.1,165.4 465.4,165 465.7,164.8 466,165.4 466.3,165.1 466.6,164.9 466.9,165.2 467.2,165.2 467.5,164.9 467.8,164.8 468.1,165.2 468.4,166.2 468.7,165.2 469,165.6 469.3,164.6 469.6,164.7 469.9,165.4 470.2,165.8 470.5,166.4 470.8,165.4 471.1,167.2 471.4,167.1 471.7,166.4 472,167.2 472.3,166 472.6,167.5 472.9,167.4 473.2,167.8 473.5,166.5 473.8,166.3 474.1,167.7 474.4,168 474.7,166.9 475,165.4 475.3,165.9 475.6,166.7 475.9,166 476.2,165.7 476.5,165.9 476.8,166.4 477.1,165.7 477.4,165.3 477.7,165.5 478,166.3 478.3,165.1 478.6,165.3 478.9,165.6 479.2,166.2 479.5,165.7 479.8,165.7 480.1,165.7 480.4,165.1 480.7,165.2 481,165.7 481.3,165.3 481.6,165.7 481.9,164.9 482.2,165.2 482.5,166.6 482.8,165.2 483.1,166.2 483.4,166.3 483.7,166.2 484,165.9 484.3,164.5 484.6,166 484.9,165 485.2,166.8 485.5,166.5 485.8,166.3 486.1,166.6 486.4,165.5 486.7,167.1 487,167.8 487.3,167.1 487.6,167 487.9,167.3 488.2,167.4 488.5,165.5 488.8,168 489.1,167.4 489.4,167.2 489.7,167.2 490,165.7 490.3,167.2 490.6,166.4 490.9,166.8 491.2,166.5 491.5,167.2 491.8,167.1 492.1,165.7 492.4,165.6 492.7,165.2 493,166 493.3,166.6 493.6,165.1 493.9,165.4 494.2,166.1 494.5,166.4 494.8,165.2 495.1,165.2 495.4,166.6 495.7,164.5 496,165.6 496.3,165.9 496.6,165.8 496.9,165.6 497.2,164.9 497.5,165.4 497.8,165.4 498.1,165.2 498.4,164.9 498.7,166.1 499,166.3 499.3,164.4 499.6,165.2 499.9,165.1 500.2,166 500.5,165.2 500.8,165 501.1,165 501.4,165.9 501.7,165.7 502,165.7 502.3,165.6 502.6,165.8 502.9,166 503.2,165.1 503.5,165.8 503.8,166.2 504.1,166.2 504.4,165.6 504.7,166.3 505,167 505.3,168.1 505.6,166.8 505.9,167.2 506.2,167.4 506.5,166.5 506.8,167.2 507.1,167.1 507.4,167 507.7,166.7 508,168.5 508.3,166.7 508.6,167.5 508.9,168.1 509.2,169 509.5,167.3 509.8,167.8 510.1,168.1 510.4,167.2 510.7,168.1 511,168 511.3,167.3 511.6,167 511.9,167.4 512.2,167.5 512.5,167.6 512.8,166.2 513.1,166.7 513.4,168.4 513.7,168.7 514,167.1 514.3,167.5 514.6,167.7 514.9,167.1 515.2,169.2 515.5,166.5 515.8,167 516.1,168.8 516.4,168.8 516.7,167.1 517,166.5 517.3,168.8 517.6,166.6 517.9,167.6 518.2,167.4 518.5,167.8 518.8,167.5 519.1,166.3 519.4,167 519.7,168.1 520,166.3 520.3,167.6 520.6,166.1 520.9,167.2 521.2,164.1 521.5,166.4 521.8,165.7 522.1,165 522.4,165.9 522.7,166.4 523,166.3 523.3,165.7 523.6,164.8 523.9,165.7 524.2,166.9 524.5,165.6 524.8,165.6 525.1,166.8 525.4,165.6 525.7,165.3 526,164.6 526.3,165.6 526.6,166.5 526.9,166 527.2,165.8 527.5,165.2 527.8,166.4 528.1,165.5 528.4,165.1 528.7,165.9 529,166.5 529.3,166.4 529.6,167.4 529.9,165.9 530.2,167 530.5,167.3 530.8,166.4 531.1,164.9 531.4,164.6 531.7,165.5 532,165.4 532.3,165 532.6,164.1 532.9,164.4 533.2,165.5 533.5,165.8 533.8,166.1 534.1,164.3 534.4,165.9 534.7,165.1 535,164.8 535.3,166.3 535.6,166.6 535.9,165.9 536.2,166 536.5,166.4 536.8,164.7 537.1,165.9 537.4,164.9 537.7,165.1 538,165.2 538.3,164.6 538.6,165.6 538.9,164.4 539.2,166.8 539.5,167.2 539.8,166.9 540.1,165.7 540.4,167.4 540.7,166.7 541,166.4 541.3,166.3 541.6,165.5 541.9,164.1 542.2,166.1 542.5,165.2 542.8,164.2 543.1,164.9 543.4,165.6 543.7,165.5 544,165.2 544.3,166.3 544.6,166.1 544.9,166.6 545.2,165.9 545.5,166.2 545.8,168.2 546.1,167 546.4,168.4 546.7,166.8 547,166.5 547.3,168.3 547.6,167.8 547.9,167.4 548.2,168.9 548.5,167.4 548.8,167.9 549.1,167.6 549.4,168.5 549.7,167.4 550,167.7 550.3,168.6 550.6,168 550.9,166.3 551.2,168.7 551.5,167.8 551.8,169.4 552.1,167.1 552.4,169.2 552.7,168.1 553,167.2 553.3,166.3 553.6,166.9 553.9,166.1 554.2,166.9 554.5,164.9 554.8,165.7 555.1,165.1 555.4,164.8 555.7,165.3 556,164.9 556.3,165 556.6,166.9 556.9,167.6 557.2,165.8 557.5,167.3 557.8,166.9 558.1,168.5 558.4,167.8 558.7,167.3 559,166.5 559.3,167.3 559.6,167.2 559.9,168 560.2,167.2 560.5,166.2 560.8,167.4 561.1,167.9 561.4,168.1 561.7,169 562,167.3 562.3,167.8 562.6,167.2 562.9,167.2 563.2,168.5 563.5,166.7 563.8,166.9 564.1,166.1 564.4,166 564.7,167.1 565,165.7 565.3,165.4 565.6,165.7 565.9,164.7 566.2,166 566.5,164.9 566.8,165.9 567.1,166.7 567.4,167 567.7,166.4 568,167.7 568.3,168.5 568.6,167.5 568.9,167.3 569.2,167.2 569.5,167.7 569.8,166.2 570.1,167.1 570.4,166.4 570.7,165.5 571,167.1 571.3,167.4 571.6,167.6 571.9,165.3 572.2,166.3 572.5,167.3 572.8,165.4 573.1,167 573.4,166.9 573.7,165.6 574,165.4 574.3,165.5 574.6,164.8 574.9,163.6 575.2,165.2 575.5,164.5 575.8,164.4 576.1,165.7 576.4,164.8 576.7,165.7 577,164.5 577.3,165.3 577.6,165 577.9,164.4 578.2,165.2 578.5,166.6 578.8,166.1 579.1,166.6 579.4,167.5 579.7,165.5 580,166.4 580.3,166.4 580.6,168.2 580.9,165.9 581.2,166.9 581.5,167 581.8,166.9 582.1,166.6 582.4,166.1 582.7,165.8 583,166.6 583.3,166.1 583.6,166.8 583.9,166.6 584.2,166.3 584.5,165.6 584.8,164.9 585.1,164.3 585.4,165.2 585.7,164.7 586,164.7 586.3,165.3 586.6,165.8 586.9,163.7 587.2,163.9 587.5,166.7 587.8,166.7 588.1,166.2 588.4,167.7 588.7,167 589,167.4 589.3,165.9 589.6,167 589.9,167.8 590.2,167.2 590.5,167.6 590.8,166.6 591.1,166.8 591.4,167.8 591.7,165.8 592,166.3 592.3,167.3 592.6,167.2 592.9,166.5 593.2,166.1 593.5,167.2 593.8,167 594.1,166.4 594.4,166.8 594.7,166.5 595,167.8 595.3,166.3 595.6,168.2 595.9,165.8 596.2,165.4 596.5,165.5 596.8,166.6 597.1,165.8 597.4,167.1 597.7,165.6 598,166.7 598.3,166.2 598.6,164.4 598.9,165.6 599.2,164.9 599.5,166.3 599.8,164.5 600.1,163.5 600.4,164.6 600.7,163.1 601,164.1 601.3,163.4 601.6,163.4 601.9,165.3 602.2,165.1 602.5,163.7 602.8,163.9 603.1,165.3 603.4,164.8 603.7,164.9 604,165.5 604.3,163.9 604.6,165.7 604.9,165.4 605.2,164.6 605.5,164.1 605.8,164.9 606.1,164.2 606.4,164.7 606.7,164.4 607,162.9 607.3,164.3 607.6,163.9 607.9,164.4 608.2,165.3 608.5,164.6 608.8,164.7 609.1,164 609.4,164.5 609.7,164.3 610,164.8 610.3,162.8 610.6,164.8 610.9,165.2 611.2,165.2 611.5,164.5 611.8,164.8 612.1,167.2 612.4,166.7 612.7,166.3 613,165 613.3,165.6 613.6,166.1 613.9,166.2 614.2,167.4 614.5,165.8 614.8,167.7 615.1,166.4 615.4,166.3 615.7,166.8 616,167.5 616.3,166.2 616.6,167.1 616.9,166.2 617.2,166.1 617.5,166.2 617.8,168 618.1,165.1 618.4,167.8 618.7,167.7 619,166.7 619.3,166.1 619.6,166 619.9,166.1 620.2,165.2 620.5,165.9 620.8,166.8 621.1,166.1 621.4,166.7 621.7,165.5 622,165.8 622.3,166.6 622.6,166.4 622.9,166.1 623.2,164.2 623.5,166 623.8,166.1 624.1,165.6 624.4,163.5 624.7,164.2 625,164 625.3,164.6 625.6,163.5 625.9,163.8 626.2,165 626.5,164.1 626.8,164.9 627.1,163.8 627.4,164 627.7,164.6 628,164.7 628.3,164.6 628.6,165.6 628.9,165.9 629.2,166.4 629.5,165.1 629.8,166.1 630.1,165.6 630.4,165.7 630.7,166 631,167.6 631.3,165.6 631.6,166.3 631.9,166.7 632.2,166.9 632.5,166.6 632.8,165.8 633.1,165.4 633.4,166.9 633.7,165.5 634,165.4 634.3,166.8 634.6,167 634.9,165.2 635.2,165.8 635.5,164.3 635.8,165.7 636.1,165.7 636.4,166.2 636.7,164.9 637,165.2 637.3,164.7 637.6,163.6 637.9,164.4 638.2,163.4 638.5,162.9 638.8,163.4 639.1,163.5 639.4,164.1 639.7,163.4 640,163.4 640.3,162.7 640.6,164.2 640.9,164.6 641.2,164 641.5,163.1 641.8,164 642.1,164.5 642.4,166.5 642.7,166.1 643,165.4 643.3,163.8 643.6,163.8 643.9,166.1 644.2,165.5 644.5,166.3 644.8,165.6 645.1,165.3 645.4,165.6 645.7,165.7 646,167.5 646.3,166.6 646.6,165.6 646.9,167 647.2,166 647.5,165.9 647.8,166.2 648.1,166.4" fill="none" stroke="#111" stroke-width="5.3" stroke-linejoin="round"/>
<path d="M368 160.4l4 4m0 -4l-4 4M368.2 158l4 4m0 -4l-4 4M368.3 153l4 4m0 -4l-4 4M368.5 145.6l4 4m0 -4l-4 4M368.6 136.1l4 4m0 -4l-4 4M368.8 124.6l4 4m0 -4l-4 4M369.3 130.6l4 4m0 -4l-4 4M369.4 141.2l4 4m0 -4l-4 4M369.6 150l4 4m0 -4l-4 4M369.8 155.7l4 4m0 -4l-4 4M369.9 159.3l4 4m0 -4l-4 4M394.2 161.8l4 4m0 -4l-4 4M394.4 162.7l4 4m0 -4l-4 4M394.6 160.9l4 4m0 -4l-4 4M394.7 160.2l4 4m0 -4l-4 4M394.9 157.7l4 4m0 -4l-4 4M395 155.3l4 4m0 -4l-4 4M395.2 148.7l4 4m0 -4l-4 4M395.4 138.5l4 4m0 -4l-4 4M395.5 121.3l4 4m0 -4l-4 4M395.7 98.5l4 4m0 -4l-4 4M395.8 70.2l4 4m0 -4l-4 4M396 40.1l4 4m0 -4l-4 4M396.3 29.8l4 4m0 -4l-4 4M396.5 55.7l4 4m0 -4l-4 4M396.6 85.5l4 4m0 -4l-4 4M396.8 112l4 4m0 -4l-4 4M397 130.9l4 4m0 -4l-4 4M397.1 143.4l4 4m0 -4l-4 4M397.3 152l4 4m0 -4l-4 4M397.4 156.2l4 4m0 -4l-4 4M397.6 159.2l4 4m0 -4l-4 4M397.8 160.9l4 4m0 -4l-4 4M397.9 161.7l4 4m0 -4l-4 4M398.1 162.4l4 4m0 -4l-4 4M403.4 160.6l4 4m0 -4l-4 4M403.5 158.4l4 4m0 -4l-4 4M403.7 155.8l4 4m0 -4l-4 4M403.8 150.4l4 4m0 -4l-4 4M404 145.7l4 4m0 -4l-4 4M404.2 143.9l4 4m0 -4l-4 4M404.3 145.5l4 4m0 -4l-4 4M404.5 149.1l4 4m0 -4l-4 4M404.6 153.3l4 4m0 -4l-4 4M404.8 157.2l4 4m0 -4l-4 4M405 160.1l4 4m0 -4l-4 4M405.1 162.5l4 4m0 -4l-4 4M435.5 161.5l4 4m0 -4l-4 4M435.7 159.5l4 4m0 -4l-4 4M435.8 156.1l4 4m0 -4l-4 4M436 152.6l4 4m0 -4l-4 4M436.2 147.2l4 4m0 -4l-4 4M436.3 140.4l4 4m0 -4l-4 4M436.5 133.7l4 4m0 -4l-4 4M437.1 133.5l4 4m0 -4l-4 4M437.3 140.5l4 4m0 -4l-4 4M437.4 147.5l4 4m0 -4l-4 4M437.6 152.7l4 4m0 -4l-4 4M437.8 157.2l4 4m0 -4l-4 4M437.9 159.3l4 4m0 -4l-4 4M438.1 160.7l4 4m0 -4l-4 4M438.2 161.6l4 4m0 -4l-4 4M438.4 161.8l4 4m0 -4l-4 4M439.2 161.6l4 4m0 -4l-4 4M439.4 162l4 4m0 -4l-4 4M439.5 161.5l4 4m0 -4l-4 4M439.7 161.4l4 4m0 -4l-4 4M439.8 161.1l4 4m0 -4l-4 4M440 159.9l4 4m0 -4l-4 4M440.2 158.9l4 4m0 -4l-4 4M440.3 157.6l4 4m0 -4l-4 4M440.5 153.4l4 4m0 -4l-4 4M440.6 148.1l4 4m0 -4l-4 4M440.8 140.8l4 4m0 -4l-4 4M441 129.1l4 4m0 -4l-4 4M441.1 113.5l4 4m0 -4l-4 4M441.3 92.9l4 4m0 -4l-4 4M441.4 70.5l4 4m0 -4l-4 4M441.6 51.1l4 4m0 -4l-4 4M441.8 39.6l4 4m0 -4l-4 4M441.9 43.5l4 4m0 -4l-4 4M442.1 60l4 4m0 -4l-4 4M442.2 83.8l4 4m0 -4l-4 4M442.4 104.8l4 4m0 -4l-4 4M442.6 122.3l4 4m0 -4l-4 4M442.7 134.7l4 4m0 -4l-4 4M442.9 145.1l4 4m0 -4l-4 4M443 151.1l4 4m0 -4l-4 4M443.2 155.6l4 4m0 -4l-4 4M443.4 158.7l4 4m0 -4l-4 4M443.5 159.6l4 4m0 -4l-4 4M443.7 160.3l4 4m0 -4l-4 4M443.8 161l4 4m0 -4l-4 4M444 162.2l4 4m0 -4l-4 4M451.8 161.6l4 4m0 -4l-4 4M452 161.2l4 4m0 -4l-4 4M452.2 160.2l4 4m0 -4l-4 4M452.3 158.9l4 4m0 -4l-4 4M452.5 157.1l4 4m0 -4l-4 4M452.6 153.9l4 4m0 -4l-4 4M452.8 150.4l4 4m0 -4l-4 4M453 143l4 4m0 -4l-4 4M453.1 132.6l4 4m0 -4l-4 4M453.3 120.3l4 4m0 -4l-4 4M453.4 102.9l4 4m0 -4l-4 4M453.6 84.4l4 4m0 -4l-4 4M453.8 65.8l4 4m0 -4l-4 4M454.2 66l4 4m0 -4l-4 4M454.4 85.1l4 4m0 -4l-4 4M454.6 103l4 4m0 -4l-4 4M454.7 119.8l4 4m0 -4l-4 4M454.9 132.8l4 4m0 -4l-4 4M455 143l4 4m0 -4l-4 4M455.2 149.8l4 4m0 -4l-4 4M455.4 154l4 4m0 -4l-4 4M455.5 157.3l4 4m0 -4l-4 4M455.7 158.8l4 4m0 -4l-4 4M455.8 160.5l4 4m0 -4l-4 4M456 161.1l4 4m0 -4l-4 4M456.2 161.5l4 4m0 -4l-4 4M456.3 162l4 4m0 -4l-4 4M456.5 162.4l4 4m0 -4l-4 4M456.6 162.8l4 4m0 -4l-4 4M457 162.8l4 4m0 -4l-4 4M457.1 162.6l4 4m0 -4l-4 4M457.3 162l4 4m0 -4l-4 4M457.4 160.9l4 4m0 -4l-4 4M457.6 159.9l4 4m0 -4l-4 4M457.8 157.8l4 4m0 -4l-4 4M457.9 155.4l4 4m0 -4l-4 4M458.1 152.8l4 4m0 -4l-4 4M458.2 149.8l4 4m0 -4l-4 4M458.4 146.4l4 4m0 -4l-4 4M458.6 145.5l4 4m0 -4l-4 4M458.7 145.9l4 4m0 -4l-4 4M458.9 148.2l4 4m0 -4l-4 4M459 151.4l4 4m0 -4l-4 4M459.2 154.6l4 4m0 -4l-4 4M459.4 157.8l4 4m0 -4l-4 4M459.5 158.8l4 4m0 -4l-4 4M459.7 161.2l4 4m0 -4l-4 4M459.8 161.4l4 4m0 -4l-4 4M462.4 162.3l4 4m0 -4l-4 4M462.6 161.4l4 4m0 -4l-4 4M462.7 160.4l4 4m0 -4l-4 4M462.9 160.7l4 4m0 -4l-4 4M463 158.4l4 4m0 -4l-4 4M463.2 156.9l4 4m0 -4l-4 4M463.4 154l4 4m0 -4l-4 4M463.5 149.9l4 4m0 -4l-4 4M463.7 142.9l4 4m0 -4l-4 4M463.8 134.3l4 4m0 -4l-4 4M464 122l4 4m0 -4l-4 4M464.2 106l4 4m0 -4l-4 4M464.3 87.2l4 4m0 -4l-4 4M464.5 66.9l4 4m0 -4l-4 4M465.1 67.5l4 4m0 -4l-4 4M465.3 86.4l4 4m0 -4l-4 4M465.4 105.8l4 4m0 -4l-4 4M465.6 122.1l4 4m0 -4l-4 4M465.8 134.5l4 4m0 -4l-4 4M465.9 144.7l4 4m0 -4l-4 4M466.1 148.9l4 4m0 -4l-4 4M466.2 153.9l4 4m0 -4l-4 4M466.4 156.8l4 4m0 -4l-4 4M466.6 159.6l4 4m0 -4l-4 4M466.7 161l4 4m0 -4l-4 4M466.9 160.8l4 4m0 -4l-4 4M467 161.8l4 4m0 -4l-4 4M467.2 162.5l4 4m0 -4l-4 4M475 162.5l4 4m0 -4l-4 4M475.2 161.5l4 4m0 -4l-4 4M475.4 159.6l4 4m0 -4l-4 4M475.5 157.4l4 4m0 -4l-4 4M475.7 154.2l4 4m0 -4l-4 4M475.8 150.2l4 4m0 -4l-4 4M476 145.8l4 4m0 -4l-4 4M476.2 139.4l4 4m0 -4l-4 4M476.3 132.7l4 4m0 -4l-4 4M477.1 135l4 4m0 -4l-4 4M477.3 141l4 4m0 -4l-4 4M477.4 145.4l4 4m0 -4l-4 4M477.6 151.3l4 4m0 -4l-4 4M477.8 154.9l4 4m0 -4l-4 4M477.9 157.9l4 4m0 -4l-4 4M478.1 158.9l4 4m0 -4l-4 4M478.2 159l4 4m0 -4l-4 4M478.4 159.7l4 4m0 -4l-4 4M478.6 159.8l4 4m0 -4l-4 4M478.7 160.1l4 4m0 -4l-4 4M478.9 158.5l4 4m0 -4l-4 4M479 156.6l4 4m0 -4l-4 4M479.2 154.6l4 4m0 -4l-4 4M479.4 150.8l4 4m0 -4l-4 4M479.5 144.5l4 4m0 -4l-4 4M479.7 138.3l4 4m0 -4l-4 4M479.8 130.6l4 4m0 -4l-4 4M480 121.5l4 4m0 -4l-4 4M480.2 113.5l4 4m0 -4l-4 4M480.3 108.2l4 4m0 -4l-4 4M480.5 108.1l4 4m0 -4l-4 4M480.6 113.1l4 4m0 -4l-4 4M480.8 122.6l4 4m0 -4l-4 4M481 131l4 4m0 -4l-4 4M481.1 139l4 4m0 -4l-4 4M481.3 145.7l4 4m0 -4l-4 4M481.4 151.6l4 4m0 -4l-4 4M481.6 155.2l4 4m0 -4l-4 4M481.8 158.2l4 4m0 -4l-4 4M481.9 160.6l4 4m0 -4l-4 4M482.1 161.6l4 4m0 -4l-4 4M482.2 161.8l4 4m0 -4l-4 4M491.5 161.9l4 4m0 -4l-4 4M491.7 160.7l4 4m0 -4l-4 4M491.8 159.1l4 4m0 -4l-4 4M492 157.1l4 4m0 -4l-4 4M492.2 154.5l4 4m0 -4l-4 4M492.3 151.4l4 4m0 -4l-4 4M492.5 147.6l4 4m0 -4l-4 4M492.6 142l4 4m0 -4l-4 4M492.8 137.3l4 4m0 -4l-4 4M493 131.3l4 4m0 -4l-4 4M493.1 128.3l4 4m0 -4l-4 4M493.3 128.6l4 4m0 -4l-4 4M493.4 130.4l4 4m0 -4l-4 4M493.6 134.3l4 4m0 -4l-4 4M493.8 138.2l4 4m0 -4l-4 4M493.9 140.8l4 4m0 -4l-4 4M494.1 143.3l4 4m0 -4l-4 4M494.2 141.7l4 4m0 -4l-4 4M494.4 138.8l4 4m0 -4l-4 4M494.6 132.5l4 4m0 -4l-4 4M494.7 123.7l4 4m0 -4l-4 4M494.9 112.1l4 4m0 -4l-4 4M495 96.3l4 4m0 -4l-4 4M495.2 81.2l4 4m0 -4l-4 4M495.4 66.7l4 4m0 -4l-4 4M495.5 58.4l4 4m0 -4l-4 4M495.7 58.9l4 4m0 -4l-4 4M495.8 68.5l4 4m0 -4l-4 4M496 82.8l4 4m0 -4l-4 4M496.2 99.1l4 4m0 -4l-4 4M496.3 113.9l4 4m0 -4l-4 4M496.5 126.3l4 4m0 -4l-4 4M496.6 136l4 4m0 -4l-4 4M496.8 144.1l4 4m0 -4l-4 4M497 149.9l4 4m0 -4l-4 4M497.1 154.3l4 4m0 -4l-4 4M497.3 156.6l4 4m0 -4l-4 4M497.4 158.6l4 4m0 -4l-4 4M497.6 158.9l4 4m0 -4l-4 4M497.8 159.2l4 4m0 -4l-4 4M497.9 161l4 4m0 -4l-4 4M498.1 161.4l4 4m0 -4l-4 4M498.2 161.2l4 4m0 -4l-4 4M498.4 161.5l4 4m0 -4l-4 4M498.6 162l4 4m0 -4l-4 4M498.7 161.9l4 4m0 -4l-4 4M498.9 161.9l4 4m0 -4l-4 4M499 161.1l4 4m0 -4l-4 4M499.2 159.7l4 4m0 -4l-4 4M499.4 158.6l4 4m0 -4l-4 4M499.5 157.2l4 4m0 -4l-4 4M499.7 154.3l4 4m0 -4l-4 4M499.8 149.8l4 4m0 -4l-4 4M500 146.2l4 4m0 -4l-4 4M500.2 142.2l4 4m0 -4l-4 4M501.1 144.2l4 4m0 -4l-4 4M501.3 148.4l4 4m0 -4l-4 4M501.4 152.5l4 4m0 -4l-4 4M501.6 156.2l4 4m0 -4l-4 4M501.8 158.3l4 4m0 -4l-4 4M501.9 160.3l4 4m0 -4l-4 4M502.1 162.5l4 4m0 -4l-4 4M519.2 161.9l4 4m0 -4l-4 4M519.4 161.4l4 4m0 -4l-4 4M519.5 159.2l4 4m0 -4l-4 4M519.7 157.7l4 4m0 -4l-4 4M519.8 155.3l4 4m0 -4l-4 4M520 152.7l4 4m0 -4l-4 4M520.2 148.9l4 4m0 -4l-4 4M520.3 146.3l4 4m0 -4l-4 4M520.5 144.6l4 4m0 -4l-4 4M520.6 144l4 4m0 -4l-4 4M520.8 144.2l4 4m0 -4l-4 4M521 148l4 4m0 -4l-4 4M521.1 150.2l4 4m0 -4l-4 4M521.3 153.6l4 4m0 -4l-4 4M521.4 155.7l4 4m0 -4l-4 4M521.6 158.5l4 4m0 -4l-4 4M521.8 160.1l4 4m0 -4l-4 4M521.9 162.5l4 4m0 -4l-4 4M523.8 162.5l4 4m0 -4l-4 4M524 161.1l4 4m0 -4l-4 4M524.2 160.4l4 4m0 -4l-4 4M524.3 157.9l4 4m0 -4l-4 4M524.5 157.2l4 4m0 -4l-4 4M524.6 155.4l4 4m0 -4l-4 4M524.8 152.9l4 4m0 -4l-4 4M525 151.7l4 4m0 -4l-4 4M525.1 150.7l4 4m0 -4l-4 4M525.3 152.3l4 4m0 -4l-4 4M525.4 154l4 4m0 -4l-4 4M525.6 154.9l4 4m0 -4l-4 4M525.8 157.6l4 4m0 -4l-4 4M525.9 158.6l4 4m0 -4l-4 4M526.1 161.1l4 4m0 -4l-4 4M526.2 160.8l4 4m0 -4l-4 4M529.4 161.6l4 4m0 -4l-4 4M529.6 160.9l4 4m0 -4l-4 4M529.8 158.3l4 4m0 -4l-4 4M529.9 156.2l4 4m0 -4l-4 4M530.1 153.8l4 4m0 -4l-4 4M530.2 150.4l4 4m0 -4l-4 4M530.4 146.3l4 4m0 -4l-4 4M531.5 144.9l4 4m0 -4l-4 4M531.7 148.9l4 4m0 -4l-4 4M531.8 151.7l4 4m0 -4l-4 4M532 154.8l4 4m0 -4l-4 4M532.2 158.5l4 4m0 -4l-4 4M532.3 158.8l4 4m0 -4l-4 4M532.5 160.8l4 4m0 -4l-4 4M532.6 162.4l4 4m0 -4l-4 4M534.4 162.1l4 4m0 -4l-4 4M534.6 161.1l4 4m0 -4l-4 4M534.7 160.8l4 4m0 -4l-4 4M534.9 158.4l4 4m0 -4l-4 4M535 157.8l4 4m0 -4l-4 4M535.2 155.2l4 4m0 -4l-4 4M535.4 153.8l4 4m0 -4l-4 4M535.5 153.6l4 4m0 -4l-4 4M535.7 153.8l4 4m0 -4l-4 4M535.8 155.5l4 4m0 -4l-4 4M536 156.1l4 4m0 -4l-4 4M536.2 157.6l4 4m0 -4l-4 4M536.3 159.3l4 4m0 -4l-4 4M536.5 160.4l4 4m0 -4l-4 4M536.6 161.2l4 4m0 -4l-4 4M539.5 162.1l4 4m0 -4l-4 4M539.7 161.6l4 4m0 -4l-4 4M539.8 159.9l4 4m0 -4l-4 4M540 158.1l4 4m0 -4l-4 4M540.2 156.9l4 4m0 -4l-4 4M540.3 155l4 4m0 -4l-4 4M540.5 154.9l4 4m0 -4l-4 4M540.6 153l4 4m0 -4l-4 4M540.8 154l4 4m0 -4l-4 4M541 154.6l4 4m0 -4l-4 4M541.1 156.6l4 4m0 -4l-4 4M541.3 158.4l4 4m0 -4l-4 4M541.4 159l4 4m0 -4l-4 4M541.6 160.8l4 4m0 -4l-4 4M541.8 161.8l4 4m0 -4l-4 4M553.1 161.2l4 4m0 -4l-4 4M553.3 161.9l4 4m0 -4l-4 4M553.4 161.2l4 4m0 -4l-4 4M553.6 161l4 4m0 -4l-4 4M553.8 161.2l4 4m0 -4l-4 4M553.9 161.5l4 4m0 -4l-4 4M554.1 161.6l4 4m0 -4l-4 4M563.5 161.8l4 4m0 -4l-4 4M563.7 160.9l4 4m0 -4l-4 4M563.8 162.2l4 4m0 -4l-4 4M564 161l4 4m0 -4l-4 4M564.2 162.3l4 4m0 -4l-4 4M572.3 161.1l4 4m0 -4l-4 4M572.5 160.2l4 4m0 -4l-4 4M572.6 158.8l4 4m0 -4l-4 4M572.8 156.3l4 4m0 -4l-4 4M573 154.4l4 4m0 -4l-4 4M573.1 150.6l4 4m0 -4l-4 4M573.3 148.9l4 4m0 -4l-4 4M573.4 146.4l4 4m0 -4l-4 4M573.6 143.1l4 4m0 -4l-4 4M573.8 141.1l4 4m0 -4l-4 4M573.9 140.5l4 4m0 -4l-4 4M574.1 140.7l4 4m0 -4l-4 4M574.2 143.3l4 4m0 -4l-4 4M574.4 146.8l4 4m0 -4l-4 4M574.6 150.4l4 4m0 -4l-4 4M574.7 152.8l4 4m0 -4l-4 4M574.9 155l4 4m0 -4l-4 4M575 157.2l4 4m0 -4l-4 4M575.2 159.2l4 4m0 -4l-4 4M575.4 161.2l4 4m0 -4l-4 4M575.5 161.5l4 4m0 -4l-4 4M582.7 161.5l4 4m0 -4l-4 4M582.9 160.8l4 4m0 -4l-4 4M583 159.8l4 4m0 -4l-4 4M583.2 158.5l4 4m0 -4l-4 4M583.4 156.7l4 4m0 -4l-4 4M583.5 155.6l4 4m0 -4l-4 4M583.7 155.6l4 4m0 -4l-4 4M583.8 155.9l4 4m0 -4l-4 4M584 156.7l4 4m0 -4l-4 4M584.2 157l4 4m0 -4l-4 4M584.3 157.4l4 4m0 -4l-4 4M584.5 158.8l4 4m0 -4l-4 4M584.6 159.5l4 4m0 -4l-4 4M584.8 161l4 4m0 -4l-4 4M596.8 161.2l4 4m0 -4l-4 4M597 159.6l4 4m0 -4l-4 4M597.1 159l4 4m0 -4l-4 4M597.3 156.3l4 4m0 -4l-4 4M597.4 154.4l4 4m0 -4l-4 4M597.6 152.2l4 4m0 -4l-4 4M597.8 149.7l4 4m0 -4l-4 4M597.9 147.1l4 4m0 -4l-4 4M598.1 144.9l4 4m0 -4l-4 4M598.2 143.5l4 4m0 -4l-4 4M598.4 142.3l4 4m0 -4l-4 4M598.6 143.1l4 4m0 -4l-4 4M598.7 144.9l4 4m0 -4l-4 4M598.9 146.8l4 4m0 -4l-4 4M599 149l4 4m0 -4l-4 4M599.2 152l4 4m0 -4l-4 4M599.4 154.2l4 4m0 -4l-4 4M599.5 155.8l4 4m0 -4l-4 4M599.7 157.3l4 4m0 -4l-4 4M599.8 158.2l4 4m0 -4l-4 4M600 159.7l4 4m0 -4l-4 4M600.2 161.1l4 4m0 -4l-4 4M601.9 160.1l4 4m0 -4l-4 4M602.1 160.1l4 4m0 -4l-4 4M602.2 159.2l4 4m0 -4l-4 4M602.4 157.6l4 4m0 -4l-4 4M602.6 155.7l4 4m0 -4l-4 4M602.7 154.2l4 4m0 -4l-4 4M602.9 151.3l4 4m0 -4l-4 4M603 147.5l4 4m0 -4l-4 4M603.2 144.8l4 4m0 -4l-4 4M603.4 141.3l4 4m0 -4l-4 4M603.5 136.4l4 4m0 -4l-4 4M603.7 132.9l4 4m0 -4l-4 4M603.8 130.6l4 4m0 -4l-4 4M604 130l4 4m0 -4l-4 4M604.2 130.8l4 4m0 -4l-4 4M604.3 133.1l4 4m0 -4l-4 4M604.5 136.2l4 4m0 -4l-4 4M604.6 140.7l4 4m0 -4l-4 4M604.8 144.1l4 4m0 -4l-4 4M605 147.5l4 4m0 -4l-4 4M605.1 150.4l4 4m0 -4l-4 4M605.3 152.9l4 4m0 -4l-4 4M605.4 154l4 4m0 -4l-4 4M605.6 155.8l4 4m0 -4l-4 4M605.8 156.8l4 4m0 -4l-4 4M605.9 157.2l4 4m0 -4l-4 4M606.1 157.1l4 4m0 -4l-4 4M606.2 156.7l4 4m0 -4l-4 4M606.4 155.4l4 4m0 -4l-4 4M606.6 154.7l4 4m0 -4l-4 4M606.7 153.3l4 4m0 -4l-4 4M606.9 151.9l4 4m0 -4l-4 4M607 150.6l4 4m0 -4l-4 4M607.2 149.8l4 4m0 -4l-4 4M607.4 150l4 4m0 -4l-4 4M607.5 151l4 4m0 -4l-4 4M607.7 151.7l4 4m0 -4l-4 4M607.8 153.2l4 4m0 -4l-4 4M608 155.3l4 4m0 -4l-4 4M608.2 156.7l4 4m0 -4l-4 4M608.3 158.4l4 4m0 -4l-4 4M608.5 159.8l4 4m0 -4l-4 4M608.6 160.5l4 4m0 -4l-4 4M608.8 160.6l4 4m0 -4l-4 4M622.7 161.3l4 4m0 -4l-4 4M622.9 160.1l4 4m0 -4l-4 4M623 159.1l4 4m0 -4l-4 4M623.2 157.6l4 4m0 -4l-4 4M623.4 155.9l4 4m0 -4l-4 4M623.5 154.3l4 4m0 -4l-4 4M623.7 151.9l4 4m0 -4l-4 4M623.8 150.2l4 4m0 -4l-4 4M624 149.1l4 4m0 -4l-4 4M624.2 148.6l4 4m0 -4l-4 4M624.3 147.8l4 4m0 -4l-4 4M624.5 148.8l4 4m0 -4l-4 4M624.6 149.4l4 4m0 -4l-4 4M624.8 151.1l4 4m0 -4l-4 4M625 153.2l4 4m0 -4l-4 4M625.1 155l4 4m0 -4l-4 4M625.3 156.3l4 4m0 -4l-4 4M625.4 157.7l4 4m0 -4l-4 4M625.6 159.4l4 4m0 -4l-4 4M625.8 160.3l4 4m0 -4l-4 4M625.9 160.9l4 4m0 -4l-4 4M636 160l4 4m0 -4l-4 4M636.2 158.6l4 4m0 -4l-4 4M636.3 157.7l4 4m0 -4l-4 4M636.5 156.4l4 4m0 -4l-4 4M636.6 153.3l4 4m0 -4l-4 4M636.8 152.1l4 4m0 -4l-4 4M638.4 149.7l4 4m0 -4l-4 4M638.6 151.5l4 4m0 -4l-4 4M638.7 154.3l4 4m0 -4l-4 4M638.9 155.5l4 4m0 -4l-4 4M639 157l4 4m0 -4l-4 4M639.2 159.1l4 4m0 -4l-4 4M639.4 159.9l4 4m0 -4l-4 4M639.5 161l4 4m0 -4l-4 4M369.1 117.1l3.8 3.8m0 -3.8l-3.8 3.8M396.3 21.5l3.8 3.8m0 -3.8l-3.8 3.8M436.9 124.7l3.8 3.8m0 -3.8l-3.8 3.8M454.1 51.9l3.8 3.8m0 -3.8l-3.8 3.8M464.9 44.4l3.8 3.8m0 -3.8l-3.8 3.8M476.8 123.1l3.8 3.8m0 -3.8l-3.8 3.8M500.7 133.7l3.8 3.8m0 -3.8l-3.8 3.8M531.1 135.9l3.8 3.8m0 -3.8l-3.8 3.8M637.8 142.6l3.8 3.8m0 -3.8l-3.8 3.8" stroke="#1a1010" stroke-width="1.5" fill="none"/>
<polyline points="356.2,165.5 356.2,165.5 356.3,165.5 356.4,165.5 356.4,165.5 356.5,165.5 356.5,165.5 356.6,165.5 356.6,165.5 356.7,165.5 356.7,165.5 356.8,165.5 356.8,165.6 356.9,165.6 356.9,165.6 357,165.6 357,165.6 357.1,165.6 357.1,165.6 357.2,165.6 357.2,165.6 357.3,165.6 357.3,165.6 357.4,165.6 357.4,165.6 357.5,165.6 357.5,165.6 357.6,165.6 357.6,165.6 357.7,165.6 357.7,165.6 357.8,165.6 357.8,165.6 357.9,165.6 357.9,165.6 358,165.6 358,165.6 358.1,165.6 358.1,165.6 358.2,165.6 358.2,165.6 358.3,165.6 358.3,165.6 358.4,165.6 358.4,165.6 358.5,165.7 358.5,165.7 358.6,165.7 358.6,165.7 358.7,165.7 358.7,165.7 358.8,165.7 358.8,165.7 358.9,165.7 358.9,165.7 359,165.7 359,165.7 359.1,165.7 359.1,165.7 359.2,165.7 359.2,165.7 359.3,165.7 359.3,165.7 359.4,165.7 359.4,165.7 359.5,165.7 359.5,165.7 359.6,165.7 359.6,165.7 359.7,165.7 359.7,165.7 359.8,165.7 359.8,165.7 359.9,165.7 359.9,165.7 360,165.7 360,165.7 360.1,165.7 360.1,165.8 360.2,165.8 360.2,165.8 360.3,165.8 360.3,165.8 360.4,165.8 360.4,165.8 360.5,165.8 360.5,165.8 360.6,165.8 360.6,165.8 360.7,165.8 360.7,165.8 360.8,165.8 360.8,165.8 360.9,165.8 360.9,165.8 361,165.8 361,165.8 361.1,165.8 361.1,165.8 361.2,165.8 361.2,165.8 361.3,165.8 361.3,165.8 361.4,165.8 361.4,165.8 361.5,165.8 361.5,165.8 361.6,165.8 361.6,165.8 361.7,165.8 361.7,165.8 361.8,165.8 361.8,165.9 361.9,165.9 361.9,165.9 362,165.9 362,165.9 362.1,165.9 362.1,165.9 362.2,165.9 362.2,165.9 362.3,165.9 362.3,165.9 362.4,165.9 362.4,165.9 362.5,165.9 362.5,165.9 362.6,165.9 362.6,165.9 362.7,165.9 362.7,165.9 362.8,165.9 362.8,165.9 362.9,165.9 362.9,165.9 363,165.9 363,165.9 363.1,165.9 363.1,165.9 363.2,165.9 363.2,165.9 363.3,165.9 363.3,165.9 363.4,165.9 363.4,165.9 363.5,165.9 363.5,165.9 363.6,165.9 363.6,165.9 363.7,165.9 363.7,165.9 363.8,166 363.8,166 363.9,166 363.9,166 364,166 364,166 364.1,166 364.1,166 364.2,166 364.2,166 364.3,166 364.3,166 364.4,166 364.4,166 364.5,166 364.5,166 364.6,166 364.6,166 364.7,166 364.7,166 364.8,166 364.8,166 364.9,166 364.9,166 365,166 365,166 365.1,166 365.1,166 365.2,166 365.2,166 365.3,166 365.3,166 365.4,166 365.4,166 365.5,166 365.5,166 365.6,166 365.6,166 365.7,166 365.7,166 365.8,166 365.8,166 365.9,166 365.9,166 366,166 366,166 366.1,166 366.1,166 366.2,166 366.2,166 366.3,166 366.3,166 366.4,166 366.4,166 366.5,166 366.5,166 366.6,166 366.6,166 366.7,166 366.7,166 366.8,166 366.8,166 366.9,166 366.9,166 367,166 367,166 367.1,166 367.1,166 367.2,166 367.2,166 367.3,166 367.3,166 367.4,166 367.4,166 367.5,166 367.5,166 367.6,166 367.6,166 367.7,166 367.7,166 367.8,166 367.8,166 367.9,165.9 367.9,165.9 368,165.9 368,165.9 368.1,165.9 368.1,165.9 368.2,165.9 368.2,165.9 368.3,165.9 368.3,165.9 368.4,165.8 368.4,165.8 368.5,165.8 368.5,165.8 368.6,165.8 368.6,165.8 368.7,165.7 368.7,165.7 368.8,165.7 368.8,165.7 368.9,165.6 368.9,165.6 369,165.6 369,165.5 369.1,165.5 369.1,165.5 369.2,165.4 369.2,165.4 369.3,165.3 369.3,165.3 369.4,165.2 369.4,165.1 369.5,165.1 369.5,165 369.6,164.9 369.6,164.8 369.7,164.6 369.7,164.5 369.8,164.3 369.8,164.1 369.9,163.8 369.9,163.5 370,163.1 370,162.6 370.1,162 370.1,161.3 370.2,160.4 370.2,159.3 370.3,158 370.3,156.6 370.4,154.9 370.4,152.9 370.5,150.7 370.5,148.2 370.6,145.5 370.6,142.5 370.7,139.4 370.7,136.2 370.8,132.9 370.8,129.8 370.9,126.9 370.9,124.6 371,123.1 371,122.6 371.1,123.1 371.1,124.6 371.2,126.9 371.2,129.8 371.3,132.9 371.3,136.2 371.4,139.4 371.4,142.6 371.5,145.5 371.5,148.2 371.6,150.7 371.6,153 371.7,154.9 371.7,156.7 371.8,158.1 371.8,159.4 371.9,160.5 371.9,161.4 372,162.1 372,162.7 372.1,163.2 372.1,163.6 372.2,164 372.2,164.2 372.3,164.5 372.3,164.6 372.4,164.8 372.4,164.9 372.5,165.1 372.5,165.2 372.6,165.3 372.6,165.3 372.7,165.4 372.7,165.5 372.8,165.5 372.8,165.6 372.9,165.7 372.9,165.7 373,165.8 373,165.8 373.1,165.8 373.1,165.9 373.2,165.9 373.2,165.9 373.3,166 373.3,166 373.4,166 373.4,166.1 373.5,166.1 373.5,166.1 373.6,166.1 373.6,166.2 373.7,166.2 373.7,166.2 373.8,166.2 373.8,166.2 373.9,166.3 373.9,166.3 374,166.3 374,166.3 374.1,166.3 374.1,166.3 374.2,166.3 374.2,166.4 374.3,166.4 374.3,166.4 374.4,166.4 374.4,166.4 374.5,166.4 374.5,166.4 374.6,166.4 374.6,166.5 374.7,166.5 374.7,166.5 374.8,166.5 374.8,166.5 374.9,166.5 374.9,166.5 375,166.5 375,166.5 375.1,166.5 375.1,166.5 375.2,166.5 375.2,166.6 375.3,166.6 375.3,166.6 375.4,166.6 375.4,166.6 375.5,166.6 375.5,166.6 375.6,166.6 375.6,166.6 375.7,166.6 375.7,166.6 375.8,166.6 375.8,166.6 375.9,166.6 375.9,166.6 376,166.7 376,166.7 376.1,166.7 376.1,166.7 376.2,166.7 376.2,166.7 376.3,166.7 376.3,166.7 376.4,166.7 376.4,166.7 376.5,166.7 376.5,166.7 376.6,166.7 376.6,166.7 376.7,166.7 376.7,166.7 376.8,166.7 376.8,166.7 376.9,166.7 376.9,166.8 377,166.8 377,166.8 377.1,166.8 377.1,166.8 377.2,166.8 377.2,166.8 377.3,166.8 377.3,166.8 377.4,166.8 377.4,166.8 377.5,166.8 377.5,166.8 377.6,166.8 377.6,166.8 377.7,166.8 377.7,166.8 377.8,166.8 377.8,166.8 377.9,166.8 377.9,166.8 378,166.8 378,166.8 378.1,166.9 378.1,166.9 378.2,166.9 378.2,166.9 378.3,166.9 378.3,166.9 378.4,166.9 378.4,166.9 378.5,166.9 378.5,166.9 378.6,166.9 378.6,166.9 378.7,166.9 378.7,166.9 378.8,166.9 378.8,166.9 378.9,166.9 378.9,166.9 379,166.9 379,166.9 379.1,166.9 379.1,166.9 379.2,166.9 379.2,166.9 379.3,166.9 379.3,166.9 379.4,167 379.4,167 379.5,167 379.5,167 379.6,167 379.6,167 379.7,167 379.7,167 379.8,167 379.8,167 379.9,167 379.9,167 380,167 380,167 380.1,167 380.1,167 380.2,167 380.2,167 380.3,167 380.3,167 380.4,167 380.4,167 380.5,167 380.5,167 380.6,167 380.6,167 380.7,167.1 380.7,167.1 380.8,167.1 380.8,167.1 380.9,167.1 380.9,167.1 381,167.1 381,167.1 381.1,167.1 381.1,167.1 381.2,167.1 381.2,167.1 381.3,167.1 381.3,167.1 381.4,167.1 381.4,167.1 381.5,167.1 381.5,167.1 381.6,167.1 381.6,167.1 381.7,167.1 381.7,167.1 381.8,167.1 381.8,167.1 381.9,167.1 381.9,167.2 382,167.2 382,167.2 382.1,167.2 382.1,167.2 382.2,167.2 382.2,167.2 382.3,167.2 382.3,167.2 382.4,167.2 382.4,167.2 382.5,167.2 382.5,167.2 382.6,167.2 382.6,167.2 382.7,167.2 382.7,167.2 382.8,167.2 382.8,167.2 382.9,167.2 382.9,167.2 383,167.2 383,167.2 383.1,167.2 383.1,167.2 383.2,167.3 383.2,167.3 383.3,167.3 383.3,167.3 383.4,167.3 383.4,167.3 383.5,167.3 383.5,167.3 383.6,167.3 383.6,167.3 383.7,167.3 383.7,167.3 383.8,167.3 383.8,167.3 383.9,167.3 383.9,167.3 384,167.3 384,167.3 384.1,167.3 384.1,167.3 384.2,167.3 384.2,167.3 384.3,167.3 384.3,167.3 384.4,167.3 384.4,167.3 384.5,167.3 384.5,167.4 384.6,167.4 384.6,167.4 384.7,167.4 384.7,167.4 384.8,167.4 384.8,167.4 384.9,167.4 384.9,167.4 385,167.4 385,167.4 385.1,167.4 385.1,167.4 385.2,167.4 385.2,167.4 385.3,167.4 385.3,167.4 385.4,167.4 385.4,167.4 385.5,167.4 385.5,167.4 385.6,167.4 385.6,167.4 385.7,167.4 385.7,167.4 385.8,167.4 385.8,167.4 385.9,167.4 385.9,167.4 386,167.5 386,167.5 386.1,167.5 386.1,167.5 386.2,167.5 386.2,167.5 386.3,167.5 386.3,167.5 386.4,167.5 386.4,167.5 386.5,167.5 386.5,167.5 386.6,167.5 386.6,167.5 386.7,167.5 386.7,167.5 386.8,167.5 386.8,167.5 386.9,167.5 386.9,167.5 387,167.5 387,167.5 387.1,167.5 387.1,167.5 387.2,167.5 387.2,167.5 387.3,167.5 387.3,167.5 387.4,167.5 387.4,167.5 387.5,167.5 387.5,167.5 387.6,167.6 387.6,167.6 387.7,167.6 387.7,167.6 387.8,167.6 387.8,167.6 387.9,167.6 387.9,167.6 388,167.6 388,167.6 388.1,167.6 388.1,167.6 388.2,167.6 388.2,167.6 388.3,167.6 388.3,167.6 388.4,167.6 388.4,167.6 388.5,167.6 388.5,167.6 388.6,167.6 388.6,167.6 388.7,167.6 388.7,167.6 388.8,167.6 388.8,167.6 388.9,167.6 388.9,167.6 389,167.6 389,167.6 389.1,167.6 389.1,167.6 389.2,167.6 389.2,167.6 389.3,167.6 389.3,167.6 389.4,167.6 389.4,167.6 389.5,167.6 389.5,167.7 389.6,167.7 389.6,167.7 389.7,167.7 389.7,167.7 389.8,167.7 389.8,167.7 389.9,167.7 389.9,167.7 390,167.7 390,167.7 390.1,167.7 390.1,167.7 390.2,167.7 390.2,167.7 390.3,167.7 390.3,167.7 390.4,167.7 390.4,167.7 390.5,167.7 390.5,167.7 390.6,167.7 390.6,167.7 390.7,167.7 390.7,167.7 390.8,167.7 390.8,167.7 390.9,167.7 390.9,167.7 391,167.7 391,167.7 391.1,167.7 391.1,167.7 391.2,167.7 391.2,167.7 391.3,167.7 391.3,167.7 391.4,167.7 391.4,167.7 391.5,167.7 391.5,167.7 391.6,167.7 391.6,167.7 391.7,167.7 391.7,167.7 391.8,167.7 391.8,167.7 391.9,167.7 391.9,167.7 392,167.7 392,167.7 392.1,167.7 392.1,167.7 392.2,167.7 392.2,167.7 392.3,167.7 392.3,167.7 392.4,167.7 392.4,167.7 392.5,167.7 392.5,167.7 392.6,167.6 392.6,167.6 392.7,167.6 392.7,167.6 392.8,167.6 392.8,167.6 392.9,167.6 392.9,167.6 393,167.6 393,167.6 393.1,167.6 393.1,167.6 393.2,167.6 393.2,167.6 393.3,167.6 393.3,167.6 393.4,167.6 393.4,167.6 393.5,167.5 393.5,167.5 393.6,167.5 393.6,167.5 393.7,167.5 393.7,167.5 393.8,167.5 393.8,167.5 393.9,167.5 393.9,167.4 394,167.4 394,167.4 394.1,167.4 394.1,167.4 394.2,167.4 394.2,167.4 394.3,167.3 394.3,167.3 394.4,167.3 394.4,167.3 394.5,167.3 394.5,167.2 394.6,167.2 394.6,167.2 394.7,167.2 394.7,167.1 394.8,167.1 394.8,167.1 394.9,167.1 394.9,167 395,167 395,166.9 395.1,166.9 395.1,166.9 395.2,166.8 395.2,166.8 395.3,166.7 395.3,166.7 395.4,166.6 395.4,166.6 395.5,166.5 395.5,166.5 395.6,166.4 395.6,166.3 395.7,166.3 395.7,166.2 395.8,166.1 395.8,166 395.9,165.9 395.9,165.8 396,165.7 396,165.6 396.1,165.5 396.1,165.4 396.2,165.2 396.2,165.1 396.3,164.9 396.3,164.7 396.4,164.5 396.4,164.3 396.5,164.1 396.5,163.8 396.6,163.5 396.6,163.2 396.7,162.9 396.7,162.4 396.8,162 396.8,161.4 396.9,160.7 396.9,160 397,159 397,157.9 397.1,156.6 397.1,155 397.2,153.1 397.2,150.9 397.3,148.2 397.3,145.1 397.4,141.5 397.4,137.3 397.5,132.6 397.5,127.2 397.6,121.2 397.6,114.5 397.7,107.2 397.7,99.3 397.8,90.8 397.8,81.9 397.9,72.7 397.9,63.4 398,54.2 398,45.6 398.1,38.1 398.1,32.1 398.2,28.2 398.2,26.9 398.3,28.2 398.3,32.1 398.4,38.1 398.4,45.6 398.5,54.2 398.5,63.4 398.6,72.7 398.6,81.9 398.7,90.8 398.7,99.3 398.8,107.2 398.8,114.5 398.9,121.1 398.9,127.2 399,132.5 399,137.3 399.1,141.5 399.1,145.1 399.2,148.2 399.2,150.8 399.3,153 399.3,154.9 399.4,156.5 399.4,157.8 399.5,159 399.5,159.9 399.6,160.7 399.6,161.3 399.7,161.9 399.7,162.4 399.8,162.8 399.8,163.1 399.9,163.5 399.9,163.7 400,164 400,164.2 400.1,164.4 400.1,164.6 400.2,164.8 400.2,165 400.3,165.1 400.3,165.2 400.4,165.4 400.4,165.5 400.5,165.6 400.5,165.7 400.6,165.8 400.6,165.9 400.7,166 400.7,166.1 400.8,166.2 400.8,166.2 400.9,166.3 400.9,166.4 401,166.4 401,166.5 401.1,166.5 401.1,166.6 401.2,166.7 401.2,166.7 401.3,166.7 401.3,166.8 401.4,166.8 401.4,166.9 401.5,166.9 401.5,166.9 401.6,167 401.6,167 401.7,167 401.7,167.1 401.8,167.1 401.8,167.1 401.9,167.1 401.9,167.2 402,167.2 402,167.2 402.1,167.2 402.1,167.2 402.2,167.3 402.2,167.3 402.3,167.3 402.3,167.3 402.4,167.3 402.4,167.3 402.5,167.4 402.5,167.4 402.6,167.4 402.6,167.4 402.7,167.4 402.7,167.4 402.8,167.4 402.8,167.4 402.9,167.4 402.9,167.4 403,167.4 403,167.4 403.1,167.5 403.1,167.5 403.2,167.5 403.2,167.5 403.3,167.5 403.3,167.5 403.4,167.5 403.4,167.5 403.5,167.5 403.5,167.5 403.6,167.5 403.6,167.5 403.7,167.4 403.7,167.4 403.8,167.4 403.8,167.4 403.9,167.4 403.9,167.4 404,167.4 404,167.4 404.1,167.4 404.1,167.3 404.2,167.3 404.2,167.3 404.3,167.3 404.3,167.3 404.4,167.2 404.4,167.2 404.5,167.2 404.5,167.1 404.6,167.1 404.6,167 404.7,167 404.7,166.9 404.8,166.8 404.8,166.7 404.9,166.6 404.9,166.5 405,166.3 405,166.1 405.1,165.9 405.1,165.6 405.2,165.3 405.2,164.9 405.3,164.5 405.3,164 405.4,163.4 405.4,162.7 405.5,161.9 405.5,161.1 405.6,160.1 405.6,159.1 405.7,157.9 405.7,156.7 405.8,155.4 405.8,154 405.9,152.6 405.9,151.2 406,149.9 406,148.6 406.1,147.4 406.1,146.6 406.2,146 406.2,145.8 406.3,146 406.3,146.6 406.4,147.5 406.4,148.6 406.5,149.9 406.5,151.3 406.6,152.7 406.6,154.1 406.7,155.4 406.7,156.8 406.8,158 406.8,159.1 406.9,160.2 406.9,161.1 407,162 407,162.8 407.1,163.5 407.1,164.1 407.2,164.6 407.2,165 407.3,165.4 407.3,165.7 407.4,166 407.4,166.2 407.5,166.4 407.5,166.6 407.6,166.7 407.6,166.8 407.7,166.9 407.7,167 407.8,167.1 407.8,167.2 407.9,167.2 407.9,167.3 408,167.3 408,167.4 408.1,167.4 408.1,167.4 408.2,167.5 408.2,167.5 408.3,167.5 408.3,167.5 408.4,167.6 408.4,167.6 408.5,167.6 408.5,167.6 408.6,167.6 408.6,167.7 408.7,167.7 408.7,167.7 408.8,167.7 408.8,167.7 408.9,167.7 408.9,167.7 409,167.7 409,167.8 409.1,167.8 409.1,167.8 409.2,167.8 409.2,167.8 409.3,167.8 409.3,167.8 409.4,167.8 409.4,167.8 409.5,167.8 409.5,167.8 409.6,167.8 409.6,167.9 409.7,167.9 409.7,167.9 409.8,167.9 409.8,167.9 409.9,167.9 409.9,167.9 410,167.9 410,167.9 410.1,167.9 410.1,167.9 410.2,167.9 410.2,167.9 410.3,167.9 410.3,167.9 410.4,167.9 410.4,167.9 410.5,167.9 410.5,167.9 410.6,167.9 410.6,167.9 410.7,167.9 410.7,167.9 410.8,167.9 410.8,167.9 410.9,167.9 410.9,167.9 411,167.9 411,167.9 411.1,167.9 411.1,168 411.2,168 411.2,168 411.3,168 411.3,168 411.4,168 411.4,168 411.5,168 411.5,168 411.6,168 411.6,168 411.7,168 411.7,168 411.8,168 411.8,168 411.9,168 411.9,168 412,168 412,168 412.1,168 412.1,168 412.2,168 412.2,168 412.3,168 412.3,168 412.4,168 412.4,168 412.5,168 412.5,168 412.6,168 412.6,168 412.7,168 412.7,168 412.8,168 412.8,168 412.9,168 412.9,168 413,168 413,168 413.1,168 413.1,168 413.2,168 413.2,168 413.3,168 413.3,168 413.4,168 413.4,168 413.5,168 413.5,168 413.6,168 413.6,168 413.7,168 413.7,168 413.8,168 413.8,168 413.9,168 413.9,168 414,168 414,168 414.1,168 414.1,168 414.2,168 414.2,168 414.3,168 414.3,168 414.4,168 414.4,168 414.5,168 414.5,168 414.6,168 414.6,168 414.7,168 414.7,168 414.8,168 414.8,168 414.9,168 414.9,168 415,168 415,168 415.1,168 415.1,168 415.2,168 415.2,168 415.3,168 415.3,168 415.4,168 415.4,168 415.5,168 415.5,168 415.6,168 415.6,168 415.7,168 415.7,168 415.8,168 415.8,168 415.9,168 415.9,168 416,168 416,168 416.1,168 416.1,168 416.2,168 416.2,168 416.3,168 416.3,168 416.4,168 416.4,168 416.5,168 416.5,168 416.6,168 416.6,168 416.7,168 416.7,168 416.8,168 416.8,168 416.9,168 416.9,168 417,168 417,168 417.1,168 417.1,168 417.2,168 417.2,168 417.3,168 417.3,168 417.4,168 417.4,168 417.5,168 417.5,168 417.6,168 417.6,168 417.7,168 417.7,168 417.8,168 417.8,168 417.9,168 417.9,168 418,168 418,168 418.1,168 418.1,168 418.2,168 418.2,168 418.3,168 418.3,168 418.4,167.9 418.4,167.9 418.5,167.9 418.5,167.9 418.6,167.9 418.6,167.9 418.7,167.9 418.7,167.9 418.8,167.9 418.8,167.9 418.9,167.9 418.9,167.9 419,167.9 419,167.9 419.1,167.9 419.1,167.9 419.2,167.9 419.2,167.9 419.3,167.9 419.3,167.9 419.4,167.9 419.4,167.9 419.5,167.9 419.5,167.9 419.6,167.9 419.6,167.9 419.7,167.9 419.7,167.9 419.8,167.9 419.8,167.9 419.9,167.9 419.9,167.9 420,167.9 420,167.9 420.1,167.9 420.1,167.9 420.2,167.9 420.2,167.9 420.3,167.9 420.3,167.9 420.4,167.9 420.4,167.9 420.5,167.9 420.5,167.9 420.6,167.9 420.6,167.9 420.7,167.9 420.7,167.9 420.8,167.9 420.8,167.9 420.9,167.9 420.9,167.9 421,167.9 421,167.9 421.1,167.9 421.1,167.9 421.2,167.9 421.2,167.9 421.3,167.9 421.3,167.9 421.4,167.9 421.4,167.9 421.5,167.9 421.5,167.9 421.6,167.9 421.6,167.9 421.7,167.9 421.7,167.9 421.8,167.9 421.8,167.9 421.9,167.9 421.9,167.9 422,167.9 422,167.9 422.1,167.9 422.1,167.9 422.2,167.9 422.2,167.9 422.3,167.9 422.3,167.9 422.4,167.9 422.4,167.9 422.5,167.9 422.5,167.9 422.6,167.9 422.6,167.9 422.7,167.9 422.7,167.9 422.8,167.9 422.8,167.9 422.9,167.9 422.9,167.9 423,167.9 423,167.9 423.1,167.9 423.1,167.9 423.2,167.9 423.2,167.9 423.3,167.9 423.3,167.9 423.4,167.9 423.4,167.9 423.5,167.9 423.5,167.9 423.6,167.9 423.6,167.9 423.7,167.9 423.7,167.9 423.8,167.9 423.8,167.9 423.9,167.9 423.9,167.9 424,167.9 424,167.9 424.1,167.9 424.1,167.8 424.2,167.8 424.2,167.8 424.3,167.8 424.3,167.8 424.4,167.8 424.4,167.8 424.5,167.8 424.5,167.8 424.6,167.8 424.6,167.8 424.7,167.8 424.7,167.8 424.8,167.8 424.8,167.8 424.9,167.8 424.9,167.8 425,167.8 425,167.8 425.1,167.8 425.1,167.8 425.2,167.8 425.2,167.8 425.3,167.8 425.3,167.8 425.4,167.8 425.4,167.8 425.5,167.8 425.5,167.8 425.6,167.8 425.6,167.8 425.7,167.8 425.7,167.8 425.8,167.8 425.8,167.8 425.9,167.8 425.9,167.8 426,167.8 426,167.8 426.1,167.8 426.1,167.8 426.2,167.8 426.2,167.8 426.3,167.8 426.3,167.8 426.4,167.8 426.4,167.8 426.5,167.8 426.5,167.8 426.6,167.8 426.6,167.8 426.7,167.8 426.7,167.8 426.8,167.8 426.8,167.8 426.9,167.8 426.9,167.8 427,167.8 427,167.8 427.1,167.8 427.1,167.8 427.2,167.8 427.2,167.8 427.3,167.8 427.3,167.8 427.4,167.8 427.4,167.8 427.5,167.8 427.5,167.8 427.6,167.8 427.6,167.8 427.7,167.8 427.7,167.8 427.8,167.8 427.8,167.8 427.9,167.8 427.9,167.7 428,167.7 428,167.7 428.1,167.7 428.1,167.7 428.2,167.7 428.2,167.7 428.3,167.7 428.3,167.7 428.4,167.7 428.4,167.7 428.5,167.7 428.5,167.7 428.6,167.7 428.6,167.7 428.7,167.7 428.7,167.7 428.8,167.7 428.8,167.7 428.9,167.7 428.9,167.7 429,167.7 429,167.7 429.1,167.7 429.1,167.7 429.2,167.7 429.2,167.7 429.3,167.7 429.3,167.7 429.4,167.7 429.4,167.7 429.5,167.7 429.5,167.7 429.6,167.7 429.6,167.7 429.7,167.7 429.7,167.7 429.8,167.7 429.8,167.7 429.9,167.7 429.9,167.7 430,167.7 430,167.7 430.1,167.7 430.1,167.7 430.2,167.7 430.2,167.7 430.3,167.7 430.3,167.7 430.4,167.7 430.4,167.7 430.5,167.6 430.5,167.6 430.6,167.6 430.6,167.6 430.7,167.6 430.7,167.6 430.8,167.6 430.8,167.6 430.9,167.6 430.9,167.6 431,167.6 431,167.6 431.1,167.6 431.1,167.6 431.2,167.6 431.2,167.6 431.3,167.6 431.3,167.6 431.4,167.6 431.4,167.6 431.5,167.6 431.5,167.6 431.6,167.6 431.6,167.6 431.7,167.6 431.7,167.6 431.8,167.6 431.8,167.6 431.9,167.6 431.9,167.6 432,167.6 432,167.6 432.1,167.6 432.1,167.6 432.2,167.5 432.2,167.5 432.3,167.5 432.3,167.5 432.4,167.5 432.4,167.5 432.5,167.5 432.5,167.5 432.6,167.5 432.6,167.5 432.7,167.5 432.7,167.5 432.8,167.5 432.8,167.5 432.9,167.5 432.9,167.5 433,167.5 433,167.5 433.1,167.5 433.1,167.5 433.2,167.5 433.2,167.5 433.3,167.5 433.3,167.4 433.4,167.4 433.4,167.4 433.5,167.4 433.5,167.4 433.6,167.4 433.6,167.4 433.7,167.4 433.7,167.4 433.8,167.4 433.8,167.4 433.9,167.4 433.9,167.4 434,167.4 434,167.4 434.1,167.3 434.1,167.3 434.2,167.3 434.2,167.3 434.3,167.3 434.3,167.3 434.4,167.3 434.4,167.3 434.5,167.3 434.5,167.3 434.6,167.3 434.6,167.3 434.7,167.2 434.7,167.2 434.8,167.2 434.8,167.2 434.9,167.2 434.9,167.2 435,167.2 435,167.2 435.1,167.2 435.1,167.1 435.2,167.1 435.2,167.1 435.3,167.1 435.3,167.1 435.4,167.1 435.4,167.1 435.5,167 435.5,167 435.6,167 435.6,167 435.7,167 435.7,166.9 435.8,166.9 435.8,166.9 435.9,166.9 435.9,166.9 436,166.8 436,166.8 436.1,166.8 436.1,166.8 436.2,166.7 436.2,166.7 436.3,166.7 436.3,166.6 436.4,166.6 436.4,166.6 436.5,166.5 436.5,166.5 436.6,166.4 436.6,166.4 436.7,166.3 436.7,166.3 436.8,166.2 436.8,166.2 436.9,166.1 436.9,166 437,165.9 437,165.8 437.1,165.7 437.1,165.6 437.2,165.5 437.2,165.3 437.3,165.2 437.3,165 437.4,164.7 437.4,164.5 437.5,164.1 437.5,163.8 437.6,163.4 437.6,162.9 437.7,162.3 437.7,161.7 437.8,160.9 437.8,160.1 437.9,159.1 437.9,158.1 438,156.9 438,155.6 438.1,154.2 438.1,152.6 438.2,150.9 438.2,149.1 438.3,147.2 438.3,145.2 438.4,143.1 438.4,141 438.5,138.8 438.5,136.7 438.6,134.7 438.6,132.9 438.7,131.3 438.7,130.1 438.8,129.3 438.8,129 438.9,129.2 438.9,130 439,131.2 439,132.7 439.1,134.6 439.1,136.5 439.2,138.6 439.2,140.8 439.3,142.9 439.3,144.9 439.4,146.9 439.4,148.8 439.5,150.5 439.5,152.2 439.6,153.7 439.6,155.1 439.7,156.4 439.7,157.5 439.8,158.6 439.8,159.5 439.9,160.3 439.9,161 440,161.6 440,162.1 440.1,162.6 440.1,162.9 440.2,163.3 440.2,163.5 440.3,163.8 440.3,163.9 440.4,164.1 440.4,164.2 440.5,164.3 440.5,164.4 440.6,164.5 440.6,164.5 440.7,164.6 440.7,164.6 440.8,164.6 440.8,164.6 440.9,164.6 440.9,164.6 441,164.6 441,164.5 441.1,164.5 441.1,164.4 441.2,164.4 441.2,164.3 441.3,164.3 441.3,164.2 441.4,164.1 441.4,164 441.5,164 441.5,163.8 441.6,163.7 441.6,163.6 441.7,163.5 441.7,163.3 441.8,163.1 441.8,163 441.9,162.8 441.9,162.5 442,162.3 442,162 442.1,161.6 442.1,161.3 442.2,160.8 442.2,160.3 442.3,159.7 442.3,159 442.4,158.2 442.4,157.3 442.5,156.3 442.5,155 442.6,153.6 442.6,151.9 442.7,150 442.7,147.8 442.8,145.3 442.8,142.4 442.9,139.2 442.9,135.7 443,131.7 443,127.3 443.1,122.5 443.1,117.4 443.2,111.8 443.2,105.8 443.3,99.5 443.3,92.9 443.4,86.1 443.4,79.1 443.5,72.1 443.5,65.2 443.6,58.6 443.6,52.7 443.7,47.6 443.7,43.7 443.8,41.2 443.8,40.4 443.9,41.2 443.9,43.7 444,47.6 444,52.7 444.1,58.7 444.1,65.2 444.2,72.1 444.2,79.1 444.3,86.1 444.3,93 444.4,99.6 444.4,105.9 444.5,111.9 444.5,117.5 444.6,122.6 444.6,127.4 444.7,131.8 444.7,135.8 444.8,139.3 444.8,142.6 444.9,145.4 444.9,147.9 445,150.1 445,152.1 445.1,153.7 445.1,155.2 445.2,156.4 445.2,157.5 445.3,158.5 445.3,159.3 445.4,160 445.4,160.6 445.5,161.1 445.5,161.5 445.6,161.9 445.6,162.3 445.7,162.6 445.7,162.8 445.8,163.1 445.8,163.3 445.9,163.5 445.9,163.7 446,163.9 446,164 446.1,164.2 446.1,164.3 446.2,164.5 446.2,164.6 446.3,164.7 446.3,164.8 446.4,164.9 446.4,165 446.5,165.1 446.5,165.2 446.6,165.2 446.6,165.3 446.7,165.4 446.7,165.5 446.8,165.5 446.8,165.6 446.9,165.6 446.9,165.7 447,165.7 447,165.8 447.1,165.8 447.1,165.9 447.2,165.9 447.2,166 447.3,166 447.3,166.1 447.4,166.1 447.4,166.1 447.5,166.2 447.5,166.2 447.6,166.2 447.6,166.3 447.7,166.3 447.7,166.3 447.8,166.3 447.8,166.4 447.9,166.4 447.9,166.4 448,166.4 448,166.4 448.1,166.5 448.1,166.5 448.2,166.5 448.2,166.5 448.3,166.5 448.3,166.6 448.4,166.6 448.4,166.6 448.5,166.6 448.5,166.6 448.6,166.6 448.6,166.6 448.7,166.6 448.7,166.7 448.8,166.7 448.8,166.7 448.9,166.7 448.9,166.7 449,166.7 449,166.7 449.1,166.7 449.1,166.7 449.2,166.7 449.2,166.7 449.3,166.7 449.3,166.7 449.4,166.8 449.4,166.8 449.5,166.8 449.5,166.8 449.6,166.8 449.6,166.8 449.7,166.8 449.7,166.8 449.8,166.8 449.8,166.8 449.9,166.8 449.9,166.8 450,166.8 450,166.8 450.1,166.8 450.1,166.8 450.2,166.8 450.2,166.8 450.3,166.8 450.3,166.8 450.4,166.8 450.4,166.8 450.5,166.8 450.5,166.8 450.6,166.8 450.6,166.7 450.7,166.7 450.7,166.7 450.8,166.7 450.8,166.7 450.9,166.7 450.9,166.7 451,166.7 451,166.7 451.1,166.7 451.1,166.7 451.2,166.7 451.2,166.7 451.3,166.6 451.3,166.6 451.4,166.6 451.4,166.6 451.5,166.6 451.5,166.6 451.6,166.6 451.6,166.5 451.7,166.5 451.7,166.5 451.8,166.5 451.8,166.5 451.9,166.5 451.9,166.4 452,166.4 452,166.4 452.1,166.4 452.1,166.4 452.2,166.3 452.2,166.3 452.3,166.3 452.3,166.2 452.4,166.2 452.4,166.2 452.5,166.2 452.5,166.1 452.6,166.1 452.6,166 452.7,166 452.7,166 452.8,165.9 452.8,165.9 452.9,165.8 452.9,165.8 453,165.7 453,165.7 453.1,165.6 453.1,165.6 453.2,165.5 453.2,165.4 453.3,165.4 453.3,165.3 453.4,165.2 453.4,165.1 453.5,165 453.5,164.9 453.6,164.8 453.6,164.7 453.7,164.6 453.7,164.5 453.8,164.4 453.8,164.2 453.9,164.1 453.9,163.9 454,163.7 454,163.5 454.1,163.3 454.1,163.1 454.2,162.8 454.2,162.5 454.3,162.2 454.3,161.8 454.4,161.3 454.4,160.8 454.5,160.2 454.5,159.5 454.6,158.7 454.6,157.8 454.7,156.7 454.7,155.5 454.8,154.1 454.8,152.5 454.9,150.7 454.9,148.7 455,146.3 455,143.7 455.1,140.9 455.1,137.7 455.2,134.2 455.2,130.3 455.3,126.2 455.3,121.7 455.4,116.9 455.4,111.8 455.5,106.5 455.5,101 455.6,95.3 455.6,89.5 455.7,83.7 455.7,78.1 455.8,72.8 455.8,68 455.9,63.9 455.9,60.8 456,58.9 456,58.2 456.1,58.9 456.1,60.8 456.2,63.9 456.2,68 456.3,72.8 456.3,78 456.4,83.7 456.4,89.4 456.5,95.2 456.5,100.9 456.6,106.4 456.6,111.8 456.7,116.8 456.7,121.6 456.8,126.1 456.8,130.2 456.9,134 456.9,137.5 457,140.7 457,143.6 457.1,146.2 457.1,148.5 457.2,150.5 457.2,152.3 457.3,153.9 457.3,155.3 457.4,156.5 457.4,157.6 457.5,158.5 457.5,159.3 457.6,159.9 457.6,160.5 457.7,161 457.7,161.5 457.8,161.8 457.8,162.2 457.9,162.5 457.9,162.7 458,163 458,163.2 458.1,163.3 458.1,163.5 458.2,163.6 458.2,163.8 458.3,163.9 458.3,164 458.4,164.1 458.4,164.2 458.5,164.2 458.5,164.3 458.6,164.4 458.6,164.4 458.7,164.5 458.7,164.5 458.8,164.5 458.8,164.5 458.9,164.5 458.9,164.5 459,164.5 459,164.4 459.1,164.4 459.1,164.3 459.2,164.2 459.2,164.1 459.3,163.9 459.3,163.7 459.4,163.5 459.4,163.3 459.5,163 459.5,162.6 459.6,162.2 459.6,161.8 459.7,161.3 459.7,160.8 459.8,160.2 459.8,159.5 459.9,158.8 459.9,158 460,157.2 460,156.3 460.1,155.4 460.1,154.4 460.2,153.4 460.2,152.4 460.3,151.4 460.3,150.5 460.4,149.6 460.4,148.7 460.5,148.1 460.5,147.5 460.6,147.2 460.6,147.1 460.7,147.2 460.7,147.6 460.8,148.1 460.8,148.8 460.9,149.7 460.9,150.6 461,151.6 461,152.6 461.1,153.6 461.1,154.6 461.2,155.6 461.2,156.5 461.3,157.4 461.3,158.3 461.4,159.1 461.4,159.8 461.5,160.5 461.5,161.2 461.6,161.7 461.6,162.2 461.7,162.7 461.7,163.1 461.8,163.5 461.8,163.8 461.9,164.1 461.9,164.4 462,164.6 462,164.8 462.1,164.9 462.1,165.1 462.2,165.2 462.2,165.3 462.3,165.4 462.3,165.5 462.4,165.5 462.4,165.6 462.5,165.6 462.5,165.7 462.6,165.7 462.6,165.7 462.7,165.8 462.7,165.8 462.8,165.8 462.8,165.8 462.9,165.8 462.9,165.8 463,165.8 463,165.8 463.1,165.8 463.1,165.8 463.2,165.8 463.2,165.8 463.3,165.7 463.3,165.7 463.4,165.7 463.4,165.7 463.5,165.7 463.5,165.6 463.6,165.6 463.6,165.6 463.7,165.5 463.7,165.5 463.8,165.5 463.8,165.4 463.9,165.4 463.9,165.3 464,165.3 464,165.2 464.1,165.2 464.1,165.1 464.2,165 464.2,165 464.3,164.9 464.3,164.8 464.4,164.7 464.4,164.6 464.5,164.5 464.5,164.4 464.6,164.3 464.6,164.1 464.7,164 464.7,163.8 464.8,163.6 464.8,163.4 464.9,163.2 464.9,163 465,162.7 465,162.4 465.1,162 465.1,161.6 465.2,161.1 465.2,160.6 465.3,160 465.3,159.3 465.4,158.4 465.4,157.5 465.5,156.4 465.5,155.2 465.6,153.8 465.6,152.2 465.7,150.4 465.7,148.4 465.8,146.1 465.8,143.6 465.9,140.8 465.9,137.8 466,134.5 466,130.9 466.1,127 466.1,122.9 466.2,118.5 466.2,113.8 466.3,109 466.3,104 466.4,98.8 466.4,93.7 466.5,88.5 466.5,83.5 466.6,78.9 466.6,74.7 466.7,71.2 466.7,68.5 466.8,66.8 466.8,66.2 466.9,66.8 466.9,68.5 467,71.2 467,74.7 467.1,78.9 467.1,83.6 467.2,88.5 467.2,93.7 467.3,98.9 467.3,104 467.4,109 467.4,113.9 467.5,118.5 467.5,122.9 467.6,127.1 467.6,130.9 467.7,134.6 467.7,137.9 467.8,140.9 467.8,143.7 467.9,146.2 467.9,148.5 468,150.5 468,152.3 468.1,153.9 468.1,155.3 468.2,156.5 468.2,157.6 468.3,158.6 468.3,159.4 468.4,160.1 468.4,160.7 468.5,161.3 468.5,161.8 468.6,162.2 468.6,162.5 468.7,162.9 468.7,163.1 468.8,163.4 468.8,163.6 468.9,163.8 468.9,164 469,164.2 469,164.3 469.1,164.5 469.1,164.6 469.2,164.7 469.2,164.8 469.3,165 469.3,165.1 469.4,165.1 469.4,165.2 469.5,165.3 469.5,165.4 469.6,165.5 469.6,165.5 469.7,165.6 469.7,165.7 469.8,165.7 469.8,165.8 469.9,165.8 469.9,165.9 470,165.9 470,166 470.1,166 470.1,166.1 470.2,166.1 470.2,166.2 470.3,166.2 470.3,166.2 470.4,166.3 470.4,166.3 470.5,166.3 470.5,166.4 470.6,166.4 470.6,166.4 470.7,166.5 470.7,166.5 470.8,166.5 470.8,166.5 470.9,166.5 470.9,166.6 471,166.6 471,166.6 471.1,166.6 471.1,166.7 471.2,166.7 471.2,166.7 471.3,166.7 471.3,166.7 471.4,166.7 471.4,166.7 471.5,166.8 471.5,166.8 471.6,166.8 471.6,166.8 471.7,166.8 471.7,166.8 471.8,166.8 471.8,166.8 471.9,166.9 471.9,166.9 472,166.9 472,166.9 472.1,166.9 472.1,166.9 472.2,166.9 472.2,166.9 472.3,166.9 472.3,166.9 472.4,166.9 472.4,166.9 472.5,166.9 472.5,167 472.6,167 472.6,167 472.7,167 472.7,167 472.8,167 472.8,167 472.9,167 472.9,167 473,167 473,167 473.1,167 473.1,167 473.2,167 473.2,167 473.3,167 473.3,167 473.4,167 473.4,167 473.5,167 473.5,167 473.6,167 473.6,167 473.7,167 473.7,167 473.8,167 473.8,167 473.9,167 473.9,167 474,167 474,167 474.1,167 474.1,167 474.2,167 474.2,167 474.3,167 474.3,166.9 474.4,166.9 474.4,166.9 474.5,166.9 474.5,166.9 474.6,166.9 474.6,166.9 474.7,166.9 474.7,166.9 474.8,166.9 474.8,166.9 474.9,166.9 474.9,166.8 475,166.8 475,166.8 475.1,166.8 475.1,166.8 475.2,166.8 475.2,166.8 475.3,166.8 475.3,166.7 475.4,166.7 475.4,166.7 475.5,166.7 475.5,166.7 475.6,166.6 475.6,166.6 475.7,166.6 475.7,166.6 475.8,166.5 475.8,166.5 475.9,166.5 475.9,166.5 476,166.4 476,166.4 476.1,166.4 476.1,166.3 476.2,166.3 476.2,166.2 476.3,166.2 476.3,166.2 476.4,166.1 476.4,166 476.5,166 476.5,165.9 476.6,165.9 476.6,165.8 476.7,165.7 476.7,165.6 476.8,165.5 476.8,165.4 476.9,165.2 476.9,165.1 477,164.9 477,164.7 477.1,164.5 477.1,164.3 477.2,164 477.2,163.7 477.3,163.3 477.3,162.9 477.4,162.4 477.4,161.9 477.5,161.3 477.5,160.6 477.6,159.8 477.6,159 477.7,158.1 477.7,157 477.8,155.9 477.8,154.7 477.9,153.4 477.9,152 478,150.4 478,148.8 478.1,147.1 478.1,145.3 478.2,143.5 478.2,141.5 478.3,139.6 478.3,137.6 478.4,135.7 478.4,133.8 478.5,132.1 478.5,130.6 478.6,129.2 478.6,128.3 478.7,127.6 478.7,127.4 478.8,127.6 478.8,128.2 478.9,129.1 478.9,130.4 479,131.9 479,133.6 479.1,135.4 479.1,137.3 479.2,139.2 479.2,141.1 479.3,143 479.3,144.8 479.4,146.6 479.4,148.2 479.5,149.8 479.5,151.3 479.6,152.7 479.6,153.9 479.7,155.1 479.7,156.2 479.8,157.1 479.8,158 479.9,158.8 479.9,159.5 480,160.1 480,160.6 480.1,161.1 480.1,161.5 480.2,161.8 480.2,162 480.3,162.3 480.3,162.4 480.4,162.5 480.4,162.6 480.5,162.6 480.5,162.6 480.6,162.6 480.6,162.5 480.7,162.4 480.7,162.2 480.8,161.9 480.8,161.6 480.9,161.3 480.9,160.9 481,160.4 481,159.8 481.1,159.2 481.1,158.4 481.2,157.6 481.2,156.6 481.3,155.5 481.3,154.3 481.4,153 481.4,151.5 481.5,149.8 481.5,148.1 481.6,146.2 481.6,144.1 481.7,141.9 481.7,139.5 481.8,137.1 481.8,134.5 481.9,131.8 481.9,129 482,126.2 482,123.4 482.1,120.6 482.1,118 482.2,115.5 482.2,113.3 482.3,111.5 482.3,110.1 482.4,109.2 482.4,108.9 482.5,109.2 482.5,110.1 482.6,111.5 482.6,113.4 482.7,115.6 482.7,118.1 482.8,120.8 482.8,123.6 482.9,126.5 482.9,129.3 483,132.1 483,134.8 483.1,137.4 483.1,139.9 483.2,142.3 483.2,144.5 483.3,146.6 483.3,148.6 483.4,150.4 483.4,152.1 483.5,153.6 483.5,155 483.6,156.2 483.6,157.3 483.7,158.4 483.7,159.3 483.8,160.1 483.8,160.8 483.9,161.4 483.9,162 484,162.4 484,162.9 484.1,163.2 484.1,163.6 484.2,163.9 484.2,164.1 484.3,164.3 484.3,164.5 484.4,164.7 484.4,164.9 484.5,165 484.5,165.1 484.6,165.2 484.6,165.4 484.7,165.4 484.7,165.5 484.8,165.6 484.8,165.7 484.9,165.8 484.9,165.8 485,165.9 485,165.9 485.1,166 485.1,166.1 485.2,166.1 485.2,166.1 485.3,166.2 485.3,166.2 485.4,166.3 485.4,166.3 485.5,166.3 485.5,166.4 485.6,166.4 485.6,166.4 485.7,166.5 485.7,166.5 485.8,166.5 485.8,166.5 485.9,166.6 485.9,166.6 486,166.6 486,166.6 486.1,166.7 486.1,166.7 486.2,166.7 486.2,166.7 486.3,166.7 486.3,166.7 486.4,166.8 486.4,166.8 486.5,166.8 486.5,166.8 486.6,166.8 486.6,166.8 486.7,166.8 486.7,166.9 486.8,166.9 486.8,166.9 486.9,166.9 486.9,166.9 487,166.9 487,166.9 487.1,166.9 487.1,166.9 487.2,166.9 487.2,167 487.3,167 487.3,167 487.4,167 487.4,167 487.5,167 487.5,167 487.6,167 487.6,167 487.7,167 487.7,167 487.8,167 487.8,167 487.9,167 487.9,167 488,167 488,167 488.1,167 488.1,167 488.2,167 488.2,167 488.3,167 488.3,167 488.4,167 488.4,167 488.5,167 488.5,167 488.6,167 488.6,167 488.7,167 488.7,167 488.8,167 488.8,167 488.9,167 488.9,167 489,167 489,167 489.1,167 489.1,167 489.2,167 489.2,167 489.3,167 489.3,167 489.4,167 489.4,167 489.5,167 489.5,167 489.6,167 489.6,167 489.7,167 489.7,167 489.8,167 489.8,167 489.9,167 489.9,167 490,167 490,166.9 490.1,166.9 490.1,166.9 490.2,166.9 490.2,166.9 490.3,166.9 490.3,166.9 490.4,166.9 490.4,166.9 490.5,166.9 490.5,166.9 490.6,166.9 490.6,166.8 490.7,166.8 490.7,166.8 490.8,166.8 490.8,166.8 490.9,166.8 490.9,166.8 491,166.8 491,166.7 491.1,166.7 491.1,166.7 491.2,166.7 491.2,166.7 491.3,166.7 491.3,166.7 491.4,166.6 491.4,166.6 491.5,166.6 491.5,166.6 491.6,166.6 491.6,166.5 491.7,166.5 491.7,166.5 491.8,166.5 491.8,166.4 491.9,166.4 491.9,166.4 492,166.4 492,166.3 492.1,166.3 492.1,166.3 492.2,166.2 492.2,166.2 492.3,166.2 492.3,166.1 492.4,166.1 492.4,166.1 492.5,166 492.5,166 492.6,165.9 492.6,165.9 492.7,165.8 492.7,165.8 492.8,165.7 492.8,165.6 492.9,165.6 492.9,165.5 493,165.4 493,165.3 493.1,165.3 493.1,165.2 493.2,165.1 493.2,164.9 493.3,164.8 493.3,164.7 493.4,164.5 493.4,164.3 493.5,164.1 493.5,163.9 493.6,163.7 493.6,163.4 493.7,163.1 493.7,162.7 493.8,162.3 493.8,161.9 493.9,161.4 493.9,160.8 494,160.2 494,159.5 494.1,158.8 494.1,158 494.2,157.1 494.2,156.1 494.3,155.1 494.3,153.9 494.4,152.7 494.4,151.4 494.5,150 494.5,148.6 494.6,147 494.6,145.5 494.7,143.8 494.7,142.2 494.8,140.5 494.8,138.8 494.9,137.1 494.9,135.5 495,134 495,132.7 495.1,131.5 495.1,130.6 495.2,130 495.2,129.7 495.3,129.7 495.3,130 495.4,130.6 495.4,131.5 495.5,132.5 495.5,133.6 495.6,134.9 495.6,136.1 495.7,137.4 495.7,138.6 495.8,139.8 495.8,140.9 495.9,141.9 495.9,142.7 496,143.4 496,143.9 496.1,144.3 496.1,144.4 496.2,144.4 496.2,144.1 496.3,143.6 496.3,142.8 496.4,141.8 496.4,140.5 496.5,138.9 496.5,137.1 496.6,134.9 496.6,132.5 496.7,129.8 496.7,126.8 496.8,123.5 496.8,119.9 496.9,116.1 496.9,112 497,107.7 497,103.2 497.1,98.5 497.1,93.7 497.2,88.8 497.2,84 497.3,79.3 497.3,74.7 497.4,70.5 497.4,66.8 497.5,63.7 497.5,61.4 497.6,60 497.6,59.5 497.7,60 497.7,61.6 497.8,64 497.8,67.1 497.9,71 497.9,75.3 498,79.9 498,84.8 498.1,89.7 498.1,94.7 498.2,99.7 498.2,104.5 498.3,109.2 498.3,113.7 498.4,118 498.4,122.1 498.5,126 498.5,129.6 498.6,133 498.6,136.1 498.7,139 498.7,141.7 498.8,144.1 498.8,146.3 498.9,148.3 498.9,150.1 499,151.7 499,153.2 499.1,154.4 499.1,155.6 499.2,156.6 499.2,157.5 499.3,158.3 499.3,159 499.4,159.6 499.4,160.1 499.5,160.6 499.5,161 499.6,161.4 499.6,161.7 499.7,162 499.7,162.2 499.8,162.4 499.8,162.6 499.9,162.8 499.9,163 500,163.1 500,163.3 500.1,163.4 500.1,163.5 500.2,163.6 500.2,163.7 500.3,163.7 500.3,163.8 500.4,163.8 500.4,163.9 500.5,163.9 500.5,163.9 500.6,163.9 500.6,163.9 500.7,163.9 500.7,163.9 500.8,163.8 500.8,163.8 500.9,163.7 500.9,163.6 501,163.5 501,163.3 501.1,163.1 501.1,162.9 501.2,162.6 501.2,162.3 501.3,162 501.3,161.6 501.4,161.2 501.4,160.7 501.5,160.2 501.5,159.6 501.6,158.9 501.6,158.2 501.7,157.4 501.7,156.6 501.8,155.7 501.8,154.7 501.9,153.7 501.9,152.6 502,151.5 502,150.3 502.1,149.1 502.1,147.9 502.2,146.7 502.2,145.4 502.3,144.2 502.3,143.1 502.4,142 502.4,141.1 502.5,140.3 502.5,139.8 502.6,139.4 502.6,139.3 502.7,139.4 502.7,139.8 502.8,140.4 502.8,141.2 502.9,142.2 502.9,143.3 503,144.5 503,145.7 503.1,147 503.1,148.3 503.2,149.5 503.2,150.8 503.3,152 503.3,153.1 503.4,154.3 503.4,155.3 503.5,156.3 503.5,157.3 503.6,158.1 503.6,159 503.7,159.7 503.7,160.4 503.8,161.1 503.8,161.7 503.9,162.2 503.9,162.7 504,163.1 504,163.5 504.1,163.9 504.1,164.2 504.2,164.5 504.2,164.7 504.3,164.9 504.3,165.1 504.4,165.3 504.4,165.4 504.5,165.6 504.5,165.7 504.6,165.8 504.6,165.9 504.7,166 504.7,166.1 504.8,166.1 504.8,166.2 504.9,166.3 504.9,166.3 505,166.4 505,166.4 505.1,166.5 505.1,166.5 505.2,166.5 505.2,166.6 505.3,166.6 505.3,166.6 505.4,166.7 505.4,166.7 505.5,166.7 505.5,166.8 505.6,166.8 505.6,166.8 505.7,166.8 505.7,166.9 505.8,166.9 505.8,166.9 505.9,166.9 505.9,166.9 506,167 506,167 506.1,167 506.1,167 506.2,167 506.2,167 506.3,167.1 506.3,167.1 506.4,167.1 506.4,167.1 506.5,167.1 506.5,167.1 506.6,167.1 506.6,167.1 506.7,167.2 506.7,167.2 506.8,167.2 506.8,167.2 506.9,167.2 506.9,167.2 507,167.2 507,167.2 507.1,167.2 507.1,167.2 507.2,167.2 507.2,167.3 507.3,167.3 507.3,167.3 507.4,167.3 507.4,167.3 507.5,167.3 507.5,167.3 507.6,167.3 507.6,167.3 507.7,167.3 507.7,167.3 507.8,167.3 507.8,167.3 507.9,167.3 507.9,167.4 508,167.4 508,167.4 508.1,167.4 508.1,167.4 508.2,167.4 508.2,167.4 508.3,167.4 508.3,167.4 508.4,167.4 508.4,167.4 508.5,167.4 508.5,167.4 508.6,167.4 508.6,167.4 508.7,167.4 508.7,167.4 508.8,167.4 508.8,167.4 508.9,167.4 508.9,167.4 509,167.4 509,167.5 509.1,167.5 509.1,167.5 509.2,167.5 509.2,167.5 509.3,167.5 509.3,167.5 509.4,167.5 509.4,167.5 509.5,167.5 509.5,167.5 509.6,167.5 509.6,167.5 509.7,167.5 509.7,167.5 509.8,167.5 509.8,167.5 509.9,167.5 509.9,167.5 510,167.5 510,167.5 510.1,167.5 510.1,167.5 510.2,167.5 510.2,167.5 510.3,167.5 510.3,167.5 510.4,167.5 510.4,167.5 510.5,167.5 510.5,167.5 510.6,167.5 510.6,167.5 510.7,167.5 510.7,167.5 510.8,167.5 510.8,167.5 510.9,167.5 510.9,167.5 511,167.5 511,167.5 511.1,167.6 511.1,167.6 511.2,167.6 511.2,167.6 511.3,167.6 511.3,167.6 511.4,167.6 511.4,167.6 511.5,167.6 511.5,167.6 511.6,167.6 511.6,167.6 511.7,167.6 511.7,167.6 511.8,167.6 511.8,167.6 511.9,167.6 511.9,167.6 512,167.6 512,167.6 512.1,167.6 512.1,167.6 512.2,167.6 512.2,167.6 512.3,167.6 512.3,167.6 512.4,167.6 512.4,167.6 512.5,167.6 512.5,167.6 512.6,167.6 512.6,167.6 512.7,167.6 512.7,167.6 512.8,167.6 512.8,167.6 512.9,167.6 512.9,167.6 513,167.6 513,167.6 513.1,167.6 513.1,167.6 513.2,167.6 513.2,167.6 513.3,167.6 513.3,167.6 513.4,167.6 513.4,167.6 513.5,167.6 513.5,167.6 513.6,167.6 513.6,167.6 513.7,167.6 513.7,167.6 513.8,167.6 513.8,167.6 513.9,167.6 513.9,167.6 514,167.6 514,167.6 514.1,167.6 514.1,167.6 514.2,167.6 514.2,167.6 514.3,167.6 514.3,167.6 514.4,167.6 514.4,167.6 514.5,167.6 514.5,167.6 514.6,167.6 514.6,167.6 514.7,167.6 514.7,167.6 514.8,167.6 514.8,167.6 514.9,167.6 514.9,167.6 515,167.6 515,167.6 515.1,167.6 515.1,167.6 515.2,167.6 515.2,167.6 515.3,167.6 515.3,167.6 515.4,167.6 515.4,167.6 515.5,167.6 515.5,167.6 515.6,167.6 515.6,167.6 515.7,167.6 515.7,167.6 515.8,167.6 515.8,167.6 515.9,167.6 515.9,167.6 516,167.6 516,167.6 516.1,167.6 516.1,167.6 516.2,167.6 516.2,167.6 516.3,167.6 516.3,167.6 516.4,167.6 516.4,167.6 516.5,167.6 516.5,167.6 516.6,167.5 516.6,167.5 516.7,167.5 516.7,167.5 516.8,167.5 516.8,167.5 516.9,167.5 516.9,167.5 517,167.5 517,167.5 517.1,167.5 517.1,167.5 517.2,167.5 517.2,167.5 517.3,167.5 517.3,167.5 517.4,167.5 517.4,167.5 517.5,167.5 517.5,167.5 517.6,167.5 517.6,167.5 517.7,167.5 517.7,167.5 517.8,167.5 517.8,167.5 517.9,167.5 517.9,167.5 518,167.5 518,167.5 518.1,167.4 518.1,167.4 518.2,167.4 518.2,167.4 518.3,167.4 518.3,167.4 518.4,167.4 518.4,167.4 518.5,167.4 518.5,167.4 518.6,167.4 518.6,167.4 518.7,167.4 518.7,167.4 518.8,167.4 518.8,167.3 518.9,167.3 518.9,167.3 519,167.3 519,167.3 519.1,167.3 519.1,167.3 519.2,167.3 519.2,167.3 519.3,167.3 519.3,167.2 519.4,167.2 519.4,167.2 519.5,167.2 519.5,167.2 519.6,167.2 519.6,167.1 519.7,167.1 519.7,167.1 519.8,167.1 519.8,167.1 519.9,167.1 519.9,167 520,167 520,167 520.1,166.9 520.1,166.9 520.2,166.9 520.2,166.8 520.3,166.8 520.3,166.8 520.4,166.7 520.4,166.7 520.5,166.6 520.5,166.5 520.6,166.5 520.6,166.4 520.7,166.3 520.7,166.2 520.8,166.1 520.8,166 520.9,165.8 520.9,165.7 521,165.5 521,165.3 521.1,165.1 521.1,164.8 521.2,164.6 521.2,164.3 521.3,163.9 521.3,163.6 521.4,163.2 521.4,162.7 521.5,162.2 521.5,161.7 521.6,161.1 521.6,160.5 521.7,159.9 521.7,159.2 521.8,158.4 521.8,157.7 521.9,156.9 521.9,156 522,155.1 522,154.2 522.1,153.3 522.1,152.4 522.2,151.4 522.2,150.5 522.3,149.6 522.3,148.8 522.4,148 522.4,147.3 522.5,146.8 522.5,146.4 522.6,146.1 522.6,146 522.7,146.1 522.7,146.3 522.8,146.8 522.8,147.3 522.9,148 522.9,148.7 523,149.6 523,150.5 523.1,151.4 523.1,152.3 523.2,153.2 523.2,154.1 523.3,155 523.3,155.9 523.4,156.7 523.4,157.5 523.5,158.3 523.5,159 523.6,159.7 523.6,160.4 523.7,161 523.7,161.5 523.8,162 523.8,162.5 523.9,162.9 523.9,163.3 524,163.7 524,164 524.1,164.3 524.1,164.6 524.2,164.8 524.2,165 524.3,165.2 524.3,165.3 524.4,165.5 524.4,165.6 524.5,165.7 524.5,165.8 524.6,165.9 524.6,165.9 524.7,166 524.7,166 524.8,166.1 524.8,166.1 524.9,166.1 524.9,166.1 525,166.1 525,166.1 525.1,166.1 525.1,166.1 525.2,166.1 525.2,166 525.3,166 525.3,165.9 525.4,165.8 525.4,165.8 525.5,165.7 525.5,165.6 525.6,165.4 525.6,165.3 525.7,165.1 525.7,164.9 525.8,164.7 525.8,164.5 525.9,164.2 525.9,164 526,163.6 526,163.3 526.1,163 526.1,162.6 526.2,162.2 526.2,161.7 526.3,161.3 526.3,160.8 526.4,160.2 526.4,159.7 526.5,159.2 526.5,158.6 526.6,158 526.6,157.4 526.7,156.8 526.7,156.2 526.8,155.7 526.8,155.1 526.9,154.7 526.9,154.2 527,153.9 527,153.6 527.1,153.5 527.1,153.4 527.2,153.5 527.2,153.6 527.3,153.9 527.3,154.2 527.4,154.7 527.4,155.2 527.5,155.7 527.5,156.3 527.6,156.9 527.6,157.4 527.7,158 527.7,158.6 527.8,159.2 527.8,159.8 527.9,160.3 527.9,160.8 528,161.3 528,161.8 528.1,162.3 528.1,162.7 528.2,163.1 528.2,163.4 528.3,163.8 528.3,164.1 528.4,164.4 528.4,164.6 528.5,164.9 528.5,165.1 528.6,165.3 528.6,165.5 528.7,165.6 528.7,165.8 528.8,165.9 528.8,166 528.9,166.1 528.9,166.2 529,166.3 529,166.3 529.1,166.4 529.1,166.4 529.2,166.5 529.2,166.5 529.3,166.6 529.3,166.6 529.4,166.6 529.4,166.6 529.5,166.6 529.5,166.7 529.6,166.7 529.6,166.7 529.7,166.7 529.7,166.7 529.8,166.7 529.8,166.7 529.9,166.7 529.9,166.7 530,166.7 530,166.7 530.1,166.7 530.1,166.7 530.2,166.7 530.2,166.6 530.3,166.6 530.3,166.6 530.4,166.6 530.4,166.6 530.5,166.5 530.5,166.5 530.6,166.5 530.6,166.4 530.7,166.4 530.7,166.4 530.8,166.3 530.8,166.3 530.9,166.2 530.9,166.1 531,166 531,166 531.1,165.9 531.1,165.7 531.2,165.6 531.2,165.5 531.3,165.3 531.3,165.1 531.4,164.9 531.4,164.7 531.5,164.4 531.5,164.1 531.6,163.8 531.6,163.5 531.7,163.1 531.7,162.7 531.8,162.2 531.8,161.7 531.9,161.2 531.9,160.6 532,160 532,159.3 532.1,158.6 532.1,157.8 532.2,157 532.2,156.1 532.3,155.3 532.3,154.3 532.4,153.4 532.4,152.4 532.5,151.4 532.5,150.4 532.6,149.4 532.6,148.4 532.7,147.5 532.7,146.6 532.8,145.8 532.8,145.1 532.9,144.5 532.9,144.1 533,143.8 533,143.7 533.1,143.8 533.1,144.1 533.2,144.5 533.2,145.1 533.3,145.8 533.3,146.6 533.4,147.5 533.4,148.4 533.5,149.4 533.5,150.4 533.6,151.4 533.6,152.4 533.7,153.4 533.7,154.3 533.8,155.2 533.8,156.1 533.9,157 533.9,157.8 534,158.5 534,159.2 534.1,159.9 534.1,160.5 534.2,161.1 534.2,161.7 534.3,162.1 534.3,162.6 534.4,163 534.4,163.4 534.5,163.7 534.5,164.1 534.6,164.3 534.6,164.6 534.7,164.8 534.7,165 534.8,165.2 534.8,165.3 534.9,165.5 534.9,165.6 535,165.7 535,165.8 535.1,165.9 535.1,165.9 535.2,166 535.2,166 535.3,166.1 535.3,166.1 535.4,166.1 535.4,166.1 535.5,166.1 535.5,166.1 535.6,166.1 535.6,166.1 535.7,166.1 535.7,166.1 535.8,166 535.8,166 535.9,165.9 535.9,165.8 536,165.7 536,165.6 536.1,165.5 536.1,165.4 536.2,165.3 536.2,165.1 536.3,164.9 536.3,164.7 536.4,164.5 536.4,164.3 536.5,164 536.5,163.7 536.6,163.4 536.6,163.1 536.7,162.7 536.7,162.4 536.8,162 536.8,161.6 536.9,161.2 536.9,160.7 537,160.2 537,159.8 537.1,159.3 537.1,158.8 537.2,158.3 537.2,157.9 537.3,157.4 537.3,157 537.4,156.6 537.4,156.3 537.5,156 537.5,155.8 537.6,155.6 537.6,155.6 537.7,155.6 537.7,155.8 537.8,156 537.8,156.3 537.9,156.6 537.9,157 538,157.5 538,157.9 538.1,158.4 538.1,158.9 538.2,159.4 538.2,159.9 538.3,160.4 538.3,160.8 538.4,161.3 538.4,161.7 538.5,162.1 538.5,162.5 538.6,162.9 538.6,163.3 538.7,163.6 538.7,163.9 538.8,164.2 538.8,164.5 538.9,164.7 538.9,165 539,165.2 539,165.4 539.1,165.5 539.1,165.7 539.2,165.8 539.2,166 539.3,166.1 539.3,166.2 539.4,166.3 539.4,166.3 539.5,166.4 539.5,166.5 539.6,166.5 539.6,166.6 539.7,166.6 539.7,166.7 539.8,166.7 539.8,166.7 539.9,166.7 539.9,166.8 540,166.8 540,166.8 540.1,166.8 540.1,166.8 540.2,166.8 540.2,166.8 540.3,166.8 540.3,166.8 540.4,166.8 540.4,166.8 540.5,166.7 540.5,166.7 540.6,166.7 540.6,166.7 540.7,166.6 540.7,166.6 540.8,166.5 540.8,166.5 540.9,166.4 540.9,166.3 541,166.3 541,166.2 541.1,166.1 541.1,165.9 541.2,165.8 541.2,165.7 541.3,165.5 541.3,165.3 541.4,165.1 541.4,164.9 541.5,164.7 541.5,164.4 541.6,164.2 541.6,163.9 541.7,163.5 541.7,163.2 541.8,162.8 541.8,162.5 541.9,162.1 541.9,161.6 542,161.2 542,160.7 542.1,160.3 542.1,159.8 542.2,159.3 542.2,158.8 542.3,158.3 542.3,157.9 542.4,157.4 542.4,157 542.5,156.6 542.5,156.3 542.6,156 542.6,155.8 542.7,155.6 542.7,155.6 542.8,155.6 542.8,155.8 542.9,156 542.9,156.3 543,156.6 543,157 543.1,157.4 543.1,157.9 543.2,158.4 543.2,158.9 543.3,159.4 543.3,159.9 543.4,160.3 543.4,160.8 543.5,161.3 543.5,161.7 543.6,162.1 543.6,162.5 543.7,162.9 543.7,163.3 543.8,163.6 543.8,164 543.9,164.3 543.9,164.5 544,164.8 544,165.1 544.1,165.3 544.1,165.5 544.2,165.7 544.2,165.8 544.3,166 544.3,166.1 544.4,166.2 544.4,166.4 544.5,166.5 544.5,166.6 544.6,166.6 544.6,166.7 544.7,166.8 544.7,166.8 544.8,166.9 544.8,166.9 544.9,167 544.9,167 545,167 545,167.1 545.1,167.1 545.1,167.1 545.2,167.2 545.2,167.2 545.3,167.2 545.3,167.2 545.4,167.2 545.4,167.3 545.5,167.3 545.5,167.3 545.6,167.3 545.6,167.3 545.7,167.3 545.7,167.3 545.8,167.3 545.8,167.3 545.9,167.4 545.9,167.4 546,167.4 546,167.4 546.1,167.4 546.1,167.4 546.2,167.4 546.2,167.4 546.3,167.4 546.3,167.4 546.4,167.4 546.4,167.4 546.5,167.4 546.5,167.4 546.6,167.4 546.6,167.5 546.7,167.5 546.7,167.5 546.8,167.5 546.8,167.5 546.9,167.5 546.9,167.5 547,167.5 547,167.5 547.1,167.5 547.1,167.5 547.2,167.5 547.2,167.5 547.3,167.5 547.3,167.5 547.4,167.5 547.4,167.5 547.5,167.5 547.5,167.5 547.6,167.5 547.6,167.5 547.7,167.5 547.7,167.5 547.8,167.5 547.8,167.5 547.9,167.5 547.9,167.5 548,167.5 548,167.5 548.1,167.5 548.1,167.5 548.2,167.5 548.2,167.5 548.3,167.5 548.3,167.5 548.4,167.5 548.4,167.5 548.5,167.5 548.5,167.5 548.6,167.5 548.6,167.5 548.7,167.5 548.7,167.6 548.8,167.6 548.8,167.6 548.9,167.6 548.9,167.6 549,167.6 549,167.6 549.1,167.6 549.1,167.6 549.2,167.6 549.2,167.6 549.3,167.6 549.3,167.6 549.4,167.6 549.4,167.6 549.5,167.6 549.5,167.6 549.6,167.6 549.6,167.6 549.7,167.6 549.7,167.6 549.8,167.6 549.8,167.6 549.9,167.6 549.9,167.6 550,167.6 550,167.6 550.1,167.6 550.1,167.6 550.2,167.6 550.2,167.6 550.3,167.6 550.3,167.6 550.4,167.6 550.4,167.6 550.5,167.6 550.5,167.6 550.6,167.6 550.6,167.6 550.7,167.6 550.7,167.5 550.8,167.5 550.8,167.5 550.9,167.5 550.9,167.5 551,167.5 551,167.5 551.1,167.5 551.1,167.5 551.2,167.5 551.2,167.5 551.3,167.5 551.3,167.5 551.4,167.5 551.4,167.5 551.5,167.5 551.5,167.5 551.6,167.5 551.6,167.5 551.7,167.5 551.7,167.5 551.8,167.5 551.8,167.5 551.9,167.5 551.9,167.5 552,167.5 552,167.5 552.1,167.5 552.1,167.5 552.2,167.5 552.2,167.5 552.3,167.5 552.3,167.5 552.4,167.5 552.4,167.5 552.5,167.5 552.5,167.5 552.6,167.5 552.6,167.5 552.7,167.5 552.7,167.5 552.8,167.4 552.8,167.4 552.9,167.4 552.9,167.4 553,167.4 553,167.4 553.1,167.4 553.1,167.4 553.2,167.4 553.2,167.4 553.3,167.4 553.3,167.4 553.4,167.3 553.4,167.3 553.5,167.3 553.5,167.3 553.6,167.3 553.6,167.2 553.7,167.2 553.7,167.2 553.8,167.2 553.8,167.1 553.9,167.1 553.9,167 554,167 554,166.9 554.1,166.9 554.1,166.8 554.2,166.7 554.2,166.6 554.3,166.6 554.3,166.5 554.4,166.4 554.4,166.3 554.5,166.1 554.5,166 554.6,165.9 554.6,165.7 554.7,165.6 554.7,165.4 554.8,165.3 554.8,165.1 554.9,164.9 554.9,164.7 555,164.5 555,164.4 555.1,164.2 555.1,164 555.2,163.8 555.2,163.6 555.3,163.4 555.3,163.2 555.4,163.1 555.4,163 555.5,162.8 555.5,162.8 555.6,162.7 555.6,162.7 555.7,162.7 555.7,162.8 555.8,162.8 555.8,163 555.9,163.1 555.9,163.2 556,163.4 556,163.6 556.1,163.8 556.1,164 556.2,164.1 556.2,164.3 556.3,164.5 556.3,164.7 556.4,164.9 556.4,165.1 556.5,165.2 556.5,165.4 556.6,165.6 556.6,165.7 556.7,165.9 556.7,166 556.8,166.1 556.8,166.2 556.9,166.3 556.9,166.4 557,166.5 557,166.6 557.1,166.7 557.1,166.8 557.2,166.8 557.2,166.9 557.3,166.9 557.3,167 557.4,167 557.4,167.1 557.5,167.1 557.5,167.1 557.6,167.2 557.6,167.2 557.7,167.2 557.7,167.2 557.8,167.3 557.8,167.3 557.9,167.3 557.9,167.3 558,167.3 558,167.3 558.1,167.3 558.1,167.3 558.2,167.4 558.2,167.4 558.3,167.4 558.3,167.4 558.4,167.4 558.4,167.4 558.5,167.4 558.5,167.4 558.6,167.4 558.6,167.4 558.7,167.4 558.7,167.4 558.8,167.4 558.8,167.4 558.9,167.4 558.9,167.4 559,167.4 559,167.4 559.1,167.4 559.1,167.4 559.2,167.4 559.2,167.4 559.3,167.4 559.3,167.4 559.4,167.4 559.4,167.4 559.5,167.4 559.5,167.4 559.6,167.4 559.6,167.4 559.7,167.4 559.7,167.4 559.8,167.4 559.8,167.4 559.9,167.4 559.9,167.4 560,167.4 560,167.4 560.1,167.4 560.1,167.4 560.2,167.4 560.2,167.4 560.3,167.4 560.3,167.4 560.4,167.4 560.4,167.4 560.5,167.4 560.5,167.4 560.6,167.4 560.6,167.4 560.7,167.4 560.7,167.4 560.8,167.4 560.8,167.4 560.9,167.4 560.9,167.4 561,167.4 561,167.4 561.1,167.4 561.1,167.4 561.2,167.4 561.2,167.4 561.3,167.4 561.3,167.4 561.4,167.4 561.4,167.4 561.5,167.4 561.5,167.4 561.6,167.4 561.6,167.4 561.7,167.4 561.7,167.4 561.8,167.4 561.8,167.4 561.9,167.4 561.9,167.4 562,167.4 562,167.4 562.1,167.4 562.1,167.4 562.2,167.4 562.2,167.4 562.3,167.4 562.3,167.4 562.4,167.4 562.4,167.4 562.5,167.4 562.5,167.4 562.6,167.4 562.6,167.4 562.7,167.4 562.7,167.4 562.8,167.4 562.8,167.4 562.9,167.4 562.9,167.4 563,167.3 563,167.3 563.1,167.3 563.1,167.3 563.2,167.3 563.2,167.3 563.3,167.3 563.3,167.3 563.4,167.3 563.4,167.3 563.5,167.3 563.5,167.3 563.6,167.2 563.6,167.2 563.7,167.2 563.7,167.2 563.8,167.2 563.8,167.1 563.9,167.1 563.9,167.1 564,167.1 564,167 564.1,167 564.1,166.9 564.2,166.9 564.2,166.9 564.3,166.8 564.3,166.7 564.4,166.7 564.4,166.6 564.5,166.5 564.5,166.4 564.6,166.4 564.6,166.3 564.7,166.2 564.7,166.1 564.8,165.9 564.8,165.8 564.9,165.7 564.9,165.6 565,165.4 565,165.3 565.1,165.1 565.1,165 565.2,164.8 565.2,164.7 565.3,164.5 565.3,164.3 565.4,164.2 565.4,164 565.5,163.9 565.5,163.7 565.6,163.6 565.6,163.5 565.7,163.4 565.7,163.4 565.8,163.3 565.8,163.3 565.9,163.3 565.9,163.4 566,163.4 566,163.5 566.1,163.6 566.1,163.7 566.2,163.9 566.2,164 566.3,164.2 566.3,164.3 566.4,164.5 566.4,164.6 566.5,164.8 566.5,164.9 566.6,165.1 566.6,165.2 566.7,165.4 566.7,165.5 566.8,165.6 566.8,165.8 566.9,165.9 566.9,166 567,166.1 567,166.2 567.1,166.3 567.1,166.4 567.2,166.5 567.2,166.5 567.3,166.6 567.3,166.7 567.4,166.7 567.4,166.8 567.5,166.8 567.5,166.9 567.6,166.9 567.6,166.9 567.7,167 567.7,167 567.8,167 567.8,167.1 567.9,167.1 567.9,167.1 568,167.1 568,167.1 568.1,167.1 568.1,167.1 568.2,167.2 568.2,167.2 568.3,167.2 568.3,167.2 568.4,167.2 568.4,167.2 568.5,167.2 568.5,167.2 568.6,167.2 568.6,167.2 568.7,167.2 568.7,167.2 568.8,167.2 568.8,167.2 568.9,167.2 568.9,167.2 569,167.2 569,167.2 569.1,167.2 569.1,167.2 569.2,167.2 569.2,167.2 569.3,167.2 569.3,167.2 569.4,167.2 569.4,167.2 569.5,167.2 569.5,167.2 569.6,167.2 569.6,167.2 569.7,167.2 569.7,167.2 569.8,167.2 569.8,167.2 569.9,167.2 569.9,167.2 570,167.2 570,167.2 570.1,167.2 570.1,167.2 570.2,167.2 570.2,167.2 570.3,167.2 570.3,167.2 570.4,167.2 570.4,167.2 570.5,167.2 570.5,167.2 570.6,167.2 570.6,167.2 570.7,167.1 570.7,167.1 570.8,167.1 570.8,167.1 570.9,167.1 570.9,167.1 571,167.1 571,167.1 571.1,167.1 571.1,167.1 571.2,167.1 571.2,167.1 571.3,167.1 571.3,167.1 571.4,167.1 571.4,167.1 571.5,167 571.5,167 571.6,167 571.6,167 571.7,167 571.7,167 571.8,167 571.8,167 571.9,167 571.9,167 572,167 572,166.9 572.1,166.9 572.1,166.9 572.2,166.9 572.2,166.9 572.3,166.9 572.3,166.9 572.4,166.9 572.4,166.8 572.5,166.8 572.5,166.8 572.6,166.8 572.6,166.8 572.7,166.7 572.7,166.7 572.8,166.7 572.8,166.7 572.9,166.7 572.9,166.6 573,166.6 573,166.6 573.1,166.5 573.1,166.5 573.2,166.5 573.2,166.4 573.3,166.4 573.3,166.3 573.4,166.3 573.4,166.2 573.5,166.2 573.5,166.1 573.6,166.1 573.6,166 573.7,165.9 573.7,165.8 573.8,165.7 573.8,165.6 573.9,165.5 573.9,165.3 574,165.2 574,165 574.1,164.8 574.1,164.6 574.2,164.3 574.2,164.1 574.3,163.8 574.3,163.5 574.4,163.2 574.4,162.8 574.5,162.4 574.5,162 574.6,161.5 574.6,161 574.7,160.5 574.7,159.9 574.8,159.3 574.8,158.7 574.9,158 574.9,157.3 575,156.6 575,155.8 575.1,155 575.1,154.1 575.2,153.2 575.2,152.4 575.3,151.4 575.3,150.5 575.4,149.6 575.4,148.7 575.5,147.8 575.5,146.9 575.6,146.1 575.6,145.3 575.7,144.6 575.7,144 575.8,143.5 575.8,143.1 575.9,142.9 575.9,142.8 576,142.9 576,143.1 576.1,143.5 576.1,144 576.2,144.6 576.2,145.3 576.3,146 576.3,146.9 576.4,147.8 576.4,148.7 576.5,149.6 576.5,150.5 576.6,151.4 576.6,152.3 576.7,153.2 576.7,154.1 576.8,154.9 576.8,155.7 576.9,156.5 576.9,157.3 577,158 577,158.7 577.1,159.3 577.1,159.9 577.2,160.5 577.2,161 577.3,161.5 577.3,161.9 577.4,162.4 577.4,162.8 577.5,163.1 577.5,163.5 577.6,163.8 577.6,164 577.7,164.3 577.7,164.5 577.8,164.7 577.8,164.9 577.9,165.1 577.9,165.2 578,165.4 578,165.5 578.1,165.6 578.1,165.7 578.2,165.8 578.2,165.9 578.3,166 578.3,166 578.4,166.1 578.4,166.2 578.5,166.2 578.5,166.3 578.6,166.3 578.6,166.3 578.7,166.4 578.7,166.4 578.8,166.4 578.8,166.5 578.9,166.5 578.9,166.5 579,166.6 579,166.6 579.1,166.6 579.1,166.6 579.2,166.6 579.2,166.6 579.3,166.7 579.3,166.7 579.4,166.7 579.4,166.7 579.5,166.7 579.5,166.7 579.6,166.8 579.6,166.8 579.7,166.8 579.7,166.8 579.8,166.8 579.8,166.8 579.9,166.8 579.9,166.8 580,166.8 580,166.8 580.1,166.8 580.1,166.9 580.2,166.9 580.2,166.9 580.3,166.9 580.3,166.9 580.4,166.9 580.4,166.9 580.5,166.9 580.5,166.9 580.6,166.9 580.6,166.9 580.7,166.9 580.7,166.9 580.8,166.9 580.8,166.9 580.9,166.9 580.9,166.9 581,166.9 581,166.9 581.1,166.9 581.1,166.9 581.2,166.9 581.2,166.9 581.3,166.9 581.3,166.9 581.4,166.9 581.4,166.9 581.5,166.9 581.5,166.9 581.6,166.9 581.6,166.9 581.7,166.9 581.7,166.9 581.8,166.9 581.8,166.9 581.9,166.9 581.9,166.9 582,166.9 582,166.9 582.1,166.9 582.1,166.9 582.2,166.9 582.2,166.9 582.3,166.9 582.3,166.9 582.4,166.9 582.4,166.9 582.5,166.9 582.5,166.9 582.6,166.9 582.6,166.9 582.7,166.9 582.7,166.9 582.8,166.8 582.8,166.8 582.9,166.8 582.9,166.8 583,166.8 583,166.8 583.1,166.8 583.1,166.8 583.2,166.7 583.2,166.7 583.3,166.7 583.3,166.7 583.4,166.7 583.4,166.6 583.5,166.6 583.5,166.6 583.6,166.5 583.6,166.5 583.7,166.5 583.7,166.4 583.8,166.4 583.8,166.3 583.9,166.2 583.9,166.2 584,166.1 584,166 584.1,165.9 584.1,165.8 584.2,165.7 584.2,165.6 584.3,165.4 584.3,165.3 584.4,165.1 584.4,164.9 584.5,164.8 584.5,164.6 584.6,164.3 584.6,164.1 584.7,163.9 584.7,163.6 584.8,163.4 584.8,163.1 584.9,162.8 584.9,162.5 585,162.2 585,161.8 585.1,161.5 585.1,161.1 585.2,160.8 585.2,160.4 585.3,160.1 585.3,159.7 585.4,159.4 585.4,159 585.5,158.7 585.5,158.4 585.6,158.2 585.6,157.9 585.7,157.8 585.7,157.6 585.8,157.5 585.8,157.5 585.9,157.5 585.9,157.6 586,157.8 586,157.9 586.1,158.2 586.1,158.4 586.2,158.7 586.2,159 586.3,159.4 586.3,159.7 586.4,160.1 586.4,160.4 586.5,160.8 586.5,161.1 586.6,161.5 586.6,161.8 586.7,162.2 586.7,162.5 586.8,162.8 586.8,163.1 586.9,163.3 586.9,163.6 587,163.9 587,164.1 587.1,164.3 587.1,164.5 587.2,164.7 587.2,164.9 587.3,165.1 587.3,165.3 587.4,165.4 587.4,165.5 587.5,165.7 587.5,165.8 587.6,165.9 587.6,166 587.7,166.1 587.7,166.1 587.8,166.2 587.8,166.3 587.9,166.3 587.9,166.4 588,166.4 588,166.5 588.1,166.5 588.1,166.6 588.2,166.6 588.2,166.6 588.3,166.7 588.3,166.7 588.4,166.7 588.4,166.7 588.5,166.7 588.5,166.8 588.6,166.8 588.6,166.8 588.7,166.8 588.7,166.8 588.8,166.8 588.8,166.8 588.9,166.8 588.9,166.8 589,166.9 589,166.9 589.1,166.9 589.1,166.9 589.2,166.9 589.2,166.9 589.3,166.9 589.3,166.9 589.4,166.9 589.4,166.9 589.5,166.9 589.5,166.9 589.6,166.9 589.6,166.9 589.7,166.9 589.7,166.9 589.8,166.9 589.8,166.9 589.9,166.9 589.9,166.9 590,167 590,167 590.1,167 590.1,167 590.2,167 590.2,167 590.3,167 590.3,167 590.4,167 590.4,167 590.5,167 590.5,167 590.6,167 590.6,167 590.7,167 590.7,167 590.8,167 590.8,167 590.9,167 590.9,167 591,167 591,167 591.1,167 591.1,167 591.2,167 591.2,167 591.3,167 591.3,167 591.4,167 591.4,167 591.5,167 591.5,167 591.6,167 591.6,167 591.7,167 591.7,167 591.8,167 591.8,167 591.9,167 591.9,167 592,167 592,167 592.1,167 592.1,167 592.2,167 592.2,167 592.3,167 592.3,167 592.4,166.9 592.4,166.9 592.5,166.9 592.5,166.9 592.6,166.9 592.6,166.9 592.7,166.9 592.7,166.9 592.8,166.9 592.8,166.9 592.9,166.9 592.9,166.9 593,166.9 593,166.9 593.1,166.9 593.1,166.9 593.2,166.9 593.2,166.9 593.3,166.9 593.3,166.9 593.4,166.9 593.4,166.9 593.5,166.9 593.5,166.9 593.6,166.9 593.6,166.9 593.7,166.9 593.7,166.9 593.8,166.9 593.8,166.9 593.9,166.9 593.9,166.9 594,166.9 594,166.9 594.1,166.9 594.1,166.9 594.2,166.8 594.2,166.8 594.3,166.8 594.3,166.8 594.4,166.8 594.4,166.8 594.5,166.8 594.5,166.8 594.6,166.8 594.6,166.8 594.7,166.8 594.7,166.8 594.8,166.8 594.8,166.8 594.9,166.8 594.9,166.8 595,166.8 595,166.8 595.1,166.8 595.1,166.7 595.2,166.7 595.2,166.7 595.3,166.7 595.3,166.7 595.4,166.7 595.4,166.7 595.5,166.7 595.5,166.7 595.6,166.7 595.6,166.7 595.7,166.7 595.7,166.7 595.8,166.7 595.8,166.6 595.9,166.6 595.9,166.6 596,166.6 596,166.6 596.1,166.6 596.1,166.6 596.2,166.6 596.2,166.6 596.3,166.5 596.3,166.5 596.4,166.5 596.4,166.5 596.5,166.5 596.5,166.5 596.6,166.5 596.6,166.5 596.7,166.4 596.7,166.4 596.8,166.4 596.8,166.4 596.9,166.4 596.9,166.4 597,166.3 597,166.3 597.1,166.3 597.1,166.3 597.2,166.3 597.2,166.2 597.3,166.2 597.3,166.2 597.4,166.2 597.4,166.1 597.5,166.1 597.5,166.1 597.6,166 597.6,166 597.7,165.9 597.7,165.9 597.8,165.9 597.8,165.8 597.9,165.7 597.9,165.7 598,165.6 598,165.5 598.1,165.5 598.1,165.4 598.2,165.3 598.2,165.2 598.3,165.1 598.3,164.9 598.4,164.8 598.4,164.6 598.5,164.5 598.5,164.3 598.6,164.1 598.6,163.9 598.7,163.6 598.7,163.4 598.8,163.1 598.8,162.8 598.9,162.4 598.9,162.1 599,161.7 599,161.3 599.1,160.8 599.1,160.4 599.2,159.9 599.2,159.3 599.3,158.8 599.3,158.2 599.4,157.6 599.4,156.9 599.5,156.3 599.5,155.6 599.6,154.8 599.6,154.1 599.7,153.3 599.7,152.6 599.8,151.8 599.8,151 599.9,150.2 599.9,149.4 600,148.6 600,147.9 600.1,147.2 600.1,146.5 600.2,146 600.2,145.5 600.3,145.1 600.3,144.8 600.4,144.6 600.4,144.5 600.5,144.6 600.5,144.7 600.6,145 600.6,145.4 600.7,145.9 600.7,146.5 600.8,147.1 600.8,147.8 600.9,148.5 600.9,149.2 601,150 601,150.8 601.1,151.6 601.1,152.3 601.2,153.1 601.2,153.8 601.3,154.6 601.3,155.3 601.4,155.9 601.4,156.6 601.5,157.2 601.5,157.8 601.6,158.4 601.6,158.9 601.7,159.4 601.7,159.9 601.8,160.4 601.8,160.8 601.9,161.2 601.9,161.5 602,161.9 602,162.2 602.1,162.5 602.1,162.7 602.2,163 602.2,163.2 602.3,163.4 602.3,163.5 602.4,163.7 602.4,163.8 602.5,164 602.5,164.1 602.6,164.2 602.6,164.2 602.7,164.3 602.7,164.4 602.8,164.4 602.8,164.5 602.9,164.5 602.9,164.5 603,164.5 603,164.5 603.1,164.5 603.1,164.5 603.2,164.5 603.2,164.5 603.3,164.5 603.3,164.4 603.4,164.4 603.4,164.3 603.5,164.3 603.5,164.2 603.6,164.1 603.6,164 603.7,163.9 603.7,163.8 603.8,163.7 603.8,163.5 603.9,163.3 603.9,163.1 604,162.9 604,162.7 604.1,162.5 604.1,162.2 604.2,161.9 604.2,161.5 604.3,161.2 604.3,160.7 604.4,160.3 604.4,159.8 604.5,159.3 604.5,158.8 604.6,158.2 604.6,157.5 604.7,156.9 604.7,156.1 604.8,155.4 604.8,154.5 604.9,153.7 604.9,152.8 605,151.8 605,150.8 605.1,149.8 605.1,148.7 605.2,147.6 605.2,146.5 605.3,145.3 605.3,144.1 605.4,142.9 605.4,141.7 605.5,140.5 605.5,139.3 605.6,138.2 605.6,137 605.7,136 605.7,135 605.8,134.1 605.8,133.4 605.9,132.7 605.9,132.3 606,132 606,131.9 606.1,132 606.1,132.2 606.2,132.7 606.2,133.3 606.3,134 606.3,134.9 606.4,135.8 606.4,136.9 606.5,138 606.5,139.1 606.6,140.3 606.6,141.4 606.7,142.6 606.7,143.8 606.8,144.9 606.8,146.1 606.9,147.2 606.9,148.2 607,149.3 607,150.2 607.1,151.2 607.1,152 607.2,152.9 607.2,153.7 607.3,154.4 607.3,155.1 607.4,155.7 607.4,156.3 607.5,156.8 607.5,157.2 607.6,157.6 607.6,158 607.7,158.3 607.7,158.5 607.8,158.7 607.8,158.9 607.9,159 607.9,159 608,159.1 608,159 608.1,159 608.1,158.9 608.2,158.7 608.2,158.5 608.3,158.3 608.3,158.1 608.4,157.8 608.4,157.5 608.5,157.1 608.5,156.8 608.6,156.4 608.6,156 608.7,155.6 608.7,155.2 608.8,154.8 608.8,154.4 608.9,154 608.9,153.6 609,153.2 609,152.9 609.1,152.6 609.1,152.3 609.2,152.1 609.2,152 609.3,151.9 609.3,151.9 609.4,152 609.4,152.1 609.5,152.3 609.5,152.6 609.6,152.9 609.6,153.3 609.7,153.7 609.7,154.1 609.8,154.6 609.8,155.1 609.9,155.6 609.9,156.1 610,156.6 610,157.1 610.1,157.6 610.1,158 610.2,158.5 610.2,159 610.3,159.4 610.3,159.8 610.4,160.3 610.4,160.7 610.5,161 610.5,161.4 610.6,161.7 610.6,162.1 610.7,162.4 610.7,162.6 610.8,162.9 610.8,163.2 610.9,163.4 610.9,163.6 611,163.8 611,164 611.1,164.2 611.1,164.4 611.2,164.5 611.2,164.6 611.3,164.8 611.3,164.9 611.4,165 611.4,165.1 611.5,165.2 611.5,165.3 611.6,165.3 611.6,165.4 611.7,165.5 611.7,165.5 611.8,165.6 611.8,165.6 611.9,165.7 611.9,165.7 612,165.8 612,165.8 612.1,165.8 612.1,165.8 612.2,165.9 612.2,165.9 612.3,165.9 612.3,165.9 612.4,166 612.4,166 612.5,166 612.5,166 612.6,166 612.6,166.1 612.7,166.1 612.7,166.1 612.8,166.1 612.8,166.1 612.9,166.1 612.9,166.1 613,166.2 613,166.2 613.1,166.2 613.1,166.2 613.2,166.2 613.2,166.2 613.3,166.2 613.3,166.2 613.4,166.2 613.4,166.2 613.5,166.3 613.5,166.3 613.6,166.3 613.6,166.3 613.7,166.3 613.7,166.3 613.8,166.3 613.8,166.3 613.9,166.3 613.9,166.3 614,166.3 614,166.3 614.1,166.3 614.1,166.3 614.2,166.3 614.2,166.3 614.3,166.4 614.3,166.4 614.4,166.4 614.4,166.4 614.5,166.4 614.5,166.4 614.6,166.4 614.6,166.4 614.7,166.4 614.7,166.4 614.8,166.4 614.8,166.4 614.9,166.4 614.9,166.4 615,166.4 615,166.4 615.1,166.4 615.1,166.4 615.2,166.4 615.2,166.4 615.3,166.4 615.3,166.4 615.4,166.4 615.4,166.4 615.5,166.4 615.5,166.4 615.6,166.4 615.6,166.4 615.7,166.4 615.7,166.4 615.8,166.4 615.8,166.4 615.9,166.4 615.9,166.4 616,166.4 616,166.5 616.1,166.5 616.1,166.5 616.2,166.5 616.2,166.5 616.3,166.5 616.3,166.5 616.4,166.5 616.4,166.5 616.5,166.5 616.5,166.5 616.6,166.5 616.6,166.5 616.7,166.5 616.7,166.5 616.8,166.5 616.8,166.5 616.9,166.5 616.9,166.5 617,166.5 617,166.5 617.1,166.5 617.1,166.5 617.2,166.5 617.2,166.5 617.3,166.5 617.3,166.5 617.4,166.5 617.4,166.5 617.5,166.5 617.5,166.5 617.6,166.5 617.6,166.5 617.7,166.5 617.7,166.5 617.8,166.5 617.8,166.5 617.9,166.5 617.9,166.5 618,166.5 618,166.5 618.1,166.5 618.1,166.5 618.2,166.5 618.2,166.5 618.3,166.5 618.3,166.5 618.4,166.5 618.4,166.5 618.5,166.5 618.5,166.5 618.6,166.5 618.6,166.5 618.7,166.5 618.7,166.5 618.8,166.4 618.8,166.4 618.9,166.4 618.9,166.4 619,166.4 619,166.4 619.1,166.4 619.1,166.4 619.2,166.4 619.2,166.4 619.3,166.4 619.3,166.4 619.4,166.4 619.4,166.4 619.5,166.4 619.5,166.4 619.6,166.4 619.6,166.4 619.7,166.4 619.7,166.4 619.8,166.4 619.8,166.4 619.9,166.4 619.9,166.4 620,166.4 620,166.4 620.1,166.4 620.1,166.4 620.2,166.4 620.2,166.4 620.3,166.4 620.3,166.4 620.4,166.4 620.4,166.4 620.5,166.4 620.5,166.4 620.6,166.4 620.6,166.4 620.7,166.4 620.7,166.4 620.8,166.4 620.8,166.4 620.9,166.3 620.9,166.3 621,166.3 621,166.3 621.1,166.3 621.1,166.3 621.2,166.3 621.2,166.3 621.3,166.3 621.3,166.3 621.4,166.3 621.4,166.3 621.5,166.3 621.5,166.3 621.6,166.3 621.6,166.3 621.7,166.3 621.7,166.3 621.8,166.3 621.8,166.2 621.9,166.2 621.9,166.2 622,166.2 622,166.2 622.1,166.2 622.1,166.2 622.2,166.2 622.2,166.2 622.3,166.2 622.3,166.2 622.4,166.2 622.4,166.1 622.5,166.1 622.5,166.1 622.6,166.1 622.6,166.1 622.7,166.1 622.7,166.1 622.8,166.1 622.8,166 622.9,166 622.9,166 623,166 623,166 623.1,166 623.1,165.9 623.2,165.9 623.2,165.9 623.3,165.9 623.3,165.9 623.4,165.8 623.4,165.8 623.5,165.8 623.5,165.7 623.6,165.7 623.6,165.7 623.7,165.6 623.7,165.6 623.8,165.5 623.8,165.5 623.9,165.4 623.9,165.3 624,165.3 624,165.2 624.1,165.1 624.1,165 624.2,164.9 624.2,164.8 624.3,164.7 624.3,164.5 624.4,164.4 624.4,164.2 624.5,164.1 624.5,163.9 624.6,163.7 624.6,163.5 624.7,163.2 624.7,163 624.8,162.7 624.8,162.4 624.9,162.1 624.9,161.8 625,161.4 625,161.1 625.1,160.7 625.1,160.3 625.2,159.9 625.2,159.4 625.3,159 625.3,158.5 625.4,158 625.4,157.5 625.5,156.9 625.5,156.4 625.6,155.8 625.6,155.3 625.7,154.7 625.7,154.2 625.8,153.6 625.8,153 625.9,152.5 625.9,152 626,151.5 626,151.1 626.1,150.7 626.1,150.3 626.2,150.1 626.2,149.9 626.3,149.7 626.3,149.7 626.4,149.7 626.4,149.9 626.5,150.1 626.5,150.3 626.6,150.7 626.6,151.1 626.7,151.5 626.7,152 626.8,152.5 626.8,153 626.9,153.6 626.9,154.1 627,154.7 627,155.3 627.1,155.8 627.1,156.4 627.2,156.9 627.2,157.4 627.3,157.9 627.3,158.4 627.4,158.9 627.4,159.4 627.5,159.8 627.5,160.2 627.6,160.6 627.6,161 627.7,161.4 627.7,161.7 627.8,162.1 627.8,162.4 627.9,162.6 627.9,162.9 628,163.2 628,163.4 628.1,163.6 628.1,163.8 628.2,164 628.2,164.2 628.3,164.3 628.3,164.5 628.4,164.6 628.4,164.7 628.5,164.8 628.5,164.9 628.6,165 628.6,165.1 628.7,165.2 628.7,165.2 628.8,165.3 628.8,165.4 628.9,165.4 628.9,165.5 629,165.5 629,165.6 629.1,165.6 629.1,165.6 629.2,165.7 629.2,165.7 629.3,165.7 629.3,165.7 629.4,165.8 629.4,165.8 629.5,165.8 629.5,165.8 629.6,165.8 629.6,165.8 629.7,165.9 629.7,165.9 629.8,165.9 629.8,165.9 629.9,165.9 629.9,165.9 630,165.9 630,165.9 630.1,166 630.1,166 630.2,166 630.2,166 630.3,166 630.3,166 630.4,166 630.4,166 630.5,166 630.5,166 630.6,166 630.6,166 630.7,166 630.7,166 630.8,166.1 630.8,166.1 630.9,166.1 630.9,166.1 631,166.1 631,166.1 631.1,166.1 631.1,166.1 631.2,166.1 631.2,166.1 631.3,166.1 631.3,166.1 631.4,166.1 631.4,166.1 631.5,166.1 631.5,166.1 631.6,166.1 631.6,166.1 631.7,166.1 631.7,166.1 631.8,166.1 631.8,166.1 631.9,166.1 631.9,166.1 632,166.1 632,166.1 632.1,166.1 632.1,166.1 632.2,166.1 632.2,166.1 632.3,166.1 632.3,166.1 632.4,166.1 632.4,166.1 632.5,166.1 632.5,166.1 632.6,166.1 632.6,166.1 632.7,166.1 632.7,166.1 632.8,166.1 632.8,166.1 632.9,166.1 632.9,166.1 633,166.1 633,166.1 633.1,166.1 633.1,166.1 633.2,166.1 633.2,166.1 633.3,166.1 633.3,166.1 633.4,166.1 633.4,166.1 633.5,166.1 633.5,166.1 633.6,166.1 633.6,166.1 633.7,166.1 633.7,166.1 633.8,166.1 633.8,166.1 633.9,166.1 633.9,166.1 634,166.1 634,166.1 634.1,166.1 634.1,166.1 634.2,166.1 634.2,166 634.3,166 634.3,166 634.4,166 634.4,166 634.5,166 634.5,166 634.6,166 634.6,166 634.7,166 634.7,166 634.8,166 634.8,166 634.9,166 634.9,166 635,166 635,166 635.1,166 635.1,165.9 635.2,165.9 635.2,165.9 635.3,165.9 635.3,165.9 635.4,165.9 635.4,165.9 635.5,165.9 635.5,165.9 635.6,165.9 635.6,165.9 635.7,165.9 635.7,165.8 635.8,165.8 635.8,165.8 635.9,165.8 635.9,165.8 636,165.8 636,165.8 636.1,165.7 636.1,165.7 636.2,165.7 636.2,165.7 636.3,165.7 636.3,165.7 636.4,165.6 636.4,165.6 636.5,165.6 636.5,165.6 636.6,165.6 636.6,165.5 636.7,165.5 636.7,165.5 636.8,165.4 636.8,165.4 636.9,165.4 636.9,165.3 637,165.3 637,165.2 637.1,165.2 637.1,165.1 637.2,165.1 637.2,165 637.3,164.9 637.3,164.8 637.4,164.7 637.4,164.6 637.5,164.5 637.5,164.4 637.6,164.3 637.6,164.1 637.7,164 637.7,163.8 637.8,163.7 637.8,163.5 637.9,163.3 637.9,163 638,162.8 638,162.5 638.1,162.2 638.1,162 638.2,161.6 638.2,161.3 638.3,160.9 638.3,160.6 638.4,160.2 638.4,159.7 638.5,159.3 638.5,158.8 638.6,158.3 638.6,157.8 638.7,157.3 638.7,156.7 638.8,156.2 638.8,155.6 638.9,155 638.9,154.4 639,153.8 639,153.2 639.1,152.5 639.1,151.9 639.2,151.3 639.2,150.7 639.3,150.1 639.3,149.5 639.4,149 639.4,148.5 639.5,148.1 639.5,147.7 639.6,147.4 639.6,147.2 639.7,147 639.7,147 639.8,147 639.8,147.2 639.9,147.4 639.9,147.7 640,148.1 640,148.5 640.1,149 640.1,149.5 640.2,150.1 640.2,150.6 640.3,151.3 640.3,151.9 640.4,152.5 640.4,153.1 640.5,153.8 640.5,154.4 640.6,155 640.6,155.6 640.7,156.2 640.7,156.7 640.8,157.3 640.8,157.8 640.9,158.3 640.9,158.8 641,159.3 641,159.7 641.1,160.1 641.1,160.5 641.2,160.9 641.2,161.3 641.3,161.6 641.3,161.9 641.4,162.2 641.4,162.5 641.5,162.7 641.5,163 641.6,163.2 641.6,163.4 641.7,163.6 641.7,163.8 641.8,163.9 641.8,164.1 641.9,164.2 641.9,164.4 642,164.5 642,164.6 642.1,164.7 642.1,164.8 642.2,164.8 642.2,164.9 642.3,165 642.3,165 642.4,165.1 642.4,165.2 642.5,165.2 642.5,165.2 642.6,165.3 642.6,165.3 642.7,165.4 642.7,165.4 642.8,165.4 642.8,165.4 642.9,165.5 642.9,165.5 643,165.5 643,165.5 643.1,165.6 643.1,165.6 643.2,165.6 643.2,165.6 643.3,165.6 643.3,165.6 643.4,165.7 643.4,165.7 643.5,165.7 643.5,165.7 643.6,165.7 643.6,165.7 643.7,165.7 643.7,165.7 643.8,165.8 643.8,165.8 643.9,165.8 643.9,165.8 644,165.8 644,165.8 644.1,165.8 644.1,165.8 644.2,165.8 644.2,165.8 644.3,165.8 644.3,165.8 644.4,165.8 644.4,165.9 644.5,165.9 644.5,165.9 644.6,165.9 644.6,165.9 644.7,165.9 644.7,165.9 644.8,165.9 644.8,165.9 644.9,165.9 644.9,165.9 645,165.9 645,165.9 645.1,165.9 645.1,165.9 645.2,165.9 645.2,165.9 645.3,165.9 645.3,165.9 645.4,165.9 645.4,165.9 645.5,165.9 645.5,165.9 645.6,165.9 645.6,166 645.7,166 645.7,166 645.8,166 645.8,166 645.9,166 645.9,166 646,166 646,166 646.1,166 646.1,166 646.2,166 646.2,166 646.3,166 646.3,166 646.4,166 646.4,166 646.5,166 646.5,166 646.6,166 646.6,166 646.7,166 646.7,166 646.8,166 646.8,166 646.9,166 646.9,166 647,166 647,166 647.1,166 647.1,166 647.2,166 647.2,166 647.3,166 647.3,166 647.4,166 647.4,166 647.5,166 647.5,166 647.6,166 647.6,166 647.7,166 647.7,166 647.8,166 647.8,166 647.9,166 647.9,166 648,166 648,166 648.1,166 648.1,166 648.2,166 648.2,166" fill="none" stroke="#e0262a" stroke-width="1.15" stroke-linejoin="round"/>
<path d="M372.3 178.7V188.4M399 178.7V188.4M406.5 178.7V188.4M408.8 178.7V188.4M419.5 178.7V188.4M439 178.7V188.4M443.5 178.7V188.4M448.3 178.7V188.4M456.3 178.7V188.4M461.3 178.7V188.4M467 178.7V188.4M478.4 178.7V188.4M481.9 178.7V188.4M496.3 178.7V188.4M497 178.7V188.4M497.7 178.7V188.4M498.4 178.7V188.4M501.2 178.7V188.4M502 178.7V188.4M502.8 178.7V188.4M503.6 178.7V188.4M504.4 178.7V188.4M520 178.7V188.4M521 178.7V188.4M522 178.7V188.4M523 178.7V188.4M524 178.7V188.4M526.5 178.7V188.4M532 178.7V188.4M535.7 178.7V188.4M542 178.7V188.4M545.5 178.7V188.4M551.5 178.7V188.4M554.5 178.7V188.4M558.2 178.7V188.4M564.9 178.7V188.4M575 178.7V188.4M579 178.7V188.4M580 178.7V188.4M581.1 178.7V188.4M582.1 178.7V188.4M583.1 178.7V188.4M584.2 178.7V188.4M585.2 178.7V188.4M588 178.7V188.4M589 178.7V188.4M590.1 178.7V188.4M591.1 178.7V188.4M592.1 178.7V188.4M593.2 178.7V188.4M594.2 178.7V188.4M596.9 178.7V188.4M597.8 178.7V188.4M598.8 178.7V188.4M599.7 178.7V188.4M600.6 178.7V188.4M601.6 178.7V188.4M602.5 178.7V188.4M605.2 178.7V188.4M606.3 178.7V188.4M607.4 178.7V188.4M608.5 178.7V188.4M609.6 178.7V188.4M610.8 178.7V188.4M611.9 178.7V188.4M613 178.7V188.4M614.1 178.7V188.4M615.2 178.7V188.4M624.3 178.7V188.4M630 178.7V188.4M636.6 178.7V188.4M637.5 178.7V188.4M638.3 178.7V188.4M639.2 178.7V188.4M642 178.7V188.4M643 178.7V188.4M643.9 178.7V188.4M644.9 178.7V188.4M645.8 178.7V188.4" stroke="#178617" stroke-width="2.1"/>
<polyline points="356.2,206.9 356.7,207.5 357.2,207.1 357.7,207.4 358.2,206.1 358.7,207 359.2,207.1 359.7,206.6 360.2,207.3 360.7,206.7 361.2,206.5 361.7,206.9 362.2,205.9 362.7,205.7 363.2,206.5 363.7,205.3 364.2,207.2 364.7,206.3 365.2,207.5 365.7,206.7 366.2,206.2 366.7,206.3 367.2,207 367.7,207.2 368.2,206.5 368.7,205.8 369.2,206.7 369.7,207 370.2,207 370.7,205.9 371.2,200.8 371.7,211 372.2,207.7 372.7,206.6 373.2,205.9 373.7,207 374.2,204.7 374.7,206.7 375.2,206.3 375.7,207.6 376.2,206.3 376.7,205.9 377.2,208.1 377.7,206.8 378.2,206.6 378.7,206.2 379.2,206.1 379.7,205.6 380.2,207 380.7,206.1 381.2,207.1 381.7,206.9 382.2,207.2 382.7,206.4 383.2,206.7 383.7,206.3 384.2,206.4 384.7,206.1 385.2,205.2 385.7,206.7 386.2,205.9 386.7,208 387.2,206.6 387.7,205.6 388.2,206.5 388.7,207 389.2,206.9 389.7,206.2 390.2,206.8 390.7,206.7 391.2,206.4 391.7,206.5 392.2,206.8 392.7,206.6 393.2,206.9 393.7,207.2 394.2,207.4 394.7,206 395.2,206.4 395.7,206.8 396.2,206.8 396.7,206.2 397.2,206.5 397.7,199.6 398.2,214.7 398.7,207 399.2,206.3 399.7,205.5 400.2,206.4 400.7,206.5 401.2,206.5 401.7,207.2 402.2,206 402.7,206.9 403.2,207.6 403.7,205.9 404.2,206.5 404.7,206.6 405.2,207 405.7,207 406.2,206.3 406.7,206.2 407.2,208.5 407.7,206.7 408.2,206.9 408.7,206.8 409.2,206.6 409.7,206.3 410.2,206.4 410.7,206.5 411.2,207.4 411.7,205.8 412.2,206.3 412.7,206.4 413.2,206.1 413.7,207.1 414.2,206.5 414.7,206.3 415.2,206.3 415.7,207.1 416.2,206.9 416.7,206.3 417.2,206.8 417.7,206.7 418.2,207.5 418.7,206 419.2,205.5 419.7,206.3 420.2,206.2 420.7,206.1 421.2,206.6 421.7,206.8 422.2,206.7 422.7,206.7 423.2,206.2 423.7,207.6 424.2,206.3 424.7,206 425.2,206.6 425.7,206.9 426.2,205.5 426.7,207 427.2,206.8 427.7,206.7 428.2,206.6 428.7,207.6 429.2,207.7 429.7,205.9 430.2,206.4 430.7,206.2 431.2,206.5 431.7,206 432.2,205.9 432.7,206.3 433.2,206.4 433.7,207.1 434.2,207.1 434.7,207 435.2,206.9 435.7,207.5 436.2,206.1 436.7,206.4 437.2,207 437.7,206.1 438.2,207 438.7,206.1 439.2,202.4 439.7,209.2 440.2,207 440.7,206.2 441.2,206.7 441.7,207 442.2,207 442.7,206.6 443.2,205.9 443.7,202.4 444.2,208.6 444.7,207.1 445.2,206.4 445.7,207.2 446.2,206.5 446.7,206.6 447.2,206 447.7,206.7 448.2,205.3 448.7,208.7 449.2,206.8 449.7,206.1 450.2,207.5 450.7,205.9 451.2,207.5 451.7,206.4 452.2,205.2 452.7,206.7 453.2,206.5 453.7,206 454.2,205.8 454.7,206.8 455.2,206.6 455.7,206.5 456.2,204.4 456.7,209.1 457.2,206.3 457.7,205.7 458.2,206.4 458.7,206.9 459.2,206.9 459.7,206.9 460.2,206.4 460.7,206.9 461.2,203.4 461.7,208.4 462.2,208 462.7,207 463.2,206.7 463.7,207 464.2,207.6 464.7,206.6 465.2,206.9 465.7,207.1 466.2,206.6 466.7,207.1 467.2,187.7 467.7,213.5 468.2,206.5 468.7,206.8 469.2,207.6 469.7,208 470.2,207.2 470.7,206.9 471.2,207.2 471.7,205.2 472.2,206.6 472.7,207.4 473.2,206.5 473.7,207.6 474.2,207.5 474.7,206.6 475.2,206.9 475.7,207.1 476.2,207.4 476.7,206.5 477.2,205.6 477.7,206.7 478.2,208.3 478.7,203.1 479.2,209.3 479.7,206.5 480.2,206.9 480.7,208 481.2,207.5 481.7,205.8 482.2,203.6 482.7,208.7 483.2,206.6 483.7,206.4 484.2,206 484.7,205.8 485.2,206.5 485.7,206.9 486.2,206.5 486.7,206.5 487.2,207.7 487.7,206.5 488.2,207 488.7,207 489.2,206.3 489.7,207.6 490.2,205.8 490.7,206.3 491.2,206.7 491.7,207.3 492.2,207.5 492.7,206.1 493.2,206.5 493.7,205.8 494.2,205.9 494.7,207.6 495.2,206.9 495.7,207 496.2,206 496.7,206.7 497.2,201.3 497.7,209.7 498.2,206.8 498.7,207.7 499.2,206.7 499.7,206.8 500.2,207.1 500.7,208.1 501.2,207.4 501.7,207.3 502.2,206.3 502.7,204.7 503.2,208.5 503.7,206 504.2,207.1 504.7,206.4 505.2,206.9 505.7,206.1 506.2,206.8 506.7,205.5 507.2,206.6 507.7,207.5 508.2,206.4 508.7,206.2 509.2,206.8 509.7,206.3 510.2,206.5 510.7,206.9 511.2,206.4 511.7,206.3 512.2,205.4 512.7,205.7 513.2,206.1 513.7,206.8 514.2,206.9 514.7,206.8 515.2,206.4 515.7,206.7 516.2,206.7 516.7,207.6 517.2,206.6 517.7,206.2 518.2,206.4 518.7,207 519.2,207 519.7,206.2 520.2,207 520.7,206.3 521.2,207.7 521.7,206.6 522.2,204.4 522.7,207.4 523.2,207.5 523.7,206.1 524.2,206.7 524.7,206.4 525.2,205.3 525.7,206.6 526.2,206.4 526.7,206.5 527.2,206.3 527.7,206.4 528.2,207.3 528.7,206.8 529.2,207.1 529.7,206.3 530.2,206.4 530.7,206.1 531.2,206.8 531.7,206.4 532.2,206.4 532.7,206.4 533.2,203.2 533.7,207.2 534.2,208 534.7,207.4 535.2,206.7 535.7,207.4 536.2,207.9 536.7,206.9 537.2,207 537.7,206.7 538.2,207 538.7,207.3 539.2,206.7 539.7,206.8 540.2,206.5 540.7,206.1 541.2,207.4 541.7,207.2 542.2,207.5 542.7,206 543.2,206.9 543.7,207 544.2,207.5 544.7,206.9 545.2,206.5 545.7,206.8 546.2,207.5 546.7,206.5 547.2,206.8 547.7,206.7 548.2,206.9 548.7,207 549.2,206.2 549.7,207.9 550.2,206.1 550.7,206.1 551.2,206.7 551.7,207.3 552.2,207.4 552.7,207.9 553.2,206.8 553.7,206.3 554.2,206 554.7,206.4 555.2,206.9 555.7,206.6 556.2,205.3 556.7,206.6 557.2,206.9 557.7,206.1 558.2,206.1 558.7,206 559.2,207.3 559.7,207.6 560.2,207.2 560.7,206.3 561.2,206.3 561.7,207.7 562.2,207.9 562.7,207.4 563.2,206.6 563.7,205.7 564.2,207 564.7,207.5 565.2,206.6 565.7,206.1 566.2,206.8 566.7,206.8 567.2,206.4 567.7,206.5 568.2,205.4 568.7,206.5 569.2,205.5 569.7,206.2 570.2,206.1 570.7,206.5 571.2,207.2 571.7,206.1 572.2,206.7 572.7,205.8 573.2,206.6 573.7,206.5 574.2,206.3 574.7,206.2 575.2,206.1 575.7,205.5 576.2,203.7 576.7,207.5 577.2,206.9 577.7,206 578.2,207.2 578.7,207 579.2,206.5 579.7,207.3 580.2,206.4 580.7,205.5 581.2,206.2 581.7,206.6 582.2,206.5 582.7,205.8 583.2,207 583.7,206.2 584.2,207.3 584.7,206.7 585.2,205.5 585.7,208.7 586.2,206.4 586.7,207.4 587.2,206.5 587.7,206.8 588.2,207.3 588.7,206.8 589.2,207.3 589.7,207.2 590.2,207 590.7,206.4 591.2,205.7 591.7,206.2 592.2,206.2 592.7,207.4 593.2,206.7 593.7,206.8 594.2,206.5 594.7,205.7 595.2,206.3 595.7,206.9 596.2,207.3 596.7,207.7 597.2,207.3 597.7,207.5 598.2,206.4 598.7,207.2 599.2,207.1 599.7,205.9 600.2,204.7 600.7,208.6 601.2,207.5 601.7,206.7 602.2,205.8 602.7,206.7 603.2,208 603.7,205.8 604.2,206.6 604.7,206.9 605.2,206.6 605.7,206.9 606.2,203 606.7,208.4 607.2,206.4 607.7,206.8 608.2,206.1 608.7,205.7 609.2,207.2 609.7,207.4 610.2,207.1 610.7,206.8 611.2,207.2 611.7,206.5 612.2,206.9 612.7,206 613.2,205.8 613.7,206.4 614.2,206.7 614.7,206.9 615.2,207 615.7,205.9 616.2,207 616.7,207.3 617.2,206.4 617.7,206.2 618.2,206.1 618.7,206.9 619.2,205.9 619.7,207.3 620.2,206.8 620.7,206.4 621.2,206.9 621.7,207.2 622.2,206.4 622.7,205.9 623.2,206.4 623.7,206.1 624.2,207 624.7,206.9 625.2,207.5 625.7,206.7 626.2,205 626.7,207.6 627.2,205.7 627.7,205.8 628.2,204.8 628.7,206.7 629.2,205.2 629.7,207.8 630.2,205.6 630.7,206.5 631.2,206.5 631.7,207.3 632.2,206.2 632.7,206.7 633.2,206.4 633.7,206.8 634.2,206.5 634.7,205.7 635.2,206.2 635.7,206.2 636.2,207 636.7,205.7 637.2,207.7 637.7,206 638.2,206.7 638.7,206.8 639.2,206.7 639.7,202.8 640.2,209.4 640.7,205.7 641.2,206.4 641.7,206.4 642.2,205.9 642.7,207.2 643.2,205.4 643.7,207.2 644.2,206.3 644.7,205.7 645.2,206.8 645.7,206.7 646.2,205.9 646.7,206.5 647.2,207.6 647.7,206.5 648.2,206.5" fill="none" stroke="#1414e6" stroke-width="1.9" stroke-linejoin="round"/>
<rect x="355" y="3.8" width="294.8" height="219.1" fill="none" stroke="#000" stroke-width="2.7"/>
<path d="M354.8 223.9v3.2M384.3 223.9v2.2M413.7 223.9v3.2M443.2 223.9v2.2M472.7 223.9v3.2M502.1 223.9v2.2M531.6 223.9v3.2M561.1 223.9v2.2M590.6 223.9v3.2M620 223.9v2.2M649.5 223.9v3.2" stroke="#000" stroke-width="2.4"/>
<text x="354.8" y="239.6" class="tl">10</text>
<text x="413.7" y="239.6" class="tl">20</text>
<text x="472.7" y="239.6" class="tl">30</text>
<text x="531.6" y="239.6" class="tl">40</text>
<text x="590.6" y="239.6" class="tl">50</text>
<text x="649.5" y="239.6" class="tl">60</text>
<text x="515.5" y="259.6" class="ax" text-anchor="middle">2θ (degrees)</text>
<text transform="translate(343.2,111) rotate(-90)" class="ax" text-anchor="middle" style="font-size:16.2px">Intensity (a.u.)</text>
<!-- legend B -->
<path d="M529.7 15.6l3 3m0 -3l-3 3" stroke="#111" stroke-width="1.2"/>
<text x="549.7" y="21.1" class="lg2">Obs</text>
<line x1="516.7" y1="32.3" x2="545.4" y2="32.3" stroke="#e03c3c" stroke-width="1.1"/>
<text x="549.7" y="37" class="lg2">Cal</text>
<rect x="511.5" y="41.1" width="130" height="16.2" fill="#fff" stroke="#999" stroke-width="0.8"/>
<line x1="530.6" y1="45.4" x2="530.6" y2="54.5" stroke="#1a8a1a" stroke-width="1.8"/>
<text x="549.7" y="54.2" class="lg2">Bragg Position</text>

<!-- ================= PANEL C ================= -->
<text x="18" y="305" style="font-size:25px" transform="translate(18,305) scale(1.0,1) translate(-18,-305)">(c)</text>
<path d="M157 273L173 293L189 277L226 316L264 277L280 293L296.5 273L329 314L314 338L329 363L314 387L329 411L314 436L329 461L296.5 502L280 482L263 498L226 458L190 498L173 482L157 502L125 461L140 436L125 411L140 387L125 363L140 338L125 314Z" fill="#eef4ef"/>
<path d="M174 318H279V456H174Z" fill="#cfc6c6"/>
<circle cx="226.5" cy="436" r="15.5" fill="url(#gNaG)"/><text x="226.5" y="440.2" class="sl" style="font-size:11.8px;fill:#1f5e1f;opacity:1">Na</text>
<circle cx="226.5" cy="393" r="11.5" fill="url(#gMo)"/><text x="226.5" y="397.2" class="sl" style="font-size:11.8px;fill:#000;opacity:1">Mo</text>
<path d="M226.5 321L259.5 363L226.5 405L193.5 363Z" fill="#4fab68" fill-opacity="0.55" stroke="#e8f0ea" stroke-width="0.8" stroke-opacity="0.8"/>
<g opacity="0.8"><circle cx="226.5" cy="376" r="11.8" fill="url(#gMoG)"/><text x="226.5" y="380.2" class="sl" style="font-size:11.8px;fill:#3f9a4c;opacity:1">Mo</text></g>
<path d="M189.8 277.5L226.3 318L189.8 358.5L155 318Z" fill="#e6198a" fill-opacity="0.45" stroke="#f7d2e4" stroke-width="0.8" stroke-opacity="0.8"/>
<path d="M189.8 366.5L226.3 407L189.8 447.5L155 407Z" fill="#e6198a" fill-opacity="0.45" stroke="#f7d2e4" stroke-width="0.8" stroke-opacity="0.8"/>
<path d="M189.8 415.5L226.3 456L189.8 496.5L155 456Z" fill="#e6198a" fill-opacity="0.45" stroke="#f7d2e4" stroke-width="0.8" stroke-opacity="0.8"/>
<path d="M263.5 277.5L298.3 318L263.5 358.5L226.2 318Z" fill="#e6198a" fill-opacity="0.45" stroke="#f7d2e4" stroke-width="0.8" stroke-opacity="0.8"/>
<path d="M263.5 366.5L298.3 407L263.5 447.5L226.2 407Z" fill="#e6198a" fill-opacity="0.45" stroke="#f7d2e4" stroke-width="0.8" stroke-opacity="0.8"/>
<path d="M263.5 415.5L298.3 456L263.5 496.5L226.2 456Z" fill="#e6198a" fill-opacity="0.45" stroke="#f7d2e4" stroke-width="0.8" stroke-opacity="0.8"/>
<path d="M226.4 404.5L243.4 428.5L226.4 452.5L209.4 428.5Z" fill="#9fd6aa" fill-opacity="0.8" stroke="#c8e4cc" stroke-width="0.8" stroke-opacity="0.8"/>
<clipPath id="cpNa"><path d="M226.4 404.5L243.4 428.5L226.4 452.5L209.4 428.5Z"/></clipPath>
<g clip-path="url(#cpNa)" opacity="0.9"><circle cx="226.5" cy="436" r="15.5" fill="url(#gNaG)"/><text x="226.5" y="440.2" class="sl" style="font-size:11.8px;fill:#1f5e1f;opacity:1">Na</text></g>
<circle cx="192.5" cy="319.3" r="16.5" fill="url(#gZn)"/>
<circle cx="260" cy="320" r="16.5" fill="url(#gZn)"/>
<path d="M157 273L189.5 314L157 355L124.5 314Z" fill="#4fab68" fill-opacity="0.6" stroke="#e4efe6" stroke-width="0.8" stroke-opacity="0.8"/>
<path d="M157 322L189.5 363L157 404L124.5 363Z" fill="#4fab68" fill-opacity="0.6" stroke="#e4efe6" stroke-width="0.8" stroke-opacity="0.8"/>
<path d="M157 370L189.5 411L157 452L124.5 411Z" fill="#4fab68" fill-opacity="0.6" stroke="#e4efe6" stroke-width="0.8" stroke-opacity="0.8"/>
<path d="M157 420L189.5 461L157 502L124.5 461Z" fill="#4fab68" fill-opacity="0.6" stroke="#e4efe6" stroke-width="0.8" stroke-opacity="0.8"/>
<path d="M296.5 273L329 314L296.5 355L264 314Z" fill="#4fab68" fill-opacity="0.6" stroke="#e4efe6" stroke-width="0.8" stroke-opacity="0.8"/>
<path d="M296.5 322L329 363L296.5 404L264 363Z" fill="#4fab68" fill-opacity="0.6" stroke="#e4efe6" stroke-width="0.8" stroke-opacity="0.8"/>
<path d="M296.5 370L329 411L296.5 452L264 411Z" fill="#4fab68" fill-opacity="0.6" stroke="#e4efe6" stroke-width="0.8" stroke-opacity="0.8"/>
<path d="M296.5 420L329 461L296.5 502L264 461Z" fill="#4fab68" fill-opacity="0.6" stroke="#e4efe6" stroke-width="0.8" stroke-opacity="0.8"/>
<clipPath id="cpZ0"><circle cx="192" cy="366" r="16.3"/></clipPath>
<circle cx="192" cy="366" r="16.3" fill="url(#gZnG)"/><text x="192" y="370.2" class="sl" style="font-size:11.8px;fill:#2a1a1a;opacity:1">Zn</text>
<g clip-path="url(#cpZ0)"><path d="M189.8 277.5L226.3 318L189.8 358.5L155 318Z" fill="#e6198a" fill-opacity="0.65" stroke="#f7d2e4" stroke-width="0.8" stroke-opacity="0.8"/><path d="M189.8 366.5L226.3 407L189.8 447.5L155 407Z" fill="#e6198a" fill-opacity="0.65" stroke="#f7d2e4" stroke-width="0.8" stroke-opacity="0.8"/></g>
<clipPath id="cpZ1"><circle cx="261" cy="366" r="16.3"/></clipPath>
<circle cx="261" cy="366" r="16.3" fill="url(#gZnG)"/><text x="261" y="370.2" class="sl" style="font-size:11.8px;fill:#2a1a1a;opacity:1">Zn</text>
<g clip-path="url(#cpZ1)"><path d="M263.5 277.5L298.3 318L263.5 358.5L226.2 318Z" fill="#e6198a" fill-opacity="0.65" stroke="#f7d2e4" stroke-width="0.8" stroke-opacity="0.8"/><path d="M263.5 366.5L298.3 407L263.5 447.5L226.2 407Z" fill="#e6198a" fill-opacity="0.65" stroke="#f7d2e4" stroke-width="0.8" stroke-opacity="0.8"/></g>
<circle cx="192.5" cy="406.5" r="16.5" fill="url(#gZn)"/>
<circle cx="261" cy="407" r="16.5" fill="url(#gZn)"/>
<circle cx="191.7" cy="455.5" r="16.5" fill="url(#gZn)"/>
<circle cx="261.4" cy="455.5" r="16.5" fill="url(#gZn)"/>
<path d="M157 295.7H296.7V479.2H157Z" fill="none" stroke="#5a5a5a" stroke-width="1"/>
<g opacity="0.75"><circle cx="156.8" cy="327" r="11.8" fill="url(#gMoG)"/><text x="156.8" y="331.2" class="sl" style="font-size:11.8px;fill:#3f9a4c;opacity:1">Mo</text></g>
<g opacity="0.75"><circle cx="296" cy="328" r="11.8" fill="url(#gMoG)"/><text x="296" y="332.2" class="sl" style="font-size:11.8px;fill:#3f9a4c;opacity:1">Mo</text></g>
<g opacity="0.75"><circle cx="156" cy="424" r="11.8" fill="url(#gMoG)"/><text x="156" y="428.2" class="sl" style="font-size:11.8px;fill:#3f9a4c;opacity:1">Mo</text></g>
<g opacity="0.75"><circle cx="296.5" cy="424" r="11.8" fill="url(#gMoG)"/><text x="296.5" y="428.2" class="sl" style="font-size:11.8px;fill:#3f9a4c;opacity:1">Mo</text></g>
<g opacity="0.85"><circle cx="156.5" cy="386.5" r="15.5" fill="url(#gNaG)"/><text x="156.5" y="390.7" class="sl" style="font-size:11.8px;fill:#1f5e1f;opacity:1">Na</text></g>
<g opacity="0.85"><circle cx="296" cy="387" r="15.5" fill="url(#gNaG)"/><text x="296" y="391.2" class="sl" style="font-size:11.8px;fill:#1f5e1f;opacity:1">Na</text></g>
<circle cx="226.5" cy="339" r="16" fill="url(#gNaY)"/><text x="226.5" y="343.2" class="sl" style="font-size:11.8px;fill:#000;opacity:1">Na</text>
<circle cx="156.8" cy="349" r="11.8" fill="url(#gMo)"/><text x="156.8" y="353.2" class="sl" style="font-size:11.8px;fill:#000;opacity:1" stroke="#fff" stroke-width="2.2" paint-order="stroke">Mo</text>
<circle cx="295.5" cy="349.5" r="11.8" fill="url(#gMo)"/><text x="295.5" y="353.7" class="sl" style="font-size:11.8px;fill:#000;opacity:1" stroke="#fff" stroke-width="2.2" paint-order="stroke">Mo</text>
<circle cx="154.5" cy="446" r="11.8" fill="url(#gMo)"/><text x="154.5" y="450.2" class="sl" style="font-size:11.8px;fill:#000;opacity:1" stroke="#fff" stroke-width="2.2" paint-order="stroke">Mo</text>
<circle cx="296.5" cy="446.5" r="11.8" fill="url(#gMo)"/><text x="296.5" y="450.7" class="sl" style="font-size:11.8px;fill:#000;opacity:1" stroke="#fff" stroke-width="2.2" paint-order="stroke">Mo</text>
<text x="192.5" y="323.5" class="sl" style="font-size:11.8px">Zn</text>
<text x="260" y="324.2" class="sl" style="font-size:11.8px">Zn</text>
<text x="192.5" y="410.7" class="sl" style="font-size:11.8px">Zn</text>
<text x="261" y="411.2" class="sl" style="font-size:11.8px">Zn</text>
<text x="191.7" y="459.7" class="sl" style="font-size:11.8px">Zn</text>
<text x="261.4" y="459.7" class="sl" style="font-size:11.8px">Zn</text>
<path d="M125 315.5H329M125 363.5H329M125 411H329M125 460H329M157 273V502M296.5 273V502" stroke="#e8efe9" stroke-width="0.9" stroke-opacity="0.55" fill="none"/>
<path d="M157 382.3H296.7" fill="none" stroke="#5a5a5a" stroke-width="1"/>
<path d="M361.4 323.7H263.3" stroke="#000" stroke-width="1.9"/><path d="M269.6 319.8L262.3 323.7L269.6 327.6" fill="none" stroke="#000" stroke-width="2"/>
<path d="M367 412.4H269" stroke="#000" stroke-width="1.9"/><path d="M275.3 408.5L268 412.4L275.3 416.3" fill="none" stroke="#000" stroke-width="2"/>
<path d="M369 449H301.5" stroke="#000" stroke-width="1.9"/><path d="M307.8 445.1L300.5 449L307.8 452.9" fill="none" stroke="#000" stroke-width="2"/>
<text x="374.6" y="329.8" class="rl" style="letter-spacing:1.2px" stroke="#000" stroke-width="0.45">Zn/Eu/Li</text>
<text x="380.5" y="418.2" class="rl" style="letter-spacing:0.4px" stroke="#000" stroke-width="0.45">[ZnO<tspan style="font-size:12.5px" dy="4.3">6</tspan><tspan dy="-4.3">]</tspan></text>
<text x="381.5" y="456.5" class="rl" style="letter-spacing:1.8px" stroke="#000" stroke-width="0.45">[MoO<tspan style="font-size:12.5px" dy="4.3">4</tspan><tspan dy="-4.3">]</tspan></text>
<path d="M49.5 460.2H78" stroke="#22c022" stroke-width="4.4"/>
<path d="M77.5 454.1L93.8 460.2L77.5 466.3Z" fill="#22c022"/>
<path d="M44 461V446" stroke="#b01010" stroke-width="3.6"/>
<ellipse cx="44.2" cy="444.2" rx="6" ry="6.3" fill="url(#gRd)"/>
<path d="M39 440.5Q44.2 436 49.4 440.5" fill="none" stroke="#303080" stroke-width="1.2"/>
<circle cx="44" cy="461" r="5.7" fill="url(#gWh)"/>
<text x="44" y="434.2" class="sl" style="font-size:9.5px">c</text>
<text x="44" y="431.5" class="sl" style="font-size:8.5px">a</text>
<text x="101" y="464" style="font-size:12.5px;fill:#000">b</text>

</svg>
</body></html>
